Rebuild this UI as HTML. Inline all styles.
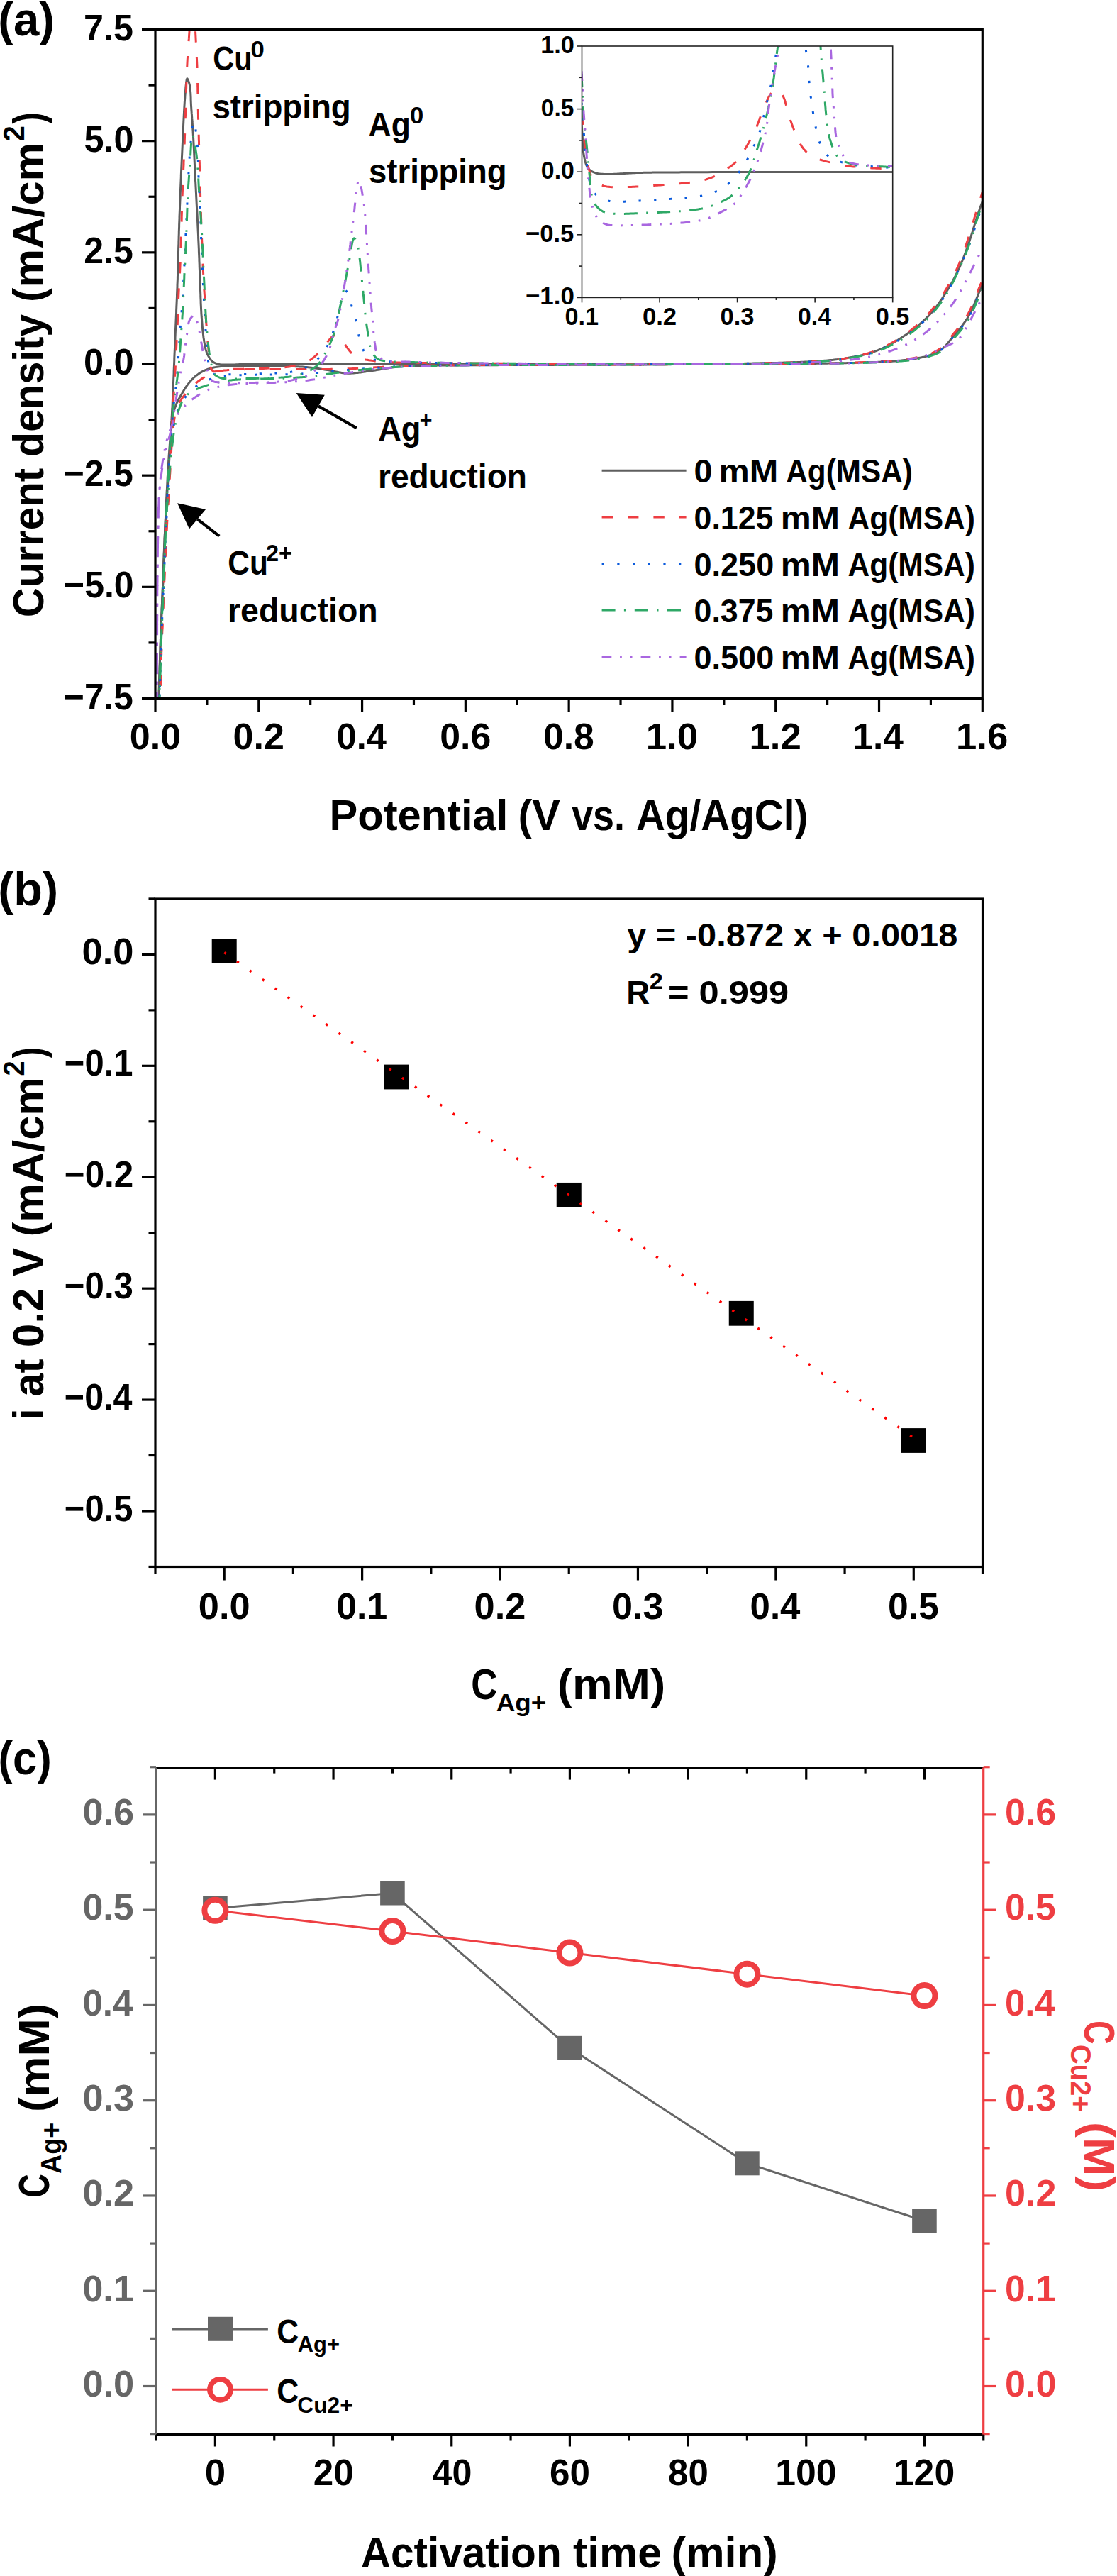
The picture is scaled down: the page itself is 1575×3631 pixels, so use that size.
<!DOCTYPE html><html><head><meta charset="utf-8"><style>html,body{margin:0;padding:0;background:#fff;}svg{display:block;}text{font-family:"Liberation Sans",sans-serif;font-weight:bold;}</style></head><body><svg width="1575" height="3631" viewBox="0 0 1575 3631" font-family="Liberation Sans, sans-serif" font-weight="bold">
<rect width="100%" height="100%" fill="#fff"/>
<defs>
<clipPath id="clipA"><rect x="219.0" y="41.5" width="1166.3" height="943.0"/></clipPath>
<clipPath id="clipI"><rect x="820.5" y="65.0" width="438.20000000000005" height="354.4"/></clipPath>
</defs>
<g clip-path="url(#clipA)" fill="none" stroke-width="3" stroke-linejoin="round">
<path d="M223.4,1003.4 223.4,1000.9 223.5,998.5 223.6,996.0 223.7,993.6 223.7,991.1 223.8,988.7 223.9,986.2 223.9,983.7 224.0,981.3 224.1,978.8 224.2,976.3 224.2,973.8 224.3,971.4 224.4,968.9 224.4,966.4 224.5,964.0 224.6,961.5 224.6,959.0 224.7,956.5 224.8,954.1 224.9,951.6 224.9,949.2 225.0,946.7 225.1,944.2 225.1,941.8 225.2,939.4 225.3,936.9 225.4,934.5 225.4,932.1 225.5,929.6 225.6,927.2 225.7,924.8 225.7,922.4 225.8,920.0 225.9,917.7 226.0,915.3 226.0,912.9 226.1,910.6 226.2,908.2 226.3,905.9 226.4,903.8 226.4,901.7 226.5,899.6 226.6,897.5 226.7,895.4 226.7,893.4 226.8,891.3 226.9,889.2 227.0,887.2 227.1,885.1 227.1,883.1 227.2,881.0 227.3,879.0 227.4,877.0 227.5,875.0 227.6,873.0 227.6,870.9 227.7,868.9 227.8,866.9 227.9,864.9 228.0,862.9 228.1,860.9 228.1,858.9 228.2,856.9 228.3,854.9 228.4,852.9 228.5,850.9 228.6,848.9 228.7,846.9 228.7,844.9 228.8,842.9 228.9,840.9 229.0,838.9 229.1,836.9 229.2,834.9 229.2,832.9 229.3,830.9 229.4,828.9 229.5,826.8 229.6,824.8 229.7,822.8 229.7,820.7 229.8,818.7 229.9,816.7 230.0,814.6 230.1,812.6 230.1,810.5 230.2,808.5 230.3,806.5 230.4,804.4 230.5,802.4 230.5,800.3 230.6,798.3 230.7,796.2 230.8,794.2 230.8,792.1 230.9,790.1 231.0,788.1 231.1,786.0 231.2,784.0 231.2,781.9 231.3,779.9 231.4,777.8 231.5,775.8 231.6,773.8 231.6,771.7 231.7,769.7 231.8,767.6 231.9,765.6 232.0,763.5 232.1,761.5 232.1,759.4 232.2,757.4 232.3,755.4 232.4,753.3 232.5,751.3 232.6,749.2 232.7,747.2 232.8,745.1 232.8,743.1 232.9,741.0 233.0,739.0 233.1,737.0 233.2,734.9 233.3,732.9 233.4,730.8 233.5,728.8 233.6,726.7 233.7,724.7 233.8,722.7 233.9,720.6 234.0,718.6 234.1,716.5 234.2,714.5 234.3,712.4 234.3,710.4 234.4,708.3 234.5,706.3 234.6,704.3 234.7,702.2 234.8,700.2 234.9,698.1 235.0,696.1 235.1,694.0 235.2,692.0 235.4,690.0 235.5,687.9 235.6,685.9 235.7,683.8 235.8,681.8 235.9,679.7 236.0,677.7 236.1,675.7 236.2,673.6 236.3,671.6 236.5,669.5 236.6,667.5 236.7,665.4 236.8,663.4 236.9,661.4 237.1,659.3 237.2,657.3 237.3,655.3 237.4,653.2 237.6,651.2 237.7,649.2 237.9,647.2 238.0,645.1 238.1,643.1 238.3,641.1 238.4,639.1 238.6,637.1 238.7,635.0 238.9,633.0 239.0,631.0 239.2,629.0 239.3,627.0 239.5,625.0 239.6,622.9 239.8,620.9 240.0,618.9 240.1,616.9 240.3,614.9 240.4,612.8 240.6,610.8 240.7,608.8 240.9,606.7 241.0,604.7 241.2,602.7 241.3,600.6 241.4,598.6 241.6,596.5 241.7,594.5 241.9,592.4 242.0,590.3 242.1,588.3 242.3,586.2 242.4,584.1 242.5,582.0 242.6,580.0 242.7,577.7 242.9,575.5 243.0,573.3 243.1,571.1 243.2,568.9 243.3,566.6 243.4,564.4 243.5,562.1 243.6,559.9 243.7,557.6 243.8,555.4 243.9,553.1 244.0,550.9 244.1,548.6 244.2,546.3 244.3,544.0 244.4,541.8 244.5,539.5 244.6,537.2 244.7,534.9 244.8,532.6 244.9,530.4 245.0,528.1 245.1,525.8 245.1,523.5 245.2,521.2 245.3,518.9 245.4,516.7 245.5,514.4 245.6,512.1 245.7,509.8 245.8,507.5 245.8,505.2 245.9,503.0 246.0,500.7 246.1,498.4 246.2,496.2 246.3,493.9 246.4,491.6 246.5,489.4 246.6,487.1 246.7,484.9 246.8,482.6 246.9,480.4 247.0,478.2 247.0,475.9 247.1,473.7 247.2,471.5 247.3,469.2 247.4,467.0 247.5,464.8 247.6,462.5 247.7,460.3 247.8,458.1 247.9,455.9 248.0,453.6 248.1,451.4 248.2,449.2 248.3,446.9 248.4,444.7 248.5,442.5 248.6,440.3 248.6,438.0 248.7,435.8 248.8,433.6 248.9,431.3 249.0,429.1 249.1,426.9 249.2,424.6 249.3,422.4 249.4,420.1 249.5,417.9 249.5,415.6 249.6,413.4 249.7,411.1 249.8,408.9 249.9,406.6 250.0,404.4 250.0,402.1 250.1,399.8 250.2,397.5 250.3,395.2 250.4,392.8 250.4,390.5 250.5,388.2 250.6,385.8 250.7,383.4 250.7,381.1 250.8,378.7 250.9,376.4 251.0,374.0 251.0,371.6 251.1,369.3 251.2,366.9 251.2,364.5 251.3,362.2 251.4,359.8 251.4,357.4 251.5,355.0 251.6,352.7 251.6,350.3 251.7,347.9 251.8,345.5 251.9,343.2 251.9,340.8 252.0,338.4 252.1,336.1 252.1,333.7 252.2,331.3 252.3,329.0 252.3,326.6 252.4,324.3 252.5,321.9 252.6,319.5 252.6,317.2 252.7,314.9 252.8,312.5 252.9,310.2 253.0,307.9 253.0,305.5 253.1,303.3 253.2,301.0 253.3,298.8 253.4,296.5 253.5,294.3 253.5,292.0 253.6,289.8 253.7,287.5 253.8,285.3 253.9,283.0 254.0,280.7 254.1,278.5 254.2,276.2 254.2,274.0 254.3,271.7 254.4,269.5 254.5,267.3 254.6,265.0 254.7,262.8 254.8,260.6 254.9,258.3 255.0,256.1 255.1,253.9 255.2,251.7 255.3,249.4 255.3,247.2 255.4,245.0 255.5,242.8 255.6,240.6 255.7,238.4 255.8,236.3 255.9,234.1 256.0,231.9 256.1,229.7 256.2,227.6 256.3,225.4 256.4,223.3 256.5,221.1 256.6,219.0 256.7,216.9 256.8,214.8 256.9,212.7 257.0,210.5 257.1,208.4 257.2,206.2 257.3,204.1 257.4,201.9 257.5,199.7 257.6,197.6 257.7,195.4 257.8,193.2 257.9,191.0 258.0,188.9 258.1,186.7 258.2,184.6 258.3,182.4 258.4,180.3 258.5,178.2 258.6,176.0 258.7,174.0 258.8,171.9 258.9,169.8 259.0,167.8 259.1,165.8 259.2,163.8 259.3,161.9 259.4,159.9 259.5,158.1 259.6,156.2 259.7,154.4 259.8,152.6 259.9,150.8 260.0,149.1 260.1,147.5 260.2,145.8 260.3,144.2 260.4,142.7 260.6,140.1 260.8,137.6 260.9,135.1 261.1,132.7 261.3,130.4 261.5,128.1 261.7,125.9 261.8,123.9 262.0,122.0 262.2,120.2 262.4,118.5 262.6,117.0 262.7,115.7 263.2,112.3 263.8,110.7 264.2,111.0 264.8,111.9 265.4,113.2 266.0,115.0 266.7,117.1 267.3,119.4 267.8,122.0 268.1,123.6 268.3,125.3 268.5,127.2 268.6,129.2 268.8,131.2 268.9,133.4 269.0,135.6 269.1,137.8 269.1,140.1 269.2,142.4 269.3,144.7 269.4,147.0 269.5,149.3 269.7,151.5 269.8,153.5 269.9,155.5 270.1,157.5 270.2,159.4 270.4,161.4 270.5,163.4 270.7,165.4 270.8,167.4 271.0,169.4 271.1,171.5 271.3,173.6 271.4,175.8 271.6,178.0 271.8,180.2 271.9,182.5 272.1,184.9 272.2,187.4 272.3,189.0 272.4,190.8 272.5,192.6 272.6,194.4 272.7,196.2 272.8,198.1 272.9,200.0 273.0,201.9 273.1,203.9 273.2,205.9 273.3,207.9 273.4,209.9 273.5,212.0 273.6,214.0 273.7,216.1 273.8,218.2 273.9,220.3 274.0,222.5 274.1,224.6 274.2,226.8 274.3,228.9 274.4,231.1 274.5,233.2 274.6,235.4 274.7,237.6 274.8,239.7 274.9,241.9 275.0,244.0 275.1,246.2 275.2,248.3 275.3,250.5 275.4,252.6 275.5,254.7 275.7,256.8 275.8,258.8 275.9,260.9 276.0,262.9 276.1,264.9 276.2,266.9 276.3,268.9 276.4,270.9 276.5,272.9 276.6,274.9 276.7,276.9 276.8,278.9 276.9,280.9 277.0,282.9 277.1,285.0 277.2,287.0 277.3,289.0 277.4,291.0 277.5,293.0 277.6,295.0 277.7,297.0 277.9,299.0 278.0,301.0 278.1,303.0 278.2,305.0 278.3,307.0 278.4,309.0 278.5,311.0 278.6,313.0 278.7,315.1 278.8,317.1 278.9,319.1 279.0,321.1 279.1,323.1 279.2,325.1 279.3,327.1 279.4,329.1 279.5,331.1 279.6,333.1 279.6,335.1 279.7,337.1 279.8,339.2 279.9,341.3 280.0,343.4 280.1,345.5 280.2,347.7 280.3,349.8 280.4,352.0 280.4,354.1 280.5,356.3 280.6,358.4 280.7,360.6 280.8,362.8 280.9,364.9 280.9,367.1 281.0,369.2 281.1,371.4 281.2,373.5 281.2,375.6 281.3,377.8 281.4,379.9 281.5,382.0 281.5,384.0 281.6,386.1 281.7,388.1 281.8,390.1 281.8,392.1 281.9,394.1 282.0,396.0 282.1,397.9 282.1,399.8 282.2,401.6 282.3,403.4 282.3,405.2 282.4,406.9 282.5,408.6 282.6,411.1 282.7,413.4 282.8,415.7 282.8,417.9 282.9,420.1 283.0,422.2 283.1,424.3 283.1,426.3 283.2,428.4 283.3,430.4 283.4,432.3 283.5,434.3 283.6,436.3 283.7,438.3 283.8,440.3 283.9,442.4 284.1,444.5 284.2,446.5 284.4,448.5 284.6,450.6 284.7,452.7 284.9,454.8 285.1,457.0 285.2,459.1 285.4,461.2 285.6,463.3 285.8,465.4 286.0,467.4 286.2,469.4 286.5,471.4 286.7,473.3 286.9,475.2 287.2,477.1 287.5,478.8 287.7,480.5 288.1,482.8 288.5,485.0 288.9,487.1 289.3,489.2 289.7,491.2 290.2,493.1 290.8,494.9 291.4,496.7 292.1,498.4 293.0,500.3 294.0,502.2 295.1,504.1 296.3,505.8 297.5,507.4 298.8,508.8 300.2,510.0 302.0,511.1 303.9,512.0 305.9,512.7 308.0,513.2 310.0,513.6 312.1,514.0 314.2,514.1 316.3,514.1 318.6,514.1 321.1,514.1 322.9,514.1 324.8,514.1 326.7,514.0 328.8,514.0 330.9,513.9 333.1,513.8 335.4,513.7 337.8,513.6 340.3,513.6 342.9,513.5 344.5,513.5 346.0,513.5 347.6,513.4 349.2,513.4 350.8,513.4 352.5,513.4 354.1,513.4 355.8,513.3 357.6,513.3 359.3,513.3 361.2,513.3 363.0,513.3 364.9,513.3 366.8,513.3 368.7,513.3 370.7,513.3 372.8,513.3 374.9,513.3 377.0,513.2 379.2,513.2 381.4,513.2 383.7,513.2 386.0,513.2 388.4,513.2 390.9,513.2 393.4,513.2 395.9,513.2 398.5,513.2 401.2,513.2 405.5,513.2 409.9,513.2 414.5,513.2 419.4,513.1 424.4,513.1 429.6,513.1 434.9,513.1 440.5,513.1 446.1,513.1 451.9,513.1 457.9,513.1 464.0,513.1 470.2,513.1 476.5,513.1 483.0,513.1 489.5,513.1 496.1,513.1 502.8,513.1 509.6,513.1 516.5,513.1 523.4,513.1 530.4,513.1 537.4,513.1 544.4,513.1 551.5,513.1 558.6,513.1 565.8,513.1 572.9,513.1 580.0,513.1 587.2,513.1 594.3,513.1 601.4,513.1 608.4,513.1 615.4,513.1 622.4,513.1 629.3,513.1 636.2,513.1 643.0,513.1 649.7,513.1 656.4,513.1 663.5,513.1 670.6,513.1 677.9,513.1 685.2,513.1 692.6,513.1 700.0,513.1 707.5,513.1 715.0,513.1 722.6,513.1 730.2,513.1 737.9,513.1 745.6,513.1 753.3,513.1 761.0,513.1 768.7,513.1 776.4,513.1 784.1,513.1 791.8,513.1 799.5,513.1 807.2,513.1 814.8,513.1 822.5,513.1 830.0,513.1 837.6,513.1 845.1,513.1 852.5,513.1 859.9,513.1 867.2,513.1 874.5,513.1 881.6,513.1 888.7,513.1 895.7,513.1 902.6,513.0 909.4,513.0 916.1,513.0 922.7,513.0 929.2,513.0 935.6,513.0 941.8,513.0 947.9,513.0 952.2,513.0 956.4,513.0 960.7,513.0 964.8,513.0 969.0,513.0 973.2,513.0 977.3,513.0 981.4,513.0 985.5,512.9 989.5,512.9 993.5,512.9 997.5,512.9 1001.5,512.9 1005.4,512.9 1009.3,512.9 1013.1,512.9 1017.0,512.9 1020.7,512.9 1024.5,512.9 1028.2,512.9 1031.9,512.9 1035.6,512.9 1039.2,512.8 1042.7,512.8 1046.3,512.8 1049.7,512.8 1053.2,512.8 1056.6,512.8 1059.9,512.8 1063.3,512.8 1066.5,512.8 1069.7,512.8 1072.9,512.8 1076.0,512.7 1079.1,512.7 1082.1,512.7 1085.1,512.7 1088.0,512.7 1090.9,512.7 1093.7,512.7 1096.2,512.7 1098.5,512.7 1100.9,512.7 1103.1,512.7 1105.4,512.6 1107.5,512.6 1109.6,512.6 1111.7,512.6 1113.8,512.6 1115.8,512.6 1117.7,512.6 1119.7,512.6 1121.6,512.6 1123.5,512.6 1125.4,512.6 1127.3,512.6 1129.1,512.5 1131.0,512.5 1132.8,512.5 1134.7,512.5 1136.5,512.5 1138.4,512.5 1140.3,512.5 1142.1,512.5 1144.0,512.4 1146.0,512.4 1147.9,512.4 1149.9,512.4 1151.9,512.3 1154.0,512.3 1156.1,512.3 1158.1,512.3 1160.2,512.2 1162.2,512.2 1164.3,512.2 1166.3,512.2 1168.4,512.1 1170.4,512.1 1172.4,512.1 1174.5,512.0 1176.5,512.0 1178.5,512.0 1180.6,511.9 1182.6,511.9 1184.6,511.9 1186.7,511.8 1188.7,511.8 1190.8,511.7 1192.8,511.7 1194.9,511.6 1196.9,511.6 1199.0,511.5 1201.0,511.5 1203.1,511.4 1205.1,511.4 1207.1,511.3 1209.2,511.3 1211.3,511.2 1213.3,511.1 1215.4,511.1 1217.5,511.0 1219.6,511.0 1221.8,510.9 1223.9,510.8 1226.0,510.8 1228.1,510.7 1230.2,510.6 1232.3,510.6 1234.4,510.5 1236.4,510.4 1238.5,510.3 1240.5,510.2 1242.5,510.1 1244.5,510.0 1246.5,509.9 1248.5,509.8 1250.4,509.7 1252.3,509.6 1254.1,509.5 1256.0,509.4 1257.7,509.2 1260.0,509.0 1262.3,508.9 1264.5,508.7 1266.7,508.5 1268.9,508.3 1271.0,508.1 1273.1,507.8 1275.1,507.6 1277.2,507.4 1279.2,507.1 1281.1,506.9 1283.1,506.6 1285.0,506.4 1286.9,506.1 1288.7,505.8 1290.5,505.5 1292.9,505.0 1295.1,504.6 1297.3,504.2 1299.5,503.8 1301.6,503.3 1303.7,502.9 1305.7,502.3 1307.7,501.8 1309.7,501.1 1311.7,500.4 1313.7,499.7 1315.6,498.9 1317.6,498.0 1319.5,497.1 1321.3,496.2 1323.2,495.2 1325.0,494.1 1326.7,492.9 1328.4,491.6 1330.0,490.4 1331.4,489.1 1332.8,487.7 1334.2,486.2 1335.5,484.7 1336.9,483.1 1338.2,481.5 1339.5,479.8 1340.9,478.1 1342.3,476.4 1343.8,474.7 1344.9,473.2 1346.2,471.8 1347.4,470.3 1348.7,468.8 1349.9,467.3 1351.2,465.8 1352.5,464.2 1353.8,462.6 1355.1,461.0 1356.4,459.3 1357.7,457.6 1358.9,455.9 1360.2,454.2 1361.4,452.4 1362.6,450.6 1363.8,448.8 1364.9,447.0 1365.8,445.3 1366.8,443.6 1367.7,441.9 1368.6,440.2 1369.5,438.4 1370.3,436.5 1371.2,434.7 1372.0,432.8 1372.8,430.9 1373.6,429.0 1374.4,427.1 1375.2,425.2 1376.0,423.2 1376.8,421.3 1377.6,419.4 1378.4,417.4 1379.1,415.5 1379.9,413.6 1380.7,411.7 1381.5,409.8 1382.3,408.0 1383.1,406.1 1384.0,404.2 1384.8,402.3 1385.7,400.4 1386.5,398.5 1387.4,396.6 1388.2,394.7 1389.0,392.8 1389.9,390.9 1390.7,389.1 1391.5,387.2 1392.4,385.3 1393.2,383.4 1394.0,381.5 1394.9,379.7 1395.7,377.8 1396.5,375.9 1397.4,374.1 1398.2,372.2 1399.0,370.3 1399.9,368.4" stroke="#5e5e5e"/>
<path d="M1399.9,249.0 1399.1,250.8 1398.4,252.6 1397.6,254.5 1396.8,256.3 1396.1,258.1 1395.3,259.9 1394.5,261.7 1393.7,263.5 1393.0,265.3 1392.2,267.1 1391.4,269.0 1390.7,270.8 1389.9,272.6 1389.1,274.4 1388.4,276.3 1387.6,278.2 1386.9,280.1 1386.1,282.0 1385.4,283.9 1384.6,285.8 1383.9,287.8 1383.1,289.8 1382.5,291.6 1381.8,293.4 1381.2,295.3 1380.5,297.2 1379.9,299.1 1379.2,301.1 1378.6,303.0 1377.9,305.0 1377.3,307.0 1376.7,309.0 1376.0,311.1 1375.4,313.1 1374.7,315.1 1374.1,317.2 1373.5,319.2 1372.8,321.3 1372.2,323.3 1371.6,325.3 1371.0,327.3 1370.3,329.3 1369.7,331.2 1369.1,333.2 1368.5,335.1 1367.9,336.9 1367.3,338.8 1366.7,340.6 1366.1,342.4 1365.5,344.1 1364.9,345.8 1364.1,347.9 1363.4,350.0 1362.7,352.0 1362.0,354.0 1361.3,355.9 1360.6,357.8 1359.9,359.7 1359.2,361.5 1358.5,363.3 1357.8,365.1 1357.1,366.9 1356.4,368.7 1355.7,370.5 1354.9,372.3 1354.1,374.1 1353.3,376.0 1352.5,377.8 1351.6,379.7 1350.8,381.5 1349.9,383.3 1349.0,385.2 1348.1,387.0 1347.2,388.8 1346.3,390.7 1345.3,392.5 1344.4,394.3 1343.4,396.1 1342.4,398.0 1341.4,399.8 1340.4,401.6 1339.3,403.4 1338.3,405.2 1337.2,407.0 1336.1,408.8 1335.0,410.5 1333.9,412.3 1332.8,414.0 1331.7,415.7 1330.6,417.5 1329.4,419.2 1328.3,421.0 1327.1,422.7 1325.9,424.4 1324.8,426.1 1323.5,427.8 1322.3,429.5 1321.1,431.2 1319.8,432.9 1318.5,434.6 1317.2,436.2 1315.8,437.8 1314.5,439.4 1313.1,441.0 1311.7,442.6 1310.3,444.0 1309.0,445.5 1307.6,446.9 1306.2,448.3 1304.8,449.7 1303.3,451.1 1301.9,452.4 1300.4,453.8 1298.9,455.1 1297.4,456.4 1295.9,457.8 1294.3,459.1 1292.7,460.3 1291.2,461.6 1289.6,462.9 1287.9,464.2 1286.3,465.4 1284.7,466.6 1283.0,467.8 1281.3,469.1 1279.6,470.3 1278.0,471.4 1276.3,472.5 1274.7,473.6 1273.0,474.7 1271.3,475.9 1269.5,477.0 1267.8,478.1 1266.0,479.2 1264.2,480.2 1262.4,481.3 1260.6,482.4 1258.8,483.4 1257.0,484.4 1255.2,485.4 1253.3,486.4 1251.5,487.4 1249.6,488.3 1247.7,489.2 1245.9,490.1 1244.0,491.0 1242.2,491.8 1240.3,492.6 1238.4,493.4 1236.6,494.1 1234.7,494.9 1232.7,495.6 1230.8,496.3 1228.8,496.9 1226.8,497.5 1224.9,498.1 1222.9,498.6 1220.9,499.2 1218.9,499.7 1216.9,500.2 1214.9,500.6 1212.9,501.1 1210.9,501.5 1208.9,501.9 1206.9,502.3 1204.9,502.7 1202.9,503.1 1200.9,503.4 1198.9,503.8 1196.9,504.1 1194.9,504.5 1192.9,504.8 1190.8,505.2 1188.8,505.5 1186.8,505.8 1184.8,506.1 1182.8,506.3 1180.8,506.6 1178.8,506.8 1176.7,507.0 1174.7,507.3 1172.7,507.5 1170.7,507.6 1168.7,507.8 1166.7,508.0 1164.6,508.2 1162.6,508.3 1160.5,508.5 1158.4,508.6 1156.3,508.8 1154.2,508.9 1152.0,509.1 1149.9,509.2 1148.0,509.4 1146.1,509.5 1144.3,509.6 1142.5,509.7 1140.6,509.8 1138.8,509.9 1137.0,510.0 1135.1,510.1 1133.3,510.2 1131.4,510.3 1129.6,510.3 1127.7,510.4 1125.8,510.5 1123.9,510.6 1122.0,510.6 1120.0,510.7 1118.0,510.8 1116.0,510.8 1114.0,510.9 1111.9,510.9 1109.8,511.0 1107.6,511.1 1105.4,511.1 1103.2,511.2 1100.9,511.2 1098.6,511.3 1096.2,511.4 1093.7,511.4 1090.9,511.5 1088.0,511.6 1085.1,511.6 1082.0,511.7 1079.0,511.8 1075.8,511.9 1072.7,511.9 1069.4,512.0 1066.1,512.1 1062.8,512.1 1059.4,512.2 1055.9,512.3 1052.5,512.3 1048.9,512.4 1045.4,512.4 1041.7,512.5 1038.1,512.5 1034.4,512.6 1030.7,512.7 1026.9,512.7 1023.2,512.8 1019.4,512.8 1015.5,512.9 1011.7,512.9 1007.8,513.0 1003.9,513.0 999.9,513.1 996.0,513.1 992.0,513.2 988.1,513.2 984.1,513.3 980.1,513.3 976.1,513.3 972.1,513.4 968.0,513.4 964.0,513.5 960.0,513.5 956.0,513.5 952.0,513.6 947.9,513.6 943.0,513.7 937.9,513.7 932.7,513.8 927.4,513.8 922.0,513.8 916.6,513.9 911.1,513.9 905.5,513.9 899.8,514.0 894.1,514.0 888.3,514.0 882.5,514.1 876.6,514.1 870.7,514.1 864.8,514.1 858.9,514.2 853.0,514.2 847.1,514.2 841.1,514.2 835.2,514.3 829.3,514.3 823.4,514.3 817.6,514.3 811.8,514.3 806.0,514.3 800.3,514.4 794.6,514.4 789.0,514.4 783.5,514.4 778.0,514.4 772.7,514.4 767.4,514.4 762.2,514.5 757.1,514.5 752.2,514.5 747.3,514.5 742.6,514.5 738.0,514.5 733.6,514.6 729.3,514.6 726.6,514.6 724.0,514.6 721.4,514.6 718.8,514.6 716.2,514.6 713.7,514.6 711.2,514.6 708.8,514.6 706.3,514.6 703.9,514.6 701.5,514.7 699.2,514.7 696.8,514.7 694.5,514.7 692.2,514.7 690.0,514.7 687.8,514.7 685.5,514.7 683.4,514.7 681.2,514.7 679.0,514.7 676.9,514.7 674.8,514.7 672.7,514.7 670.7,514.7 668.6,514.7 666.6,514.7 664.6,514.7 662.6,514.8 660.6,514.8 658.7,514.8 656.7,514.8 654.8,514.8 652.9,514.8 651.0,514.8 649.1,514.8 647.3,514.8 645.4,514.9 643.6,514.9 641.8,514.9 639.4,514.9 637.0,514.9 634.7,514.9 632.5,515.0 630.3,515.0 628.1,515.0 626.0,515.0 623.9,515.1 621.8,515.1 619.8,515.1 617.7,515.1 615.8,515.1 613.8,515.2 611.8,515.2 609.8,515.2 607.9,515.3 605.9,515.3 604.0,515.4 602.0,515.4 600.0,515.5 598.0,515.5 595.9,515.6 593.8,515.6 591.7,515.7 589.6,515.7 587.5,515.8 585.4,515.8 583.3,515.9 581.3,515.9 579.2,516.0 577.2,516.1 575.1,516.1 573.1,516.2 571.0,516.3 569.0,516.5 567.0,516.6 564.9,516.7 562.9,516.9 560.9,517.1 558.9,517.3 556.9,517.5 554.9,517.8 552.9,518.1 550.9,518.3 548.9,518.6 546.9,519.0 544.9,519.3 542.9,519.6 541.0,520.0 539.0,520.3 537.0,520.6 535.0,521.0 533.1,521.3 531.1,521.6 529.1,521.9 527.1,522.2 525.2,522.4 523.1,522.7 521.0,523.0 518.9,523.3 516.9,523.6 514.8,523.9 512.7,524.3 510.6,524.6 508.5,524.9 506.5,525.1 504.4,525.4 502.3,525.6 500.3,525.8 498.2,526.0 496.2,526.1 494.2,526.2 492.2,526.2 490.2,526.2 488.1,526.1 486.0,525.9 483.9,525.7 481.8,525.4 479.8,525.1 477.7,524.7 475.7,524.3 473.7,523.9 471.6,523.5 469.6,523.1 467.6,522.6 465.6,522.2 463.6,521.8 461.6,521.5 459.5,521.2 457.4,520.9 455.4,520.6 453.3,520.2 451.2,519.9 449.1,519.6 447.1,519.3 445.0,519.0 442.9,518.8 440.8,518.5 438.8,518.2 436.7,518.0 434.6,517.8 432.5,517.6 430.4,517.4 428.4,517.2 426.5,517.1 424.5,517.0 422.6,516.9 420.7,516.8 418.9,516.8 416.9,516.7 415.0,516.6 413.0,516.6 411.0,516.6 408.9,516.5 406.8,516.5 404.5,516.5 402.2,516.4 399.8,516.4 398.2,516.4 396.5,516.3 394.7,516.3 392.9,516.3 391.0,516.3 389.0,516.3 387.0,516.2 384.9,516.2 382.8,516.2 380.7,516.2 378.5,516.2 376.3,516.2 374.0,516.1 371.7,516.1 369.5,516.1 367.2,516.1 364.9,516.1 362.6,516.1 360.3,516.1 358.0,516.1 355.7,516.1 353.5,516.1 351.2,516.1 349.0,516.1 346.9,516.1 344.7,516.1 342.6,516.1 340.6,516.1 338.6,516.2 336.7,516.2 334.8,516.2 333.0,516.2 331.2,516.2 329.6,516.3 328.0,516.3 326.5,516.3 325.1,516.3 322.3,516.4 319.9,516.4 317.6,516.4 315.5,516.4 313.5,516.5 311.5,516.6 309.6,516.7 307.6,516.9 305.6,517.2 303.5,517.6 301.5,518.0 299.4,518.5 297.4,519.0 295.4,519.6 293.4,520.2 291.5,520.9 289.6,521.7 287.7,522.5 285.9,523.4 284.1,524.4 282.3,525.4 280.6,526.5 279.0,527.7 277.3,528.9 275.7,530.2 274.2,531.5 272.6,533.0 271.0,534.5 269.5,536.2 268.1,537.8 266.6,539.6 265.2,541.4 263.9,543.1 262.6,544.9 261.3,546.8 260.1,548.7 258.9,550.7 257.7,552.7 256.6,554.7 255.5,556.5 254.5,558.3 253.6,559.9 252.3,562.1 251.1,564.1 249.9,566.4 249.3,567.9 248.6,569.5 247.9,571.2 247.3,573.0 246.6,574.9 245.9,577.0 245.3,579.1 244.7,581.3 244.1,583.6 243.6,585.9 243.3,587.5 243.1,589.2 242.8,591.0 242.6,592.8 242.3,594.7 242.1,596.6 241.9,598.6 241.8,600.6 241.6,602.7 241.4,604.8 241.3,606.9 241.2,609.1 241.0,611.2 240.9,613.4 240.8,615.5 240.7,617.7 240.5,619.9 240.4,622.0 240.3,624.2 240.2,626.3 240.1,628.4 239.9,630.4 239.8,632.4 239.6,634.5 239.5,636.5 239.3,638.4 239.2,640.4 239.1,642.3 238.9,644.3 238.8,646.2 238.7,648.2 238.6,650.1 238.4,652.0 238.3,654.0 238.2,655.9 238.1,657.9 238.0,659.8 237.8,661.8 237.7,663.8 237.6,665.9 237.5,667.9 237.3,670.0 237.2,672.1 237.1,674.3 236.9,676.5 236.8,678.3 236.7,680.1 236.6,682.0 236.5,683.8 236.3,685.7 236.2,687.6 236.1,689.6 236.0,691.5 235.8,693.4 235.7,695.4 235.6,697.4 235.5,699.4 235.3,701.4 235.2,703.4 235.1,705.4 234.9,707.5 234.8,709.5 234.7,711.6 234.5,713.6 234.4,715.7 234.3,717.8 234.2,719.9 234.0,722.0 233.9,724.1 233.8,726.2 233.7,728.3 233.5,730.4 233.4,732.5 233.3,734.6 233.2,736.7 233.1,738.8 233.0,741.0 232.8,743.1 232.8,745.0 232.7,747.0 232.6,749.0 232.5,750.9 232.4,752.9 232.3,754.9 232.2,756.9 232.1,758.9 232.0,760.9 231.9,762.9 231.9,765.0 231.8,767.0 231.7,769.0 231.6,771.1 231.5,773.1 231.4,775.2 231.4,777.3 231.3,779.3 231.2,781.4 231.1,783.5 231.1,785.5 231.0,787.6 230.9,789.7 230.8,791.7 230.7,793.8 230.7,795.9 230.6,798.0 230.5,800.1 230.4,802.1 230.4,804.2 230.3,806.3 230.2,808.4 230.1,810.4 230.0,812.5 230.0,814.6 229.9,816.6 229.8,818.7 229.7,820.7 229.7,822.8 229.6,824.8 229.5,826.8 229.4,828.9 229.3,830.9 229.2,832.9 229.2,834.9 229.1,836.9 229.0,838.9 228.9,840.9 228.8,842.9 228.7,844.9 228.7,846.9 228.6,848.9 228.5,850.9 228.4,852.9 228.3,854.9 228.2,856.9 228.1,858.9 228.1,860.9 228.0,862.9 227.9,864.9 227.8,866.9 227.7,868.9 227.6,870.9 227.6,873.0 227.5,875.0 227.4,877.0 227.3,879.0 227.2,881.0 227.1,883.1 227.1,885.1 227.0,887.2 226.9,889.2 226.8,891.3 226.7,893.4 226.7,895.4 226.6,897.5 226.5,899.6 226.4,901.7 226.4,903.8 226.3,905.9 226.2,908.2 226.1,910.6 226.0,912.9 226.0,915.3 225.9,917.7 225.8,920.0 225.7,922.4 225.7,924.8 225.6,927.2 225.5,929.6 225.4,932.1 225.4,934.5 225.3,936.9 225.2,939.4 225.1,941.8 225.1,944.2 225.0,946.7 224.9,949.2 224.9,951.6 224.8,954.1 224.7,956.5 224.6,959.0 224.6,961.5 224.5,964.0 224.4,966.4 224.4,968.9 224.3,971.4 224.2,973.8 224.2,976.3 224.1,978.8 224.0,981.3 223.9,983.7 223.9,986.2 223.8,988.7 223.7,991.1 223.7,993.6 223.6,996.0 223.5,998.5 223.4,1000.9 223.4,1003.4" stroke="#5e5e5e"/>
<path d="M225.2,1003.4 225.3,1000.9 225.3,998.5 225.4,996.0 225.5,993.6 225.6,991.1 225.6,988.7 225.7,986.2 225.8,983.7 225.8,981.3 225.9,978.8 226.0,976.3 226.0,973.8 226.1,971.4 226.2,968.9 226.3,966.4 226.3,964.0 226.4,961.5 226.5,959.0 226.5,956.5 226.6,954.1 226.7,951.6 226.8,949.2 226.8,946.7 226.9,944.2 227.0,941.8 227.0,939.4 227.1,936.9 227.2,934.5 227.3,932.1 227.3,929.6 227.4,927.2 227.5,924.8 227.6,922.4 227.6,920.0 227.7,917.7 227.8,915.3 227.9,912.9 227.9,910.6 228.0,908.2 228.1,905.9 228.2,903.8 228.3,901.7 228.3,899.6 228.4,897.5 228.5,895.4 228.6,893.4 228.7,891.3 228.7,889.2 228.8,887.2 228.9,885.1 229.0,883.1 229.1,881.0 229.1,879.0 229.2,877.0 229.3,875.0 229.4,873.0 229.5,870.9 229.5,868.9 229.6,866.9 229.7,864.9 229.8,862.9 229.9,860.9 230.0,858.9 230.1,856.9 230.1,854.9 230.2,852.9 230.3,850.9 230.4,848.9 230.5,846.9 230.6,844.9 230.6,842.9 230.7,840.9 230.8,838.9 230.9,836.9 231.0,834.9 231.1,832.9 231.1,830.9 231.2,828.9 231.3,826.8 231.4,824.8 231.5,822.8 231.6,820.7 231.6,818.7 231.7,816.7 231.8,814.6 231.9,812.6 232.0,810.5 232.0,808.5 232.1,806.5 232.2,804.4 232.3,802.4 232.4,800.3 232.4,798.3 232.5,796.2 232.6,794.2 232.7,792.1 232.7,790.1 232.8,788.1 232.9,786.0 233.0,784.0 233.1,781.9 233.1,779.9 233.2,777.8 233.3,775.8 233.4,773.8 233.5,771.7 233.6,769.7 233.6,767.6 233.7,765.6 233.8,763.5 233.9,761.5 234.0,759.4 234.1,757.4 234.1,755.4 234.2,753.3 234.3,751.3 234.4,749.2 234.5,747.2 234.6,745.1 234.7,743.1 234.8,741.0 234.9,739.0 234.9,736.9 235.0,734.9 235.1,732.8 235.2,730.8 235.3,728.7 235.4,726.7 235.5,724.6 235.6,722.5 235.7,720.5 235.8,718.4 235.9,716.4 236.0,714.3 236.1,712.2 236.2,710.2 236.3,708.1 236.4,706.1 236.5,704.0 236.6,701.9 236.7,699.9 236.8,697.8 236.9,695.8 237.0,693.7 237.1,691.7 237.2,689.6 237.3,687.6 237.4,685.5 237.5,683.5 237.6,681.5 237.7,679.4 237.8,677.4 237.9,675.4 238.0,673.4 238.1,671.4 238.3,669.3 238.4,667.3 238.5,665.3 238.6,663.4 238.7,661.4 238.8,659.3 238.9,657.2 239.0,655.1 239.1,653.1 239.3,651.0 239.4,648.9 239.5,646.8 239.6,644.8 239.7,642.7 239.9,640.7 240.0,638.6 240.1,636.6 240.2,634.5 240.4,632.5 240.5,630.4 240.6,628.4 240.7,626.4 240.8,624.3 241.0,622.3 241.1,620.3 241.2,618.3 241.3,616.2 241.5,614.2 241.6,612.2 241.7,610.2 241.8,608.2 242.0,606.2 242.1,604.2 242.2,602.2 242.3,600.3 242.5,598.3 242.6,596.3 242.7,594.3 242.8,592.4 242.9,590.4 243.1,588.4 243.2,586.3 243.3,584.2 243.4,582.0 243.6,579.9 243.7,577.8 243.8,575.6 244.0,573.4 244.1,571.3 244.2,569.1 244.4,567.0 244.5,564.9 244.6,562.7 244.8,560.6 244.9,558.5 245.0,556.3 245.2,554.2 245.3,552.2 245.4,550.1 245.6,548.0 245.7,546.0 245.8,543.9 245.9,541.9 246.0,539.9 246.2,538.0 246.3,536.0 246.4,534.1 246.5,532.2 246.6,530.4 246.7,528.5 246.8,526.7 246.9,524.9 247.0,522.6 247.2,520.3 247.3,518.0 247.4,515.8 247.5,513.7 247.6,511.6 247.7,509.5 247.8,507.4 247.9,505.4 248.0,503.4 248.1,501.4 248.2,499.4 248.3,497.4 248.4,495.3 248.5,493.3 248.6,491.2 248.7,489.1 248.8,487.1 248.9,485.0 249.0,483.0 249.1,480.9 249.2,478.9 249.3,476.8 249.4,474.7 249.5,472.7 249.6,470.6 249.7,468.5 249.8,466.5 249.9,464.4 250.0,462.3 250.1,460.3 250.2,458.2 250.3,456.1 250.4,454.1 250.5,452.0 250.6,450.0 250.7,447.9 250.7,445.8 250.8,443.8 250.9,441.7 251.0,439.6 251.0,437.6 251.1,435.5 251.2,433.4 251.2,431.4 251.3,429.3 251.4,427.2 251.5,425.2 251.5,423.1 251.6,421.1 251.7,419.0 251.8,417.0 251.9,414.9 252.0,412.8 252.1,410.8 252.2,408.8 252.3,406.9 252.4,404.9 252.5,403.0 252.6,401.1 252.8,399.2 252.9,397.2 253.0,395.2 253.1,393.2 253.2,391.0 253.4,388.9 253.5,386.6 253.6,384.2 253.7,381.7 253.8,379.1 253.9,377.1 254.0,374.9 254.1,372.7 254.2,370.5 254.3,368.1 254.4,365.7 254.5,363.2 254.5,360.7 254.6,358.1 254.7,355.4 254.8,352.7 254.9,350.0 255.0,347.2 255.1,344.3 255.2,341.5 255.3,338.6 255.3,335.7 255.4,332.7 255.5,329.7 255.6,326.8 255.7,323.8 255.8,320.8 255.9,317.8 256.0,314.8 256.1,311.8 256.2,308.8 256.2,305.8 256.3,302.8 256.4,299.9 256.5,296.9 256.6,294.0 256.7,291.2 256.8,288.3 256.9,285.5 257.0,282.8 257.1,280.0 257.1,277.4 257.2,274.8 257.3,272.2 257.4,269.7 257.5,267.5 257.6,265.3 257.7,263.1 257.7,260.9 257.8,258.7 257.9,256.6 258.0,254.5 258.1,252.4 258.2,250.3 258.3,248.2 258.3,246.1 258.4,244.1 258.5,242.0 258.6,240.0 258.7,238.0 258.8,235.9 258.9,233.9 259.0,231.9 259.0,229.9 259.1,228.0 259.2,226.0 259.3,224.0 259.4,222.0 259.5,220.0 259.5,218.1 259.6,216.1 259.7,214.1 259.8,212.1 259.9,210.2 259.9,208.2 260.0,206.2 260.1,204.2 260.2,202.2 260.3,200.2 260.3,198.2 260.4,196.2 260.5,194.1 260.5,192.0 260.6,189.9 260.7,187.9 260.8,185.7 260.8,183.6 260.9,181.5 261.0,179.4 261.0,177.3 261.1,175.1 261.1,173.0 261.2,170.9 261.3,168.7 261.3,166.6 261.4,164.5 261.5,162.4 261.5,160.3 261.6,158.1 261.6,156.1 261.7,154.0 261.8,151.9 261.8,149.9 261.9,147.8 261.9,145.8 262.0,143.8 262.1,141.8 262.1,139.8 262.2,137.9 262.2,136.0 262.3,134.1 262.4,132.3 262.4,130.4 262.5,128.6 262.5,126.8 262.6,125.1 262.7,122.8 262.7,120.6 262.8,118.4 262.9,116.3 263.0,114.2 263.0,112.2 263.1,110.2 263.2,108.2 263.2,106.3 263.3,104.4 263.4,102.5 263.5,100.5 263.6,98.6 263.6,96.7 263.7,94.8 263.8,92.8 263.9,90.8 264.0,88.8 264.1,86.8 264.2,84.8 264.3,82.8 264.5,80.9 264.6,78.9 264.7,76.9 264.8,75.0 265.0,73.0 265.1,71.1 265.2,69.1 265.4,67.1 265.5,65.1 265.7,63.1 265.8,61.1 266.0,59.0 266.1,57.0 266.3,54.9 266.4,52.8 266.6,50.6 266.7,48.4 266.9,46.2 267.0,44.0 267.2,42.1 267.3,40.1 267.4,37.9 267.6,35.6 267.7,33.2 267.9,30.7 268.0,28.2 268.2,25.6 268.3,22.9 268.5,20.2 268.6,17.5 268.8,14.8 268.9,12.0 269.1,9.3 269.3,6.6 269.4,4.0 269.6,1.4 269.7,-1.1 269.9,-3.5 270.1,-5.8 270.2,-8.0 270.4,-10.1 270.5,-12.1 270.7,-13.9 270.8,-15.5 271.0,-17.0 271.1,-18.3 271.3,-19.4 271.4,-20.2 271.6,-20.8 271.7,-21.2 271.8,-21.4 272.0,-21.2 272.1,-20.9 272.2,-20.4 272.3,-19.6 272.5,-18.6 272.6,-17.5 272.7,-16.2 272.8,-14.7 273.0,-13.1 273.1,-11.3 273.2,-9.4 273.3,-7.4 273.4,-5.3 273.5,-3.1 273.7,-0.7 273.8,1.7 273.9,4.1 274.0,6.7 274.1,9.3 274.2,11.9 274.3,14.5 274.4,17.2 274.6,19.9 274.7,22.6 274.8,25.3 274.9,27.9 275.0,30.5 275.1,33.1 275.2,35.6 275.3,38.1 275.4,40.5 275.5,42.8 275.6,45.0 275.7,47.1 275.8,49.1 275.9,50.9 276.0,53.2 276.1,55.4 276.2,57.6 276.3,59.7 276.4,61.8 276.5,63.9 276.6,65.9 276.7,67.9 276.8,69.9 277.0,71.9 277.1,73.9 277.1,75.8 277.2,77.8 277.3,79.8 277.4,81.8 277.5,83.8 277.6,85.8 277.7,87.9 277.8,90.0 277.9,92.1 278.0,94.2 278.0,96.5 278.1,98.7 278.2,100.5 278.2,102.4 278.3,104.3 278.3,106.2 278.4,108.1 278.5,110.0 278.5,112.0 278.5,113.9 278.6,115.9 278.6,117.9 278.7,119.9 278.7,121.9 278.8,123.9 278.8,126.0 278.8,128.0 278.9,130.1 278.9,132.1 278.9,134.2 279.0,136.3 279.0,138.4 279.1,140.5 279.1,142.6 279.1,144.6 279.2,146.7 279.2,148.8 279.2,150.9 279.3,153.0 279.3,155.1 279.4,157.2 279.4,159.3 279.5,161.4 279.5,163.5 279.5,165.6 279.6,167.7 279.6,169.7 279.7,171.7 279.7,173.7 279.8,175.7 279.9,177.7 279.9,179.7 280.0,181.7 280.0,183.7 280.1,185.7 280.1,187.7 280.2,189.8 280.2,191.8 280.3,193.8 280.3,195.8 280.4,197.9 280.5,199.9 280.5,201.9 280.6,203.9 280.6,206.0 280.7,208.0 280.8,210.0 280.8,212.1 280.9,214.1 280.9,216.1 281.0,218.2 281.1,220.2 281.1,222.2 281.2,224.3 281.2,226.3 281.3,228.3 281.4,230.4 281.4,232.4 281.5,234.4 281.5,236.4 281.6,238.4 281.7,240.4 281.7,242.4 281.8,244.4 281.8,246.4 281.9,248.5 282.0,250.6 282.0,252.6 282.1,254.7 282.1,256.7 282.2,258.8 282.2,260.8 282.3,262.9 282.4,264.9 282.4,267.0 282.5,269.0 282.5,271.1 282.6,273.1 282.6,275.2 282.7,277.2 282.8,279.2 282.8,281.3 282.9,283.3 282.9,285.4 283.0,287.4 283.1,289.4 283.1,291.5 283.2,293.5 283.2,295.5 283.3,297.6 283.4,299.6 283.4,301.6 283.5,303.7 283.5,305.7 283.6,307.8 283.7,309.8 283.7,311.8 283.8,313.9 283.9,315.9 283.9,318.0 284.0,320.0 284.1,322.1 284.2,324.1 284.2,326.2 284.3,328.3 284.4,330.5 284.5,332.6 284.5,334.7 284.6,336.9 284.7,339.1 284.8,341.2 284.9,343.4 285.0,345.6 285.0,347.8 285.1,349.9 285.2,352.1 285.3,354.3 285.4,356.4 285.5,358.6 285.5,360.7 285.6,362.8 285.7,364.9 285.8,367.0 285.9,369.1 286.0,371.2 286.1,373.2 286.1,375.2 286.2,377.2 286.3,379.1 286.4,381.1 286.5,383.0 286.6,384.8 286.7,386.6 286.8,388.4 286.8,390.2 286.9,391.9 287.0,393.6 287.1,396.0 287.3,398.3 287.4,400.6 287.5,402.8 287.7,404.9 287.8,407.0 287.9,409.0 288.1,411.0 288.2,412.9 288.3,414.9 288.5,416.8 288.6,418.8 288.7,420.7 288.9,422.7 289.0,424.8 289.1,426.9 289.3,428.9 289.4,431.0 289.5,433.1 289.6,435.2 289.7,437.3 289.9,439.5 290.0,441.6 290.1,443.7 290.2,445.8 290.3,447.9 290.5,450.1 290.6,452.2 290.7,454.3 290.9,456.4 291.0,458.5 291.2,460.6 291.3,462.7 291.5,464.8 291.6,466.9 291.8,469.0 292.0,471.1 292.2,473.2 292.3,475.3 292.5,477.4 292.7,479.5 292.9,481.6 293.1,483.7 293.3,485.8 293.5,487.8 293.7,489.8 293.9,491.7 294.1,493.6 294.3,495.5 294.4,497.3 294.7,499.6 294.8,502.0 295.0,504.3 295.2,506.6 295.3,508.9 295.5,511.0 295.8,513.0 296.1,514.9 296.5,516.5 297.0,518.0 298.2,520.5 299.6,522.5 301.4,523.7 303.3,523.8 305.4,523.2 307.8,522.4 310.1,521.8 312.0,521.5 313.8,521.3 315.7,521.0 317.9,520.8 320.3,520.7 321.8,520.6 323.4,520.5 325.2,520.4 327.0,520.4 329.0,520.3 331.0,520.3 333.1,520.3 335.3,520.2 337.5,520.2 339.7,520.2 342.0,520.2 344.2,520.1 346.4,520.1 348.6,520.1 350.8,520.1 352.8,520.0 354.8,520.0 356.8,519.9 359.0,519.8 361.2,519.8 363.4,519.7 365.6,519.6 367.7,519.5 369.8,519.5 371.9,519.4 374.0,519.3 376.0,519.2 378.0,519.1 380.0,519.0 381.9,518.9 383.7,518.8 386.1,518.7 388.4,518.6 390.7,518.5 392.9,518.4 395.0,518.2 397.1,518.1 399.2,517.9 401.2,517.7 403.6,517.5 405.8,517.2 408.0,516.9 410.2,516.5 412.3,516.1 414.4,515.7 416.6,515.1 418.8,514.5 421.0,513.8 423.1,513.1 425.3,512.3 427.5,511.6 429.6,510.9 431.8,510.2 434.0,509.3 436.2,508.1 437.7,507.2 439.2,506.1 440.8,504.9 442.4,503.7 444.0,502.3 445.6,500.9 447.2,499.5 448.8,498.1 450.2,496.6 451.7,495.2 453.0,493.8 454.5,492.1 455.9,490.4 457.2,488.6 458.5,486.8 459.7,485.0 460.9,483.3 462.0,481.8 463.2,480.3 464.9,478.3 466.5,476.4 468.1,474.8 469.8,473.6 472.3,472.3 474.9,471.9 476.9,472.5 478.9,473.7 480.7,475.3 482.0,477.0 483.1,479.2 484.2,481.5 485.4,483.7 486.6,485.6 487.7,487.4 489.0,489.3 490.3,491.2 491.6,492.9 493.1,494.8 494.6,496.6 496.2,498.3 497.9,500.0 499.6,501.4 501.4,502.5 503.1,503.4 505.0,504.2 507.0,504.9 509.1,505.6 511.1,506.1 513.2,506.6 515.4,507.0 517.8,507.3 520.1,507.7 522.4,508.0 524.6,508.3 526.6,508.5 528.9,508.9 531.0,509.1 533.0,509.4 535.1,509.6 537.5,509.8 539.4,509.9 541.3,510.1 543.4,510.2 545.5,510.3 547.7,510.5 550.0,510.6 552.3,510.7 554.6,510.8 556.9,510.9 559.1,511.0 561.2,511.1 563.2,511.1 565.1,511.2 566.8,511.2 568.6,511.2 570.3,511.3 572.1,511.3 574.0,511.3 576.0,511.3 578.2,511.4 580.7,511.4 583.5,511.4 585.6,511.5 587.8,511.5 590.2,511.5 592.7,511.5 595.4,511.6 598.1,511.6 601.0,511.6 604.0,511.6 607.1,511.7 610.2,511.7 613.5,511.7 616.9,511.7 620.3,511.8 623.9,511.8 627.5,511.8 631.2,511.8 634.9,511.9 638.7,511.9 642.6,511.9 646.5,511.9 650.5,512.0 654.5,512.0 658.6,512.0 662.7,512.0 666.8,512.0 671.0,512.1 675.1,512.1 679.3,512.1 683.5,512.1 687.7,512.2 692.0,512.2 696.2,512.2 700.4,512.2 704.6,512.3 708.7,512.3 712.9,512.3 717.0,512.3 721.2,512.3 725.2,512.4 729.3,512.4 734.2,512.4 739.2,512.4 744.4,512.4 749.5,512.5 754.8,512.5 760.1,512.5 765.5,512.5 770.9,512.6 776.3,512.6 781.9,512.6 787.4,512.6 793.0,512.6 798.6,512.7 804.3,512.7 810.0,512.7 815.7,512.7 821.4,512.7 827.1,512.8 832.9,512.8 838.6,512.8 844.3,512.8 850.1,512.8 855.8,512.8 861.5,512.9 867.2,512.9 872.9,512.9 878.6,512.9 884.2,512.9 889.8,512.9 895.3,512.9 900.9,512.9 906.3,513.0 911.7,513.0 917.1,513.0 922.4,513.0 927.7,513.0 932.8,513.0 937.9,513.0 943.0,513.0 947.9,513.0 952.0,513.0 956.0,513.0 960.0,513.0 964.0,513.0 968.0,513.0 972.0,513.0 976.0,513.0 980.0,513.0 984.0,513.0 988.0,513.0 992.0,513.0 995.9,513.0 999.8,513.0 1003.8,513.0 1007.7,513.0 1011.5,513.0 1015.4,512.9 1019.2,512.9 1023.0,512.9 1026.8,512.9 1030.5,512.9 1034.2,512.9 1037.9,512.9 1041.6,512.9 1045.2,512.9 1048.7,512.9 1052.3,512.8 1055.7,512.8 1059.2,512.8 1062.6,512.8 1065.9,512.8 1069.2,512.8 1072.5,512.8 1075.7,512.8 1078.8,512.8 1081.9,512.7 1085.0,512.7 1088.0,512.7 1090.9,512.7 1093.7,512.7 1096.2,512.7 1098.5,512.7 1100.9,512.7 1103.1,512.6 1105.4,512.6 1107.6,512.6 1109.7,512.6 1111.8,512.6 1113.9,512.6 1115.9,512.6 1117.9,512.6 1119.9,512.6 1121.9,512.5 1123.8,512.5 1125.7,512.5 1127.6,512.5 1129.5,512.5 1131.4,512.5 1133.2,512.5 1135.1,512.4 1137.0,512.4 1138.8,512.4 1140.7,512.4 1142.5,512.4 1144.4,512.3 1146.3,512.3 1148.2,512.3 1150.1,512.3 1152.0,512.2 1154.1,512.2 1156.2,512.2 1158.3,512.2 1160.4,512.1 1162.4,512.1 1164.5,512.1 1166.5,512.0 1168.6,512.0 1170.6,511.9 1172.6,511.9 1174.6,511.9 1176.6,511.8 1178.7,511.8 1180.7,511.7 1182.7,511.7 1184.7,511.6 1186.7,511.6 1188.7,511.5 1190.8,511.5 1192.8,511.4 1194.8,511.4 1196.9,511.3 1198.9,511.2 1201.0,511.2 1203.1,511.1 1205.1,511.0 1207.1,511.0 1209.1,510.9 1211.2,510.8 1213.3,510.8 1215.4,510.7 1217.5,510.6 1219.6,510.6 1221.7,510.5 1223.8,510.4 1225.9,510.4 1228.0,510.3 1230.1,510.2 1232.2,510.1 1234.3,510.0 1236.4,509.9 1238.4,509.8 1240.5,509.8 1242.5,509.6 1244.5,509.5 1246.5,509.4 1248.4,509.3 1250.4,509.2 1252.3,509.0 1254.1,508.9 1256.0,508.8 1257.7,508.6 1260.0,508.4 1262.3,508.2 1264.5,507.9 1266.7,507.7 1268.8,507.5 1271.0,507.2 1273.0,507.0 1275.1,506.7 1277.1,506.4 1279.1,506.1 1281.1,505.8 1283.0,505.5 1284.9,505.2 1286.8,504.9 1288.7,504.6 1290.5,504.2 1292.7,503.8 1294.9,503.3 1297.0,502.9 1299.0,502.5 1301.0,502.0 1303.0,501.6 1305.0,501.0 1306.9,500.5 1308.8,499.9 1310.6,499.2 1312.4,498.5 1314.4,497.7 1316.3,496.8 1318.1,495.9 1319.9,495.0 1321.7,493.9 1323.4,492.8 1325.1,491.7 1326.8,490.4 1328.4,489.1 1329.9,487.8 1331.4,486.4 1332.8,485.0 1334.1,483.5 1335.5,481.9 1336.8,480.3 1338.2,478.6 1339.5,476.9 1340.9,475.1 1342.3,473.3 1343.8,471.5 1344.9,470.0 1346.2,468.5 1347.4,467.0 1348.7,465.4 1349.9,463.8 1351.2,462.2 1352.5,460.6 1353.8,458.9 1355.1,457.2 1356.4,455.5 1357.7,453.7 1359.0,451.9 1360.2,450.1 1361.4,448.3 1362.6,446.4 1363.8,444.5 1364.9,442.6 1365.8,440.9 1366.7,439.2 1367.6,437.5 1368.4,435.7 1369.3,433.9 1370.1,432.1 1370.9,430.3 1371.7,428.4 1372.5,426.5 1373.3,424.6 1374.0,422.7 1374.8,420.7 1375.6,418.8 1376.3,416.9 1377.1,414.9 1377.8,413.0 1378.5,411.1 1379.3,409.1 1380.0,407.2 1380.8,405.4 1381.6,403.5 1382.3,401.7 1383.1,399.8 1384.0,397.9 1384.8,396.0 1385.6,394.0 1386.5,392.1 1387.3,390.2 1388.2,388.3 1389.0,386.5 1389.8,384.6 1390.7,382.7 1391.5,380.8 1392.4,379.0 1393.2,377.1 1394.0,375.2 1394.9,373.4 1395.7,371.5 1396.5,369.6 1397.4,367.8 1398.2,365.9 1399.0,364.0 1399.9,362.1" stroke="#EE3E42" stroke-dasharray="15.4 21"/>
<path d="M1399.9,230.1 1399.2,232.0 1398.5,233.9 1397.9,235.7 1397.2,237.6 1396.5,239.4 1395.8,241.3 1395.2,243.1 1394.5,245.0 1393.8,246.8 1393.2,248.7 1392.5,250.5 1391.8,252.4 1391.1,254.2 1390.5,256.1 1389.8,258.0 1389.1,259.8 1388.4,261.7 1387.8,263.6 1387.1,265.5 1386.4,267.4 1385.8,269.4 1385.1,271.3 1384.4,273.3 1383.8,275.3 1383.1,277.2 1382.5,279.1 1381.9,280.9 1381.3,282.8 1380.7,284.7 1380.1,286.6 1379.5,288.6 1378.9,290.6 1378.3,292.5 1377.7,294.5 1377.1,296.5 1376.5,298.6 1375.9,300.6 1375.3,302.6 1374.7,304.6 1374.1,306.7 1373.5,308.7 1372.9,310.7 1372.3,312.7 1371.7,314.7 1371.2,316.7 1370.6,318.7 1370.0,320.6 1369.4,322.6 1368.8,324.5 1368.3,326.3 1367.7,328.2 1367.1,330.0 1366.6,331.8 1366.0,333.6 1365.4,335.3 1364.9,337.0 1364.2,339.1 1363.5,341.2 1362.8,343.3 1362.1,345.3 1361.5,347.3 1360.8,349.3 1360.2,351.2 1359.5,353.1 1358.9,354.9 1358.2,356.8 1357.6,358.6 1356.9,360.5 1356.2,362.3 1355.5,364.1 1354.8,366.0 1354.1,367.8 1353.3,369.7 1352.5,371.6 1351.7,373.4 1350.9,375.2 1350.1,377.1 1349.2,378.9 1348.4,380.8 1347.5,382.6 1346.6,384.4 1345.7,386.3 1344.8,388.1 1343.9,389.9 1343.0,391.8 1342.0,393.6 1341.1,395.4 1340.1,397.2 1339.1,399.0 1338.1,400.8 1337.1,402.6 1336.1,404.4 1335.0,406.1 1334.0,407.8 1332.9,409.6 1331.9,411.3 1330.8,413.0 1329.7,414.7 1328.6,416.4 1327.5,418.1 1326.4,419.8 1325.3,421.5 1324.2,423.2 1323.0,424.9 1321.8,426.6 1320.6,428.2 1319.4,429.9 1318.2,431.5 1316.9,433.1 1315.6,434.7 1314.3,436.3 1313.0,437.9 1311.7,439.4 1310.3,441.0 1309.0,442.5 1307.6,444.0 1306.2,445.5 1304.8,447.0 1303.3,448.4 1301.9,449.9 1300.4,451.4 1298.9,452.8 1297.4,454.2 1295.9,455.6 1294.3,457.0 1292.8,458.4 1291.2,459.8 1289.6,461.2 1288.0,462.5 1286.3,463.8 1284.7,465.1 1283.0,466.4 1281.3,467.7 1279.6,469.0 1278.0,470.2 1276.3,471.3 1274.7,472.5 1273.0,473.6 1271.3,474.8 1269.6,475.9 1267.8,477.1 1266.0,478.2 1264.3,479.3 1262.5,480.4 1260.7,481.5 1258.8,482.5 1257.0,483.6 1255.2,484.6 1253.3,485.6 1251.5,486.6 1249.6,487.5 1247.8,488.5 1245.9,489.4 1244.0,490.3 1242.2,491.1 1240.3,491.9 1238.5,492.7 1236.6,493.5 1234.7,494.3 1232.7,495.0 1230.8,495.7 1228.8,496.4 1226.8,497.0 1224.9,497.6 1222.9,498.2 1220.9,498.8 1218.9,499.3 1216.9,499.8 1214.9,500.3 1212.9,500.8 1210.9,501.3 1208.9,501.7 1206.9,502.1 1204.9,502.6 1202.9,503.0 1200.9,503.3 1198.9,503.7 1196.9,504.1 1194.9,504.5 1192.9,504.8 1190.8,505.2 1188.8,505.5 1186.8,505.8 1184.8,506.1 1182.8,506.4 1180.8,506.6 1178.8,506.9 1176.8,507.1 1174.7,507.3 1172.7,507.5 1170.7,507.7 1168.7,507.8 1166.7,508.0 1164.6,508.2 1162.6,508.3 1160.5,508.5 1158.4,508.6 1156.3,508.8 1154.2,508.9 1152.0,509.1 1149.9,509.2 1148.0,509.4 1146.1,509.5 1144.3,509.6 1142.5,509.7 1140.6,509.8 1138.8,509.9 1137.0,510.0 1135.1,510.1 1133.3,510.2 1131.4,510.3 1129.6,510.3 1127.7,510.4 1125.8,510.5 1123.9,510.6 1122.0,510.6 1120.0,510.7 1118.0,510.8 1116.0,510.8 1114.0,510.9 1111.9,510.9 1109.8,511.0 1107.6,511.1 1105.4,511.1 1103.2,511.2 1100.9,511.2 1098.6,511.3 1096.2,511.4 1093.7,511.4 1090.9,511.5 1088.0,511.6 1085.1,511.7 1082.0,511.7 1079.0,511.8 1075.8,511.9 1072.7,511.9 1069.4,512.0 1066.1,512.1 1062.8,512.1 1059.4,512.2 1055.9,512.3 1052.5,512.3 1048.9,512.4 1045.4,512.4 1041.7,512.5 1038.1,512.6 1034.4,512.6 1030.7,512.7 1026.9,512.7 1023.2,512.8 1019.4,512.8 1015.5,512.9 1011.7,512.9 1007.8,513.0 1003.9,513.0 999.9,513.1 996.0,513.1 992.0,513.2 988.1,513.2 984.1,513.3 980.1,513.3 976.1,513.4 972.1,513.4 968.0,513.4 964.0,513.5 960.0,513.5 956.0,513.6 952.0,513.6 947.9,513.6 943.0,513.7 937.9,513.7 932.8,513.7 927.5,513.8 922.2,513.8 916.8,513.8 911.4,513.9 905.8,513.9 900.2,513.9 894.6,513.9 888.9,514.0 883.2,514.0 877.5,514.0 871.7,514.0 865.9,514.0 860.0,514.0 854.2,514.0 848.4,514.0 842.5,514.1 836.7,514.1 830.8,514.1 825.0,514.1 819.2,514.1 813.4,514.1 807.7,514.1 802.0,514.1 796.3,514.1 790.7,514.1 785.2,514.1 779.7,514.1 774.3,514.1 768.9,514.1 763.6,514.2 758.4,514.2 753.3,514.2 748.3,514.2 743.4,514.2 738.5,514.2 733.8,514.2 729.3,514.3 726.1,514.3 722.9,514.3 719.8,514.3 716.6,514.3 713.6,514.3 710.5,514.3 707.5,514.3 704.4,514.4 701.5,514.4 698.5,514.4 695.5,514.4 692.6,514.4 689.7,514.4 686.9,514.4 684.0,514.4 681.2,514.4 678.4,514.4 675.6,514.5 672.8,514.5 670.1,514.5 667.4,514.5 664.7,514.5 662.0,514.5 659.4,514.5 656.8,514.6 654.2,514.6 651.6,514.6 649.0,514.6 646.5,514.6 644.0,514.6 641.5,514.7 639.0,514.7 636.5,514.7 634.1,514.7 631.7,514.7 629.3,514.8 626.9,514.8 624.6,514.8 622.2,514.9 619.9,514.9 617.6,514.9 615.3,514.9 613.1,515.0 610.8,515.0 608.6,515.0 606.4,515.1 604.3,515.1 602.1,515.1 600.0,515.2 597.9,515.2 595.9,515.3 593.8,515.3 591.8,515.3 589.8,515.4 587.8,515.4 585.8,515.5 583.8,515.5 581.9,515.5 580.0,515.6 578.1,515.6 576.2,515.7 574.3,515.7 572.5,515.8 570.6,515.8 568.8,515.9 567.0,516.0 565.2,516.0 563.4,516.1 561.6,516.1 559.4,516.2 557.2,516.3 555.0,516.4 552.9,516.5 550.9,516.6 548.8,516.7 546.8,516.8 544.8,516.9 542.8,517.0 540.9,517.1 538.9,517.3 537.0,517.4 535.0,517.5 533.1,517.6 531.1,517.7 529.2,517.8 527.2,517.9 525.2,518.0 523.1,518.1 521.1,518.2 519.2,518.4 517.2,518.5 515.2,518.6 513.2,518.7 511.3,518.8 509.3,518.9 507.3,519.0 505.3,519.2 503.3,519.3 501.3,519.4 499.3,519.5 497.2,519.6 495.1,519.7 493.0,519.8 490.9,519.8 488.7,519.9 486.8,520.0 484.9,520.0 483.0,520.1 481.1,520.1 479.2,520.2 477.3,520.2 475.3,520.2 473.3,520.3 471.3,520.3 469.4,520.3 467.3,520.3 465.3,520.4 463.3,520.4 461.2,520.4 459.2,520.4 457.1,520.4 455.0,520.4 452.9,520.5 450.7,520.5 448.6,520.5 446.5,520.5 444.3,520.5 442.1,520.5 439.9,520.5 437.7,520.5 435.8,520.6 433.9,520.6 432.0,520.6 430.0,520.6 428.0,520.6 426.0,520.6 423.9,520.6 421.9,520.6 419.8,520.6 417.7,520.6 415.6,520.6 413.4,520.6 411.3,520.6 409.1,520.6 407.0,520.5 404.8,520.5 402.6,520.5 400.5,520.5 398.3,520.5 396.2,520.5 394.0,520.5 391.9,520.5 389.8,520.5 387.7,520.5 385.6,520.5 383.6,520.5 381.6,520.5 379.6,520.5 377.6,520.5 375.6,520.5 373.7,520.5 371.9,520.5 370.0,520.5 368.2,520.5 366.5,520.5 364.8,520.5 362.4,520.6 360.1,520.6 357.9,520.6 355.7,520.6 353.5,520.6 351.4,520.6 349.3,520.6 347.2,520.6 345.2,520.6 343.2,520.7 341.3,520.7 339.3,520.7 337.4,520.8 335.6,520.8 333.7,520.9 331.9,521.0 330.1,521.1 328.3,521.2 326.1,521.3 324.0,521.5 321.8,521.6 319.8,521.8 317.7,521.9 315.8,522.1 313.8,522.4 311.9,522.6 310.1,522.9 308.3,523.3 306.5,523.7 304.2,524.3 302.1,524.9 300.0,525.6 298.0,526.4 296.0,527.3 294.0,528.2 291.9,529.3 290.2,530.3 288.5,531.3 286.8,532.4 285.1,533.5 283.3,534.7 281.6,535.9 279.8,537.2 278.1,538.6 276.3,540.1 274.6,541.6 272.9,543.2 271.6,544.5 270.2,545.9 268.7,547.4 267.3,548.9 265.8,550.5 264.3,552.1 262.9,553.7 261.4,555.4 260.0,557.2 258.6,558.9 257.3,560.7 256.0,562.5 254.8,564.3 253.6,566.1 252.6,567.9 251.6,569.7 250.7,571.5 249.9,573.3 249.2,575.1 248.6,577.0 248.0,578.8 247.5,580.7 247.1,582.5 246.8,584.4 246.4,586.3 246.2,588.2 245.9,590.2 245.6,592.3 245.4,594.4 245.1,596.5 244.8,598.7 244.5,601.0 244.3,602.7 244.1,604.4 243.9,606.1 243.7,607.9 243.5,609.7 243.3,611.5 243.1,613.4 243.0,615.3 242.8,617.2 242.7,619.2 242.5,621.2 242.4,623.2 242.2,625.2 242.1,627.2 242.0,629.3 241.9,631.3 241.7,633.4 241.6,635.5 241.5,637.6 241.4,639.8 241.3,641.9 241.2,644.0 241.0,646.2 240.9,648.4 240.8,650.5 240.7,652.7 240.5,654.9 240.4,657.0 240.3,659.2 240.1,661.4 240.0,663.3 239.9,665.2 239.8,667.1 239.6,669.0 239.5,671.0 239.4,673.0 239.3,674.9 239.2,676.9 239.0,678.9 238.9,680.9 238.8,682.9 238.7,685.0 238.5,687.0 238.4,689.1 238.3,691.1 238.2,693.2 238.1,695.2 237.9,697.3 237.8,699.4 237.7,701.5 237.6,703.5 237.5,705.6 237.3,707.7 237.2,709.8 237.1,711.9 237.0,714.0 236.9,716.1 236.8,718.2 236.6,720.3 236.5,722.4 236.4,724.5 236.3,726.5 236.2,728.6 236.1,730.7 236.0,732.8 235.8,734.9 235.7,736.9 235.6,739.0 235.5,741.0 235.4,743.1 235.3,745.1 235.2,747.2 235.1,749.2 235.0,751.3 234.9,753.3 234.8,755.4 234.6,757.4 234.5,759.4 234.4,761.5 234.3,763.5 234.2,765.6 234.1,767.6 234.0,769.7 233.9,771.7 233.8,773.8 233.7,775.8 233.6,777.8 233.5,779.9 233.4,781.9 233.3,784.0 233.2,786.0 233.1,788.1 233.0,790.1 232.9,792.1 232.8,794.2 232.7,796.2 232.6,798.3 232.5,800.3 232.4,802.4 232.3,804.4 232.2,806.5 232.1,808.5 232.0,810.5 231.9,812.6 231.9,814.6 231.8,816.7 231.7,818.7 231.6,820.7 231.5,822.8 231.4,824.8 231.3,826.8 231.2,828.9 231.1,830.9 231.0,832.9 230.9,834.9 230.9,836.9 230.8,838.9 230.7,840.9 230.6,842.9 230.5,844.9 230.4,846.9 230.3,848.9 230.3,850.9 230.2,852.9 230.1,854.9 230.0,856.9 229.9,858.9 229.8,860.9 229.8,862.9 229.7,864.9 229.6,866.9 229.5,868.9 229.4,870.9 229.3,873.0 229.3,875.0 229.2,877.0 229.1,879.0 229.0,881.0 229.0,883.1 228.9,885.1 228.8,887.2 228.7,889.2 228.6,891.3 228.6,893.4 228.5,895.4 228.4,897.5 228.3,899.6 228.3,901.7 228.2,903.8 228.1,905.9 228.0,908.2 227.9,910.6 227.9,912.9 227.8,915.3 227.7,917.7 227.6,920.0 227.6,922.4 227.5,924.8 227.4,927.2 227.3,929.6 227.3,932.1 227.2,934.5 227.1,936.9 227.0,939.4 227.0,941.8 226.9,944.2 226.8,946.7 226.8,949.2 226.7,951.6 226.6,954.1 226.5,956.5 226.5,959.0 226.4,961.5 226.3,964.0 226.3,966.4 226.2,968.9 226.1,971.4 226.0,973.8 226.0,976.3 225.9,978.8 225.8,981.3 225.8,983.7 225.7,986.2 225.6,988.7 225.6,991.1 225.5,993.6 225.4,996.0 225.3,998.5 225.3,1000.9 225.2,1003.4" stroke="#EE3E42" stroke-dasharray="15.4 21"/>
<path d="M224.5,1003.4 224.5,1000.9 224.6,998.5 224.7,996.0 224.8,993.6 224.8,991.1 224.9,988.7 225.0,986.2 225.0,983.7 225.1,981.3 225.2,978.8 225.2,976.3 225.3,973.8 225.4,971.4 225.5,968.9 225.5,966.4 225.6,964.0 225.7,961.5 225.7,959.0 225.8,956.5 225.9,954.1 226.0,951.6 226.0,949.2 226.1,946.7 226.2,944.2 226.2,941.8 226.3,939.4 226.4,936.9 226.5,934.5 226.5,932.1 226.6,929.6 226.7,927.2 226.8,924.8 226.8,922.4 226.9,920.0 227.0,917.7 227.1,915.3 227.1,912.9 227.2,910.6 227.3,908.2 227.4,905.9 227.5,903.8 227.5,901.7 227.6,899.6 227.7,897.5 227.8,895.4 227.8,893.4 227.9,891.3 228.0,889.2 228.1,887.2 228.2,885.1 228.2,883.1 228.3,881.0 228.4,879.0 228.5,877.0 228.6,875.0 228.7,873.0 228.7,870.9 228.8,868.9 228.9,866.9 229.0,864.9 229.1,862.9 229.2,860.9 229.2,858.9 229.3,856.9 229.4,854.9 229.5,852.9 229.6,850.9 229.7,848.9 229.7,846.9 229.8,844.9 229.9,842.9 230.0,840.9 230.1,838.9 230.2,836.9 230.2,834.9 230.3,832.9 230.4,830.9 230.5,828.9 230.6,826.8 230.7,824.8 230.7,822.8 230.8,820.7 230.9,818.7 231.0,816.7 231.1,814.6 231.1,812.6 231.2,810.5 231.3,808.5 231.4,806.5 231.5,804.4 231.5,802.4 231.6,800.3 231.7,798.3 231.8,796.2 231.9,794.2 231.9,792.1 232.0,790.1 232.1,788.1 232.2,786.0 232.3,784.0 232.3,781.9 232.4,779.9 232.5,777.8 232.6,775.8 232.7,773.8 232.7,771.7 232.8,769.7 232.9,767.6 233.0,765.6 233.1,763.5 233.2,761.5 233.2,759.4 233.3,757.4 233.4,755.4 233.5,753.3 233.6,751.3 233.7,749.2 233.8,747.2 233.9,745.1 233.9,743.1 234.0,741.0 234.1,739.0 234.2,737.0 234.3,734.9 234.4,732.9 234.5,730.8 234.6,728.8 234.7,726.7 234.8,724.7 234.8,722.6 234.9,720.6 235.0,718.5 235.1,716.5 235.2,714.4 235.3,712.4 235.4,710.3 235.5,708.3 235.6,706.2 235.7,704.2 235.8,702.1 235.9,700.1 236.0,698.1 236.1,696.0 236.2,694.0 236.3,691.9 236.4,689.9 236.5,687.8 236.6,685.8 236.7,683.7 236.8,681.7 236.9,679.7 237.0,677.6 237.1,675.6 237.2,673.6 237.4,671.5 237.5,669.5 237.6,667.5 237.7,665.4 237.8,663.4 238.0,661.4 238.1,659.3 238.2,657.2 238.3,655.2 238.5,653.1 238.6,651.0 238.7,648.9 238.9,646.8 239.0,644.7 239.1,642.6 239.3,640.5 239.4,638.4 239.6,636.2 239.7,634.1 239.9,632.0 240.0,629.9 240.1,627.8 240.3,625.7 240.4,623.6 240.6,621.5 240.7,619.4 240.9,617.3 241.0,615.2 241.2,613.2 241.4,611.1 241.5,609.1 241.7,607.0 241.8,605.0 242.0,603.0 242.1,601.0 242.3,599.0 242.5,597.1 242.6,595.1 242.8,593.2 243.0,591.3 243.1,589.4 243.3,587.6 243.5,585.8 243.6,583.9 243.8,582.2 244.0,579.9 244.2,577.7 244.5,575.5 244.7,573.3 244.9,571.1 245.2,568.9 245.4,566.8 245.7,564.6 245.9,562.5 246.2,560.4 246.4,558.4 246.7,556.3 246.9,554.3 247.2,552.3 247.4,550.4 247.7,548.5 247.9,546.6 248.1,544.7 248.3,542.9 248.5,541.1 248.7,539.4 248.9,537.7 249.1,536.0 249.3,534.4 249.5,531.9 249.7,529.6 249.9,527.4 250.0,525.2 250.2,523.2 250.3,521.2 250.4,519.2 250.6,517.2 250.7,515.1 250.9,513.0 251.0,511.0 251.1,509.0 251.3,507.0 251.4,505.0 251.6,503.0 251.7,501.0 251.9,499.0 252.0,497.0 252.1,495.0 252.3,493.0 252.4,491.0 252.5,488.8 252.6,486.7 252.8,484.6 252.9,482.4 253.0,480.3 253.1,478.2 253.2,476.0 253.3,473.9 253.5,471.8 253.6,469.6 253.8,467.6 253.9,465.7 254.1,463.7 254.3,461.7 254.4,459.7 254.6,457.8 254.8,455.8 254.9,453.8 255.1,451.7 255.3,449.7 255.4,447.6 255.6,445.6 255.8,443.6 255.9,441.6 256.1,439.6 256.2,437.5 256.4,435.5 256.5,433.4 256.7,431.3 256.8,429.1 257.0,426.8 257.1,424.4 257.3,421.8 257.4,420.2 257.5,418.4 257.6,416.6 257.7,414.8 257.8,412.9 257.9,411.0 258.0,409.0 258.1,407.0 258.3,405.0 258.4,402.9 258.5,400.8 258.6,398.7 258.7,396.5 258.8,394.4 259.0,392.2 259.1,390.0 259.2,387.8 259.3,385.6 259.4,383.4 259.5,381.2 259.6,379.0 259.8,376.8 259.9,374.7 260.0,372.5 260.1,370.3 260.2,368.2 260.3,366.1 260.4,364.0 260.5,362.0 260.6,360.0 260.7,358.0 260.8,355.9 260.9,353.9 261.0,351.9 261.1,349.9 261.2,347.8 261.3,345.8 261.4,343.8 261.5,341.8 261.6,339.7 261.7,337.7 261.7,335.7 261.8,333.7 261.9,331.6 262.0,329.6 262.1,327.6 262.2,325.6 262.3,323.6 262.4,321.5 262.5,319.5 262.6,317.5 262.6,315.5 262.7,313.5 262.8,311.5 262.9,309.5 263.0,307.5 263.1,305.5 263.2,303.5 263.3,301.4 263.4,299.4 263.5,297.3 263.6,295.2 263.6,293.2 263.7,291.1 263.8,289.0 263.9,287.0 264.0,284.9 264.1,282.9 264.2,280.8 264.3,278.8 264.3,276.7 264.4,274.7 264.5,272.6 264.6,270.6 264.7,268.6 264.8,266.6 264.9,264.6 265.0,262.6 265.1,260.6 265.2,258.6 265.3,256.7 265.4,254.7 265.5,252.8 265.6,250.8 265.7,248.7 265.8,246.6 265.9,244.5 266.0,242.4 266.2,240.3 266.3,238.2 266.4,236.1 266.5,234.1 266.6,232.0 266.7,229.9 266.9,227.9 267.0,225.9 267.1,223.9 267.2,221.9 267.4,219.9 267.5,217.9 267.7,215.9 267.8,213.9 268.0,212.0 268.1,210.0 268.3,208.1 268.5,206.2 268.7,203.9 268.9,201.4 269.2,198.8 269.4,196.1 269.7,193.4 269.9,190.6 270.2,187.9 270.4,185.3 270.7,182.7 271.0,180.3 271.3,178.1 271.5,176.1 271.8,174.4 272.1,173.0 272.4,171.9 272.7,171.2 273.0,171.0 273.4,171.3 273.8,172.3 274.2,173.8 274.7,175.7 275.1,178.0 275.6,180.5 276.0,183.1 276.4,185.8 276.8,188.4 277.1,190.8 277.4,193.0 277.6,195.0 277.8,196.9 278.0,198.8 278.1,200.7 278.3,202.6 278.4,204.5 278.5,206.5 278.6,208.5 278.6,210.6 278.7,212.7 278.8,215.0 278.9,216.7 279.0,218.5 279.1,220.4 279.2,222.3 279.2,224.2 279.3,226.2 279.4,228.2 279.4,230.2 279.5,232.3 279.5,234.4 279.6,236.5 279.7,238.6 279.7,240.8 279.8,242.9 279.9,245.1 279.9,247.2 280.0,249.4 280.1,251.5 280.1,253.6 280.2,255.7 280.3,257.8 280.4,259.8 280.5,261.8 280.6,263.8 280.7,265.8 280.8,267.8 280.9,269.9 281.0,271.9 281.1,273.9 281.2,276.0 281.3,278.0 281.4,280.0 281.5,282.1 281.6,284.1 281.7,286.1 281.8,288.2 281.9,290.2 282.0,292.3 282.1,294.3 282.2,296.3 282.3,298.3 282.4,300.4 282.5,302.4 282.6,304.4 282.7,306.4 282.7,308.4 282.8,310.4 282.9,312.3 282.9,314.3 283.0,316.3 283.1,318.2 283.1,320.2 283.2,322.2 283.3,324.2 283.3,326.1 283.4,328.1 283.4,330.1 283.5,332.1 283.6,334.1 283.6,336.1 283.7,338.1 283.8,340.2 283.9,342.2 283.9,344.3 284.0,346.4 284.1,348.4 284.2,350.3 284.3,352.3 284.3,354.4 284.4,356.4 284.5,358.4 284.6,360.5 284.7,362.5 284.8,364.6 284.9,366.7 285.0,368.7 285.1,370.8 285.2,372.9 285.3,375.0 285.4,377.1 285.5,379.2 285.5,381.3 285.6,383.3 285.7,385.4 285.8,387.5 285.9,389.6 286.0,391.7 286.1,393.7 286.2,395.8 286.3,397.8 286.4,399.8 286.5,401.9 286.6,403.9 286.7,406.0 286.8,408.1 286.9,410.1 287.0,412.2 287.1,414.2 287.2,416.3 287.3,418.4 287.4,420.4 287.5,422.5 287.6,424.5 287.7,426.6 287.8,428.6 287.9,430.6 288.0,432.6 288.1,434.6 288.2,436.6 288.3,438.6 288.4,440.6 288.5,442.5 288.6,444.4 288.7,446.4 288.9,448.3 289.0,450.1 289.1,452.4 289.3,454.6 289.4,456.8 289.6,459.0 289.7,461.2 289.9,463.3 290.0,465.5 290.2,467.6 290.4,469.7 290.5,471.8 290.7,473.8 290.9,475.9 291.0,477.9 291.2,479.9 291.4,481.9 291.5,483.9 291.7,485.9 291.9,487.9 292.1,490.0 292.2,492.2 292.4,494.5 292.5,496.7 292.7,498.9 292.8,501.1 293.0,503.2 293.2,505.3 293.4,507.4 293.6,509.3 293.8,511.2 294.1,513.0 294.4,514.6 294.8,516.1 295.5,518.5 296.3,520.7 297.2,522.6 298.2,524.2 299.2,525.6 300.8,527.0 302.8,527.8 304.3,528.1 306.0,528.2 307.9,528.2 310.0,528.2 312.3,528.1 314.7,527.9 317.1,527.8 319.6,527.8 321.3,527.8 323.2,527.7 325.1,527.7 327.1,527.7 329.1,527.7 331.2,527.6 333.4,527.6 335.6,527.6 337.8,527.5 340.0,527.5 342.2,527.4 344.5,527.4 346.7,527.4 348.9,527.3 351.1,527.3 353.2,527.2 355.3,527.1 357.4,527.1 359.4,527.0 361.5,527.0 363.7,526.9 365.8,526.8 367.9,526.8 370.0,526.7 372.2,526.6 374.2,526.5 376.3,526.5 378.4,526.4 380.4,526.3 382.3,526.2 384.2,526.1 386.1,526.1 387.9,526.0 389.6,525.9 392.0,525.8 394.4,525.7 396.6,525.6 398.8,525.4 400.9,525.3 402.9,525.1 405.0,524.9 407.1,524.7 409.3,524.4 411.6,524.0 413.8,523.7 416.0,523.2 418.2,522.8 420.3,522.2 422.4,521.6 424.6,520.9 426.7,520.1 428.8,519.2 430.8,518.2 432.8,517.2 434.8,516.1 436.7,515.0 438.6,513.7 440.5,512.3 442.3,511.0 444.0,509.5 445.7,508.1 447.5,506.5 449.1,504.8 450.7,503.2 452.2,501.4 453.7,499.7 455.2,497.9 456.6,496.1 457.9,494.2 459.2,492.3 460.3,490.4 461.3,488.2 462.2,486.0 463.0,483.8 463.9,481.6 464.8,479.7 465.7,477.9 466.6,476.0 467.5,474.2 468.3,472.3 469.1,470.0 469.8,467.7 470.5,465.4 471.2,463.1 471.9,460.9 472.6,458.8 473.4,456.5 474.1,453.9 474.5,452.3 474.9,450.6 475.4,448.8 475.8,446.8 476.2,444.8 476.7,442.7 477.1,440.5 477.6,438.4 478.1,436.2 478.5,434.1 479.0,432.0 479.5,430.0 480.0,428.1 480.5,425.9 481.0,423.5 481.5,420.9 482.1,418.4 482.6,416.0 483.2,413.7 483.8,411.8 484.4,410.2 485.1,409.1 485.8,408.6 487.2,409.1 488.7,410.8 490.2,413.1 491.6,415.6 492.3,417.1 492.9,418.8 493.5,420.7 494.1,422.8 494.6,424.9 495.1,427.1 495.5,429.4 496.0,431.6 496.5,433.7 497.0,435.7 497.5,437.6 498.1,439.7 498.8,441.9 499.4,443.9 500.1,445.9 500.7,447.8 501.3,449.7 501.8,451.5 502.6,454.0 503.3,456.3 503.9,458.6 504.4,460.9 504.7,463.3 504.9,465.6 505.2,467.9 505.5,470.3 505.9,472.6 506.5,474.9 507.0,477.2 507.7,479.5 508.3,481.8 509.0,484.1 509.8,486.4 510.6,488.7 511.4,491.1 512.3,493.4 513.4,495.7 514.7,497.8 515.9,499.5 517.3,501.0 518.9,502.4 520.6,503.7 522.5,504.9 524.3,505.7 526.1,506.3 528.1,506.9 530.3,507.3 532.5,507.7 534.8,508.1 537.2,508.4 539.7,508.8 541.4,509.0 543.1,509.2 544.9,509.4 546.6,509.5 548.4,509.7 550.3,509.8 552.2,509.9 554.1,510.0 556.1,510.1 558.2,510.2 560.2,510.2 562.4,510.3 564.5,510.4 566.8,510.4 569.1,510.5 571.4,510.6 573.8,510.7 575.5,510.7 577.1,510.8 578.8,510.8 580.4,510.9 582.1,510.9 583.8,511.0 585.5,511.0 587.2,511.1 589.0,511.1 590.8,511.2 592.6,511.2 594.4,511.2 596.2,511.3 598.1,511.3 599.9,511.4 601.8,511.4 603.8,511.4 605.7,511.5 607.7,511.5 609.7,511.5 611.7,511.6 613.8,511.6 615.9,511.6 618.0,511.6 620.1,511.7 622.3,511.7 624.5,511.7 626.8,511.7 629.0,511.8 631.3,511.8 633.7,511.8 636.1,511.8 638.5,511.9 640.9,511.9 643.4,511.9 645.9,512.0 648.5,512.0 651.1,512.0 653.7,512.0 656.4,512.1 661.6,512.1 667.0,512.2 672.8,512.2 678.8,512.2 685.0,512.3 691.4,512.3 698.0,512.4 704.9,512.4 711.9,512.4 719.1,512.5 726.4,512.5 733.9,512.5 741.5,512.6 749.2,512.6 757.1,512.6 765.0,512.7 773.0,512.7 781.0,512.7 789.1,512.7 797.3,512.8 805.4,512.8 813.6,512.8 821.8,512.8 830.0,512.8 838.1,512.9 846.2,512.9 854.2,512.9 862.2,512.9 870.1,512.9 877.9,512.9 885.6,512.9 893.2,512.9 900.6,513.0 907.9,513.0 915.1,513.0 922.0,513.0 928.8,513.0 935.4,513.0 941.8,513.0 947.9,513.0 952.2,513.0 956.4,513.0 960.6,513.0 964.8,513.0 969.0,513.0 973.1,513.0 977.3,513.0 981.3,513.0 985.4,513.0 989.4,513.0 993.4,513.0 997.4,513.0 1001.4,513.0 1005.3,513.0 1009.2,513.0 1013.0,513.0 1016.8,513.0 1020.6,513.0 1024.3,513.0 1028.1,512.9 1031.7,512.9 1035.4,512.9 1039.0,512.9 1042.5,512.9 1046.1,512.9 1049.5,512.9 1053.0,512.9 1056.4,512.9 1059.7,512.9 1063.1,512.9 1066.3,512.8 1069.6,512.8 1072.8,512.8 1075.9,512.8 1079.0,512.8 1082.0,512.8 1085.0,512.8 1088.0,512.8 1090.9,512.8 1093.7,512.7 1096.2,512.7 1098.5,512.7 1100.9,512.7 1103.1,512.7 1105.4,512.7 1107.6,512.7 1109.7,512.7 1111.8,512.7 1113.9,512.7 1115.9,512.7 1117.9,512.6 1119.9,512.6 1121.9,512.6 1123.8,512.6 1125.7,512.6 1127.6,512.6 1129.5,512.6 1131.4,512.6 1133.2,512.6 1135.1,512.5 1137.0,512.5 1138.8,512.5 1140.7,512.5 1142.5,512.5 1144.4,512.5 1146.3,512.4 1148.2,512.4 1150.1,512.4 1152.0,512.4 1154.1,512.3 1156.2,512.3 1158.3,512.3 1160.4,512.3 1162.4,512.2 1164.5,512.2 1166.5,512.2 1168.6,512.2 1170.6,512.1 1172.6,512.1 1174.6,512.1 1176.6,512.0 1178.7,512.0 1180.7,512.0 1182.7,511.9 1184.7,511.9 1186.7,511.8 1188.7,511.8 1190.8,511.7 1192.8,511.7 1194.8,511.7 1196.9,511.6 1198.9,511.5 1201.0,511.5 1203.1,511.4 1205.1,511.4 1207.1,511.3 1209.1,511.3 1211.2,511.2 1213.3,511.1 1215.4,511.1 1217.5,511.0 1219.6,511.0 1221.7,510.9 1223.8,510.8 1225.9,510.8 1228.0,510.7 1230.1,510.6 1232.2,510.6 1234.3,510.5 1236.4,510.4 1238.4,510.3 1240.5,510.2 1242.5,510.1 1244.5,510.0 1246.5,509.9 1248.4,509.8 1250.4,509.7 1252.3,509.6 1254.1,509.5 1256.0,509.4 1257.7,509.2 1260.0,509.0 1262.3,508.9 1264.5,508.7 1266.7,508.5 1268.8,508.3 1271.0,508.1 1273.0,507.8 1275.1,507.6 1277.1,507.4 1279.1,507.1 1281.1,506.9 1283.0,506.6 1284.9,506.3 1286.8,506.1 1288.7,505.8 1290.5,505.5 1292.7,505.1 1294.9,504.7 1297.0,504.3 1299.0,503.9 1301.0,503.5 1303.0,503.1 1305.0,502.6 1306.9,502.2 1308.7,501.6 1310.6,501.1 1312.4,500.4 1314.6,499.6 1316.7,498.8 1318.8,497.9 1320.8,497.0 1322.7,495.9 1324.7,494.8 1326.6,493.6 1328.4,492.3 1329.9,491.0 1331.4,489.7 1332.8,488.3 1334.1,486.9 1335.5,485.3 1336.8,483.7 1338.2,482.1 1339.5,480.4 1340.9,478.7 1342.3,477.0 1343.8,475.3 1345.0,473.8 1346.3,472.3 1347.6,470.8 1349.0,469.3 1350.3,467.8 1351.7,466.2 1353.1,464.6 1354.4,463.0 1355.8,461.3 1357.2,459.6 1358.5,457.9 1359.9,456.2 1361.2,454.4 1362.5,452.6 1363.7,450.8 1364.9,448.9 1365.9,447.2 1366.9,445.5 1367.8,443.7 1368.7,441.9 1369.7,440.1 1370.6,438.2 1371.4,436.3 1372.3,434.4 1373.1,432.5 1374.0,430.5 1374.8,428.6 1375.7,426.6 1376.5,424.6 1377.3,422.6 1378.1,420.7 1378.9,418.7 1379.8,416.8 1380.6,414.9 1381.4,413.0 1382.3,411.1 1383.1,409.3 1384.0,407.4 1384.9,405.5 1385.8,403.7 1386.7,401.8 1387.5,400.0 1388.4,398.2 1389.3,396.3 1390.2,394.5 1391.1,392.7 1392.0,390.9 1392.8,389.1 1393.7,387.3 1394.6,385.5 1395.5,383.7 1396.4,381.9 1397.2,380.1 1398.1,378.3 1399.0,376.5 1399.9,374.7" stroke="#0A5ADC" stroke-dasharray="3.2 18.5"/>
<path d="M1399.9,261.5 1399.0,263.3 1398.1,265.1 1397.2,266.9 1396.3,268.7 1395.4,270.4 1394.5,272.2 1393.6,273.9 1392.7,275.7 1391.8,277.4 1391.0,279.2 1390.1,280.9 1389.2,282.7 1388.3,284.6 1387.4,286.4 1386.5,288.3 1385.7,290.2 1384.8,292.1 1384.0,294.1 1383.1,296.1 1382.4,297.8 1381.8,299.5 1381.1,301.3 1380.5,303.1 1379.8,304.9 1379.2,306.7 1378.6,308.5 1378.0,310.4 1377.4,312.2 1376.8,314.1 1376.2,316.0 1375.6,318.0 1375.0,319.9 1374.4,321.9 1373.8,323.8 1373.2,325.8 1372.5,327.7 1371.9,329.7 1371.3,331.7 1370.6,333.7 1370.0,335.7 1369.3,337.7 1368.6,339.7 1367.9,341.6 1367.2,343.6 1366.4,345.6 1365.7,347.6 1364.9,349.5 1364.2,351.4 1363.4,353.2 1362.6,355.0 1361.8,356.9 1361.1,358.8 1360.2,360.7 1359.4,362.7 1358.6,364.6 1357.7,366.5 1356.9,368.5 1356.0,370.5 1355.1,372.4 1354.3,374.4 1353.4,376.4 1352.5,378.3 1351.6,380.3 1350.7,382.2 1349.8,384.2 1348.8,386.1 1347.9,388.0 1347.0,390.0 1346.1,391.8 1345.1,393.7 1344.2,395.6 1343.3,397.4 1342.3,399.2 1341.4,401.0 1340.5,402.7 1339.6,404.4 1338.6,406.1 1337.7,407.7 1336.8,409.3 1335.9,410.9 1335.0,412.4 1333.8,414.4 1332.6,416.3 1331.4,418.2 1330.3,420.0 1329.1,421.8 1327.9,423.5 1326.8,425.2 1325.6,426.8 1324.4,428.5 1323.3,430.1 1322.1,431.6 1320.8,433.2 1319.6,434.7 1318.4,436.3 1317.1,437.8 1315.8,439.3 1314.4,440.8 1313.1,442.3 1311.7,443.8 1310.3,445.3 1309.0,446.7 1307.6,448.1 1306.2,449.5 1304.8,450.9 1303.3,452.3 1301.9,453.7 1300.4,455.0 1298.9,456.4 1297.4,457.7 1295.9,459.0 1294.3,460.3 1292.7,461.6 1291.2,462.9 1289.6,464.2 1287.9,465.4 1286.3,466.7 1284.7,467.9 1283.0,469.1 1281.3,470.3 1279.6,471.5 1278.0,472.6 1276.3,473.7 1274.7,474.8 1273.0,475.9 1271.3,477.0 1269.5,478.1 1267.8,479.2 1266.0,480.2 1264.2,481.3 1262.4,482.3 1260.6,483.3 1258.8,484.3 1257.0,485.3 1255.2,486.3 1253.3,487.2 1251.5,488.2 1249.6,489.1 1247.7,490.0 1245.9,490.8 1244.0,491.7 1242.2,492.5 1240.3,493.3 1238.4,494.0 1236.6,494.8 1234.7,495.5 1232.7,496.2 1230.8,496.9 1228.8,497.5 1226.8,498.1 1224.8,498.7 1222.9,499.2 1220.9,499.8 1218.9,500.3 1216.9,500.8 1214.9,501.2 1212.9,501.7 1210.9,502.1 1208.9,502.5 1206.9,502.9 1204.9,503.3 1202.9,503.7 1200.9,504.1 1198.9,504.4 1196.9,504.8 1194.9,505.1 1192.9,505.5 1190.9,505.8 1188.9,506.1 1187.0,506.4 1185.1,506.6 1183.3,506.9 1181.5,507.1 1179.7,507.3 1177.9,507.5 1176.1,507.7 1174.3,507.9 1172.4,508.1 1170.5,508.2 1168.6,508.4 1166.6,508.5 1164.5,508.7 1162.3,508.8 1160.0,508.9 1157.7,509.1 1155.2,509.2 1152.6,509.4 1149.9,509.5 1146.6,509.7 1143.2,509.9 1139.6,510.1 1135.9,510.2 1132.0,510.4 1128.0,510.5 1123.9,510.7 1119.6,510.8 1115.2,511.0 1110.7,511.1 1106.1,511.2 1101.4,511.3 1096.6,511.5 1091.7,511.6 1086.7,511.7 1081.6,511.8 1076.4,511.9 1071.2,512.0 1065.9,512.1 1060.5,512.2 1055.1,512.3 1049.6,512.4 1044.1,512.4 1038.5,512.5 1032.9,512.6 1027.3,512.7 1021.6,512.8 1015.9,512.8 1010.2,512.9 1004.5,513.0 998.8,513.0 993.1,513.1 987.4,513.2 981.7,513.2 976.0,513.3 970.3,513.4 964.7,513.4 959.0,513.5 953.5,513.6 947.9,513.6 941.2,513.7 934.3,513.8 927.3,513.8 920.1,513.9 912.7,513.9 905.2,514.0 897.6,514.0 889.9,514.1 882.1,514.1 874.2,514.1 866.3,514.2 858.3,514.2 850.2,514.2 842.1,514.2 834.0,514.2 825.8,514.3 817.7,514.3 809.5,514.3 801.4,514.3 793.3,514.3 785.3,514.3 777.3,514.3 769.4,514.3 761.6,514.3 753.8,514.3 746.2,514.3 738.6,514.3 731.2,514.3 724.0,514.3 716.8,514.3 709.9,514.4 703.1,514.4 696.5,514.4 690.1,514.4 683.9,514.4 677.9,514.4 672.1,514.5 666.6,514.5 661.4,514.5 656.4,514.6 653.7,514.6 651.1,514.6 648.5,514.6 646.0,514.7 643.5,514.7 641.1,514.7 638.7,514.7 636.4,514.7 634.1,514.7 631.9,514.8 629.7,514.8 627.5,514.8 625.4,514.8 623.3,514.8 621.3,514.8 619.3,514.9 617.3,514.9 615.3,514.9 613.4,514.9 611.5,514.9 609.6,515.0 607.8,515.0 605.9,515.0 604.1,515.0 602.3,515.1 600.5,515.1 598.8,515.1 597.1,515.2 595.3,515.2 593.6,515.2 591.9,515.3 590.2,515.3 588.5,515.4 586.8,515.4 585.1,515.5 583.5,515.5 581.1,515.6 578.9,515.7 576.7,515.8 574.5,515.9 572.4,515.9 570.4,516.0 568.4,516.1 566.4,516.2 564.5,516.4 562.5,516.5 560.6,516.6 558.7,516.7 556.8,516.8 554.9,516.9 553.0,517.0 551.0,517.2 549.0,517.3 547.0,517.4 545.0,517.5 543.0,517.6 540.9,517.8 538.9,517.9 536.9,518.0 534.9,518.2 532.8,518.3 530.8,518.4 528.8,518.6 526.8,518.7 524.7,518.9 522.7,519.0 520.7,519.2 518.7,519.3 516.6,519.5 514.6,519.6 512.6,519.8 510.6,519.9 508.5,520.1 506.5,520.2 504.5,520.4 502.5,520.6 500.4,520.7 498.4,520.9 496.4,521.1 494.4,521.3 492.4,521.4 490.3,521.6 488.3,521.8 486.3,522.0 484.3,522.2 482.2,522.3 480.2,522.5 478.2,522.7 476.2,522.9 474.1,523.1 472.1,523.2 470.1,523.4 468.1,523.6 466.0,523.8 464.0,524.0 462.0,524.2 460.0,524.4 457.9,524.5 455.9,524.7 453.9,524.9 451.9,525.1 449.8,525.3 447.8,525.4 445.8,525.6 443.8,525.8 441.7,525.9 439.7,526.1 437.7,526.2 435.7,526.3 433.6,526.5 431.6,526.6 429.6,526.7 427.6,526.8 425.5,526.9 423.5,527.0 421.5,527.1 419.5,527.2 417.4,527.2 415.4,527.3 413.4,527.4 411.4,527.5 409.3,527.5 407.3,527.6 405.3,527.7 403.3,527.7 401.2,527.8 399.2,527.8 397.2,527.9 395.2,527.9 393.1,527.9 391.1,527.9 389.1,527.9 387.1,527.9 385.0,527.9 383.0,528.0 381.0,528.0 379.0,528.0 376.9,528.0 374.9,528.0 372.9,528.0 370.9,528.0 368.8,528.0 366.8,528.0 364.8,528.1 362.7,528.1 360.7,528.2 358.6,528.2 356.5,528.3 354.4,528.3 352.3,528.4 350.2,528.4 348.1,528.5 346.0,528.5 343.9,528.6 341.8,528.7 339.8,528.7 337.8,528.8 335.8,528.9 333.9,529.0 332.0,529.1 330.1,529.2 328.3,529.3 326.1,529.5 324.0,529.7 321.9,529.8 319.9,530.0 317.9,530.2 315.9,530.4 314.0,530.6 312.1,530.9 310.2,531.2 308.3,531.5 306.5,531.9 304.4,532.3 302.3,532.8 300.3,533.3 298.3,533.9 296.3,534.5 294.4,535.1 292.4,535.8 290.5,536.6 288.5,537.5 286.7,538.4 284.8,539.4 282.9,540.5 281.1,541.6 279.2,542.8 277.4,544.0 275.7,545.3 273.9,546.6 272.2,548.0 270.6,549.5 269.1,550.9 267.7,552.3 266.3,553.8 264.9,555.4 263.5,557.0 262.2,558.6 260.9,560.3 259.7,562.0 258.5,563.7 257.4,565.4 256.3,567.1 255.2,569.0 254.1,570.9 253.1,572.8 252.1,574.8 251.3,576.8 250.4,578.8 249.6,580.9 248.9,583.0 248.2,585.3 247.6,587.1 247.1,588.9 246.7,590.8 246.3,592.6 245.9,594.6 245.5,596.5 245.2,598.5 244.9,600.6 244.6,602.6 244.3,604.7 244.0,606.9 243.7,609.1 243.4,611.3 243.1,613.6 242.8,615.3 242.6,617.1 242.4,618.9 242.1,620.7 241.9,622.5 241.7,624.3 241.5,626.2 241.3,628.1 241.1,630.0 240.9,631.9 240.7,633.9 240.5,635.9 240.3,637.9 240.1,639.9 239.9,642.0 239.7,644.0 239.5,646.1 239.4,648.2 239.2,650.4 239.0,652.5 238.8,654.7 238.7,656.9 238.5,659.1 238.3,661.4 238.2,663.1 238.1,665.0 237.9,666.8 237.8,668.7 237.7,670.5 237.6,672.4 237.5,674.4 237.4,676.3 237.2,678.3 237.1,680.3 237.0,682.3 236.9,684.3 236.8,686.3 236.7,688.3 236.6,690.4 236.5,692.5 236.4,694.6 236.3,696.7 236.2,698.8 236.1,700.9 236.0,703.0 235.9,705.1 235.9,707.2 235.8,709.3 235.7,711.5 235.6,713.6 235.5,715.7 235.4,717.9 235.3,720.0 235.2,722.1 235.1,724.3 235.0,726.4 235.0,728.5 234.9,730.6 234.8,732.7 234.7,734.8 234.6,736.9 234.5,739.0 234.4,741.0 234.3,743.1 234.2,745.1 234.1,747.2 234.0,749.2 233.9,751.3 233.8,753.3 233.7,755.4 233.6,757.4 233.5,759.4 233.5,761.5 233.4,763.5 233.3,765.6 233.2,767.6 233.1,769.7 233.0,771.7 232.9,773.8 232.8,775.8 232.7,777.8 232.6,779.9 232.5,781.9 232.4,784.0 232.3,786.0 232.3,788.1 232.2,790.1 232.1,792.1 232.0,794.2 231.9,796.2 231.8,798.3 231.7,800.3 231.6,802.4 231.5,804.4 231.5,806.5 231.4,808.5 231.3,810.5 231.2,812.6 231.1,814.6 231.0,816.7 230.9,818.7 230.8,820.7 230.7,822.8 230.7,824.8 230.6,826.8 230.5,828.9 230.4,830.9 230.3,832.9 230.2,834.9 230.1,836.9 230.1,838.9 230.0,840.9 229.9,842.9 229.8,844.9 229.7,846.9 229.6,848.9 229.5,850.9 229.5,852.9 229.4,854.9 229.3,856.9 229.2,858.9 229.1,860.9 229.0,862.9 229.0,864.9 228.9,866.9 228.8,868.9 228.7,870.9 228.6,873.0 228.6,875.0 228.5,877.0 228.4,879.0 228.3,881.0 228.2,883.1 228.2,885.1 228.1,887.2 228.0,889.2 227.9,891.3 227.8,893.4 227.8,895.4 227.7,897.5 227.6,899.6 227.5,901.7 227.5,903.8 227.4,905.9 227.3,908.2 227.2,910.6 227.1,912.9 227.1,915.3 227.0,917.7 226.9,920.0 226.8,922.4 226.8,924.8 226.7,927.2 226.6,929.6 226.5,932.1 226.5,934.5 226.4,936.9 226.3,939.4 226.2,941.8 226.2,944.2 226.1,946.7 226.0,949.2 226.0,951.6 225.9,954.1 225.8,956.5 225.7,959.0 225.7,961.5 225.6,964.0 225.5,966.4 225.5,968.9 225.4,971.4 225.3,973.8 225.2,976.3 225.2,978.8 225.1,981.3 225.0,983.7 225.0,986.2 224.9,988.7 224.8,991.1 224.8,993.6 224.7,996.0 224.6,998.5 224.5,1000.9 224.5,1003.4" stroke="#0A5ADC" stroke-dasharray="3.2 18.5"/>
<path d="M224.1,1003.4 224.2,1000.9 224.2,998.5 224.3,996.0 224.4,993.6 224.5,991.1 224.5,988.7 224.6,986.2 224.7,983.7 224.7,981.3 224.8,978.8 224.9,976.3 225.0,973.8 225.0,971.4 225.1,968.9 225.2,966.4 225.2,964.0 225.3,961.5 225.4,959.0 225.4,956.5 225.5,954.1 225.6,951.6 225.7,949.2 225.7,946.7 225.8,944.2 225.9,941.8 225.9,939.4 226.0,936.9 226.1,934.5 226.2,932.1 226.2,929.6 226.3,927.2 226.4,924.8 226.5,922.4 226.5,920.0 226.6,917.7 226.7,915.3 226.8,912.9 226.9,910.6 226.9,908.2 227.0,905.9 227.1,903.8 227.2,901.7 227.2,899.6 227.3,897.5 227.4,895.4 227.5,893.4 227.6,891.3 227.6,889.2 227.7,887.2 227.8,885.1 227.9,883.1 228.0,881.0 228.0,879.0 228.1,877.0 228.2,875.0 228.3,873.0 228.4,870.9 228.5,868.9 228.5,866.9 228.6,864.9 228.7,862.9 228.8,860.9 228.9,858.9 229.0,856.9 229.0,854.9 229.1,852.9 229.2,850.9 229.3,848.9 229.4,846.9 229.5,844.9 229.5,842.9 229.6,840.9 229.7,838.9 229.8,836.9 229.9,834.9 230.0,832.9 230.1,830.9 230.1,828.9 230.2,826.8 230.3,824.8 230.4,822.8 230.5,820.7 230.5,818.7 230.6,816.7 230.7,814.6 230.8,812.6 230.9,810.5 230.9,808.5 231.0,806.5 231.1,804.4 231.2,802.4 231.3,800.3 231.3,798.3 231.4,796.2 231.5,794.2 231.6,792.1 231.7,790.1 231.7,788.1 231.8,786.0 231.9,784.0 232.0,781.9 232.1,779.9 232.1,777.8 232.2,775.8 232.3,773.8 232.4,771.7 232.5,769.7 232.5,767.6 232.6,765.6 232.7,763.5 232.8,761.5 232.9,759.4 233.0,757.4 233.0,755.4 233.1,753.3 233.2,751.3 233.3,749.2 233.4,747.2 233.5,745.1 233.6,743.1 233.7,741.0 233.8,739.0 233.9,737.0 233.9,734.9 234.0,732.9 234.1,730.8 234.2,728.8 234.3,726.7 234.4,724.7 234.5,722.6 234.6,720.6 234.7,718.5 234.7,716.5 234.8,714.4 234.9,712.4 235.0,710.3 235.1,708.3 235.2,706.2 235.3,704.2 235.4,702.1 235.5,700.1 235.6,698.0 235.7,696.0 235.8,694.0 235.9,691.9 236.0,689.9 236.1,687.8 236.2,685.8 236.3,683.7 236.4,681.7 236.5,679.7 236.6,677.6 236.7,675.6 236.9,673.6 237.0,671.5 237.1,669.5 237.2,667.5 237.3,665.4 237.5,663.4 237.6,661.4 237.7,659.3 237.9,657.3 238.0,655.2 238.1,653.2 238.3,651.1 238.4,649.0 238.5,647.0 238.7,644.9 238.8,642.8 239.0,640.8 239.1,638.7 239.2,636.7 239.4,634.6 239.5,632.5 239.7,630.5 239.8,628.4 240.0,626.4 240.1,624.3 240.3,622.2 240.5,620.2 240.6,618.1 240.8,616.1 240.9,614.1 241.1,612.0 241.3,610.0 241.4,608.0 241.6,605.9 241.8,603.9 241.9,601.9 242.1,599.9 242.3,597.9 242.5,595.9 242.7,593.9 242.8,591.9 243.0,590.0 243.2,588.0 243.4,586.0 243.6,584.1 243.8,582.2 244.0,580.1 244.2,578.0 244.4,575.9 244.7,573.8 244.9,571.7 245.2,569.6 245.4,567.5 245.7,565.5 245.9,563.4 246.2,561.3 246.5,559.3 246.7,557.2 247.0,555.2 247.3,553.1 247.5,551.1 247.8,549.1 248.1,547.0 248.3,545.0 248.6,543.0 248.9,541.0 249.1,539.0 249.4,537.1 249.7,535.1 249.9,533.2 250.2,531.2 250.4,529.3 250.6,527.4 250.9,525.5 251.1,523.6 251.3,521.7 251.5,519.8 251.7,518.0 251.9,516.1 252.1,514.0 252.3,511.8 252.5,509.6 252.7,507.5 252.9,505.4 253.0,503.3 253.2,501.3 253.4,499.2 253.5,497.2 253.7,495.1 253.8,493.1 254.0,491.1 254.1,489.1 254.2,487.1 254.4,485.2 254.5,483.2 254.6,481.2 254.8,479.3 254.9,477.3 255.0,475.4 255.2,473.5 255.3,471.5 255.4,469.6 255.6,467.5 255.7,465.4 255.9,463.4 256.0,461.3 256.2,459.3 256.3,457.2 256.5,455.2 256.6,453.2 256.7,451.2 256.9,449.2 257.0,447.2 257.1,445.2 257.3,443.2 257.4,441.3 257.5,439.3 257.7,437.3 257.8,435.3 257.9,433.3 258.0,431.3 258.1,429.2 258.2,427.1 258.3,425.1 258.4,423.0 258.5,421.0 258.6,419.0 258.7,417.0 258.8,414.9 258.9,412.9 258.9,410.9 259.0,408.8 259.1,406.7 259.2,404.6 259.3,402.5 259.4,400.3 259.5,398.1 259.6,395.9 259.7,393.6 259.8,391.7 259.8,389.9 259.9,388.0 260.0,386.1 260.1,384.2 260.2,382.3 260.3,380.3 260.4,378.4 260.5,376.4 260.6,374.3 260.7,372.3 260.9,370.3 261.0,368.2 261.1,366.2 261.2,364.1 261.3,362.0 261.4,359.9 261.5,357.9 261.6,355.8 261.7,353.7 261.8,351.6 261.9,349.5 262.0,347.4 262.1,345.3 262.2,343.3 262.3,341.2 262.4,339.2 262.5,337.1 262.6,335.1 262.7,333.1 262.8,331.0 262.8,328.9 262.9,326.9 263.0,324.8 263.1,322.7 263.1,320.7 263.2,318.6 263.3,316.5 263.3,314.4 263.4,312.3 263.5,310.2 263.5,308.2 263.6,306.1 263.7,304.0 263.7,301.9 263.8,299.9 263.9,297.8 263.9,295.8 264.0,293.7 264.1,291.7 264.2,289.7 264.2,287.7 264.3,285.7 264.4,283.7 264.5,281.8 264.6,279.8 264.7,277.9 264.8,276.0 264.9,273.8 265.0,271.7 265.1,269.6 265.3,267.5 265.4,265.4 265.5,263.3 265.6,261.3 265.8,259.2 265.9,257.2 266.1,255.2 266.2,253.2 266.3,251.2 266.5,249.2 266.6,247.2 266.8,245.2 266.9,243.2 267.1,241.3 267.2,239.3 267.4,237.3 267.5,235.3 267.7,233.3 267.8,231.4 268.0,229.1 268.2,226.8 268.3,224.3 268.5,221.6 268.6,218.9 268.8,216.2 268.9,213.4 269.1,210.7 269.2,208.0 269.4,205.4 269.6,202.8 269.8,200.5 269.9,198.2 270.1,196.2 270.3,194.4 270.5,192.9 270.8,191.6 271.0,190.7 271.2,190.1 271.5,189.9 271.8,190.1 272.2,190.8 272.5,192.0 272.9,193.5 273.4,195.3 273.8,197.4 274.2,199.8 274.7,202.4 275.1,205.0 275.5,207.8 275.9,210.6 276.3,213.4 276.7,216.2 277.1,218.8 277.4,221.3 277.6,223.1 277.8,224.9 278.0,226.7 278.2,228.6 278.4,230.6 278.5,232.5 278.7,234.5 278.8,236.6 279.0,238.6 279.1,240.7 279.2,242.8 279.3,244.9 279.5,247.0 279.6,249.1 279.7,251.2 279.8,253.4 279.9,255.5 280.0,257.6 280.1,259.7 280.2,261.9 280.3,263.9 280.4,266.0 280.6,268.1 280.7,270.1 280.8,272.1 280.9,274.1 281.0,276.0 281.2,278.1 281.3,280.1 281.5,282.2 281.6,284.2 281.7,286.2 281.9,288.2 282.0,290.1 282.2,292.1 282.3,294.0 282.4,296.0 282.6,297.9 282.7,299.8 282.8,301.8 283.0,303.7 283.1,305.7 283.2,307.7 283.4,309.7 283.5,311.7 283.6,313.7 283.8,315.8 283.9,317.9 284.0,320.0 284.1,321.9 284.2,323.9 284.4,325.8 284.5,327.8 284.6,329.9 284.7,331.9 284.8,334.0 284.9,336.1 285.0,338.2 285.1,340.4 285.2,342.5 285.3,344.6 285.5,346.8 285.6,348.9 285.7,351.1 285.8,353.2 285.9,355.4 286.0,357.5 286.1,359.6 286.2,361.7 286.3,363.7 286.4,365.8 286.5,367.8 286.6,369.8 286.7,371.7 286.7,373.6 286.8,375.5 286.9,377.3 287.0,379.1 287.1,381.5 287.2,383.7 287.3,386.0 287.4,388.1 287.5,390.2 287.6,392.3 287.7,394.3 287.8,396.3 287.9,398.3 288.0,400.3 288.1,402.3 288.2,404.4 288.3,406.5 288.4,408.6 288.5,410.8 288.6,413.0 288.7,415.0 288.8,416.9 288.9,418.9 289.0,420.9 289.1,422.9 289.2,424.9 289.3,427.0 289.4,429.1 289.5,431.2 289.5,433.3 289.6,435.4 289.8,437.5 289.9,439.7 290.0,441.8 290.1,443.9 290.2,446.1 290.3,448.2 290.5,450.3 290.6,452.5 290.7,454.6 290.9,456.7 291.1,458.8 291.2,460.8 291.4,462.9 291.6,465.0 291.8,467.1 292.0,469.3 292.2,471.5 292.4,473.7 292.6,475.9 292.8,478.1 293.1,480.4 293.3,482.6 293.5,484.7 293.8,486.9 294.0,489.1 294.3,491.2 294.5,493.2 294.8,495.2 295.0,497.2 295.3,499.1 295.6,500.9 295.8,502.6 296.1,504.3 296.4,505.9 296.6,507.3 297.1,509.8 297.7,512.1 298.2,514.3 298.7,516.2 299.3,518.0 299.8,519.8 300.3,521.4 301.0,523.9 301.7,526.1 302.8,528.0 304.3,529.3 306.1,530.5 308.1,531.5 310.1,532.4 312.2,533.0 314.4,533.4 316.8,533.6 319.6,533.8 321.0,533.9 322.6,534.0 324.3,534.0 326.2,534.0 328.1,534.0 330.0,534.0 332.1,534.0 334.2,534.0 336.4,533.9 338.6,533.9 340.8,533.8 343.0,533.8 345.2,533.7 347.5,533.6 349.6,533.6 351.8,533.5 353.9,533.5 355.9,533.5 358.0,533.4 360.1,533.4 362.3,533.3 364.5,533.3 366.6,533.2 368.8,533.2 371.0,533.1 373.2,533.1 375.4,533.0 377.5,532.9 379.6,532.9 381.7,532.8 383.7,532.7 385.6,532.6 387.5,532.5 389.3,532.5 391.0,532.4 393.6,532.2 396.0,532.1 398.3,531.9 400.4,531.8 402.6,531.6 404.6,531.4 406.6,531.2 408.5,530.9 410.9,530.5 413.1,530.1 415.2,529.7 417.3,529.2 419.5,528.7 421.7,528.2 423.9,527.7 426.1,527.1 428.3,526.5 430.4,525.8 432.3,524.9 434.2,524.0 436.0,523.0 437.8,521.9 439.6,520.7 441.4,519.6 443.2,518.3 445.0,517.1 446.7,515.6 448.3,514.0 449.5,512.6 450.7,511.0 451.9,509.3 453.0,507.5 454.0,505.6 455.1,503.8 456.1,502.1 457.0,500.6 458.3,498.4 459.4,496.5 460.5,494.4 461.7,492.1 462.5,490.6 463.3,488.9 464.1,487.1 465.0,485.2 465.9,483.3 466.7,481.3 467.6,479.4 468.3,477.4 469.1,475.5 469.8,473.6 470.4,471.5 471.0,469.5 471.6,467.6 472.1,465.6 472.5,463.6 473.0,461.5 473.6,459.2 474.1,456.7 474.5,455.1 474.9,453.4 475.3,451.6 475.7,449.8 476.2,447.9 476.6,445.9 477.0,443.9 477.5,441.9 477.9,439.8 478.4,437.7 478.8,435.6 479.3,433.4 479.7,431.2 480.2,429.1 480.7,426.9 481.1,424.7 481.6,422.5 482.0,420.4 482.4,418.3 482.9,416.2 483.3,414.2 483.7,412.2 484.1,410.2 484.5,408.1 484.9,406.1 485.3,404.0 485.7,402.0 486.1,399.9 486.5,397.8 486.9,395.8 487.3,393.7 487.7,391.6 488.1,389.6 488.5,387.5 488.9,385.5 489.3,383.4 489.7,381.4 490.1,379.4 490.4,377.4 490.8,375.4 491.2,373.5 491.6,371.6 492.0,369.4 492.5,367.0 492.9,364.6 493.3,362.0 493.7,359.4 494.1,356.8 494.5,354.2 494.9,351.6 495.3,349.1 495.8,346.7 496.2,344.5 496.6,342.5 497.0,340.6 497.5,339.0 497.9,337.7 498.3,336.7 498.8,336.0 499.3,335.7 500.6,336.5 502.0,338.8 503.1,341.4 503.7,343.0 504.2,344.8 504.6,346.7 505.0,348.7 505.3,351.0 505.7,353.3 506.1,355.8 506.3,357.4 506.5,359.1 506.8,360.9 507.0,362.8 507.2,364.7 507.4,366.7 507.7,368.7 507.9,370.8 508.1,372.9 508.3,375.1 508.5,377.3 508.8,379.5 509.0,381.7 509.2,383.9 509.4,386.2 509.6,388.4 509.8,390.5 510.1,392.7 510.3,394.8 510.5,396.8 510.7,398.9 510.9,401.0 511.1,403.1 511.4,405.3 511.6,407.5 511.8,409.6 512.0,411.8 512.2,414.0 512.5,416.2 512.7,418.4 512.9,420.5 513.1,422.6 513.3,424.7 513.5,426.7 513.7,428.7 513.9,430.6 514.1,432.5 514.3,434.3 514.4,435.9 514.6,437.6 514.8,440.0 515.0,442.3 515.2,444.4 515.4,446.5 515.6,448.4 515.8,450.3 516.0,452.3 516.3,454.2 516.6,456.3 516.9,458.3 517.2,460.3 517.5,462.3 517.9,464.3 518.2,466.4 518.6,468.6 518.9,470.6 519.2,472.8 519.5,475.0 519.9,477.3 520.2,479.6 520.6,481.8 520.9,484.0 521.3,486.0 521.7,487.9 522.4,490.5 523.0,492.8 523.8,495.0 524.9,497.2 526.1,499.1 527.5,501.1 529.1,503.0 530.9,504.6 532.8,506.0 534.6,506.9 536.6,507.6 538.6,508.1 540.8,508.5 543.2,508.8 545.6,509.1 547.4,509.3 549.2,509.5 551.0,509.7 552.9,509.8 554.8,509.9 556.9,509.9 559.0,510.0 561.3,510.0 563.6,510.1 566.2,510.2 568.9,510.2 570.4,510.3 571.9,510.3 573.5,510.4 575.1,510.4 576.8,510.5 578.5,510.5 580.2,510.6 582.0,510.6 583.8,510.6 585.6,510.7 587.5,510.7 589.4,510.8 591.4,510.8 593.3,510.9 595.4,510.9 597.4,510.9 599.5,511.0 601.6,511.0 603.8,511.0 605.9,511.1 608.2,511.1 610.4,511.2 612.7,511.2 615.0,511.2 617.4,511.3 619.7,511.3 622.2,511.3 624.6,511.4 627.1,511.4 629.6,511.4 632.1,511.5 634.7,511.5 637.3,511.5 639.9,511.6 642.6,511.6 645.3,511.6 648.0,511.7 650.8,511.7 653.6,511.7 656.4,511.7 661.7,511.8 667.2,511.9 673.0,511.9 679.1,512.0 685.3,512.0 691.8,512.1 698.5,512.1 705.4,512.1 712.4,512.2 719.6,512.2 727.0,512.3 734.5,512.3 742.1,512.4 749.8,512.4 757.6,512.4 765.5,512.5 773.5,512.5 781.5,512.5 789.6,512.6 797.8,512.6 805.9,512.6 814.0,512.7 822.2,512.7 830.3,512.7 838.4,512.7 846.5,512.8 854.5,512.8 862.5,512.8 870.3,512.8 878.1,512.9 885.8,512.9 893.3,512.9 900.7,512.9 908.0,512.9 915.1,512.9 922.1,513.0 928.8,513.0 935.4,513.0 941.8,513.0 947.9,513.0 952.2,513.0 956.4,513.0 960.6,513.0 964.8,513.0 969.0,513.0 973.1,513.0 977.3,513.0 981.3,513.0 985.4,513.0 989.4,513.0 993.4,513.0 997.4,513.0 1001.4,513.0 1005.3,513.0 1009.2,513.0 1013.0,513.0 1016.8,513.0 1020.6,513.0 1024.3,513.0 1028.1,513.0 1031.7,513.0 1035.4,513.0 1039.0,513.0 1042.5,513.0 1046.1,512.9 1049.5,512.9 1053.0,512.9 1056.4,512.9 1059.7,512.9 1063.1,512.9 1066.3,512.9 1069.6,512.9 1072.8,512.9 1075.9,512.9 1079.0,512.9 1082.0,512.8 1085.0,512.8 1088.0,512.8 1090.9,512.8 1093.7,512.8 1096.2,512.8 1098.5,512.8 1100.9,512.8 1103.1,512.8 1105.4,512.8 1107.6,512.8 1109.7,512.8 1111.8,512.7 1113.9,512.7 1115.9,512.7 1117.9,512.7 1119.9,512.7 1121.9,512.7 1123.8,512.7 1125.7,512.7 1127.6,512.7 1129.5,512.7 1131.4,512.7 1133.2,512.6 1135.1,512.6 1137.0,512.6 1138.8,512.6 1140.7,512.6 1142.5,512.6 1144.4,512.6 1146.3,512.6 1148.2,512.5 1150.1,512.5 1152.0,512.5 1154.1,512.5 1156.2,512.5 1158.3,512.4 1160.4,512.4 1162.4,512.4 1164.5,512.4 1166.5,512.3 1168.6,512.3 1170.6,512.3 1172.6,512.3 1174.6,512.3 1176.6,512.2 1178.7,512.2 1180.7,512.2 1182.7,512.1 1184.7,512.1 1186.7,512.1 1188.7,512.0 1190.8,512.0 1192.8,512.0 1194.8,511.9 1196.9,511.9 1198.9,511.8 1201.0,511.8 1203.1,511.7 1205.1,511.7 1207.1,511.6 1209.1,511.6 1211.2,511.5 1213.3,511.5 1215.4,511.4 1217.5,511.4 1219.6,511.3 1221.7,511.3 1223.8,511.2 1225.9,511.2 1228.0,511.1 1230.1,511.1 1232.2,511.0 1234.3,510.9 1236.4,510.9 1238.4,510.8 1240.5,510.7 1242.5,510.6 1244.5,510.5 1246.5,510.5 1248.4,510.4 1250.4,510.3 1252.3,510.2 1254.1,510.1 1255.9,510.0 1257.7,509.9 1260.0,509.7 1262.3,509.6 1264.5,509.4 1266.7,509.2 1268.8,509.1 1271.0,508.9 1273.0,508.8 1275.1,508.6 1277.1,508.4 1279.1,508.2 1281.1,508.0 1283.0,507.8 1284.9,507.5 1286.8,507.3 1288.7,507.0 1290.5,506.7 1292.7,506.4 1294.9,506.0 1297.0,505.6 1299.0,505.2 1301.0,504.8 1303.0,504.3 1305.0,503.9 1306.9,503.4 1308.7,502.9 1310.6,502.3 1312.4,501.7 1314.6,500.9 1316.7,500.1 1318.7,499.3 1320.8,498.5 1322.7,497.6 1324.7,496.5 1326.6,495.4 1328.4,494.1 1330.1,492.9 1331.7,491.6 1333.2,490.2 1334.7,488.7 1336.2,487.1 1337.7,485.5 1339.1,483.8 1340.6,482.0 1342.2,480.2 1343.8,478.4 1344.9,477.1 1346.2,475.7 1347.4,474.2 1348.7,472.8 1349.9,471.3 1351.2,469.8 1352.5,468.2 1353.8,466.7 1355.1,465.1 1356.4,463.5 1357.7,461.8 1358.9,460.1 1360.2,458.4 1361.4,456.7 1362.6,455.0 1363.8,453.2 1364.9,451.4 1365.9,449.7 1366.8,448.0 1367.8,446.3 1368.7,444.5 1369.6,442.6 1370.5,440.8 1371.4,438.9 1372.2,437.0 1373.1,435.1 1373.9,433.2 1374.8,431.2 1375.6,429.3 1376.4,427.3 1377.2,425.4 1378.1,423.5 1378.9,421.6 1379.7,419.7 1380.5,417.8 1381.4,416.0 1382.2,414.2 1383.1,412.4 1384.1,410.5 1385.1,408.5 1386.1,406.6 1387.0,404.8 1388.0,402.9 1389.0,401.0 1390.0,399.2 1391.0,397.4 1392.0,395.5 1393.0,393.7 1394.0,391.9 1394.9,390.1 1395.9,388.3 1396.9,386.5 1397.9,384.7 1398.9,382.8 1399.9,381.0" stroke="#2EA866" stroke-dasharray="19 12.3 2.4 12.5"/>
<path d="M1399.9,255.2 1399.0,257.1 1398.2,259.0 1397.4,260.8 1396.5,262.7 1395.7,264.5 1394.8,266.3 1394.0,268.1 1393.1,269.9 1392.3,271.7 1391.4,273.6 1390.6,275.4 1389.7,277.3 1388.9,279.1 1388.0,281.0 1387.2,282.9 1386.4,284.9 1385.6,286.8 1384.7,288.8 1383.9,290.9 1383.1,293.0 1382.5,294.7 1381.8,296.5 1381.2,298.3 1380.6,300.1 1380.0,302.0 1379.4,303.8 1378.8,305.7 1378.2,307.6 1377.6,309.5 1377.0,311.5 1376.4,313.4 1375.9,315.4 1375.3,317.4 1374.7,319.4 1374.1,321.4 1373.5,323.4 1373.0,325.4 1372.4,327.4 1371.7,329.4 1371.1,331.4 1370.5,333.4 1369.9,335.5 1369.2,337.5 1368.5,339.5 1367.8,341.5 1367.1,343.5 1366.4,345.6 1365.7,347.6 1364.9,349.5 1364.2,351.4 1363.4,353.2 1362.7,355.0 1362.0,356.9 1361.2,358.8 1360.4,360.7 1359.6,362.6 1358.8,364.5 1358.0,366.5 1357.2,368.4 1356.3,370.4 1355.5,372.3 1354.6,374.3 1353.8,376.2 1352.9,378.2 1352.0,380.1 1351.1,382.1 1350.3,384.0 1349.4,385.9 1348.5,387.8 1347.6,389.7 1346.7,391.6 1345.8,393.4 1344.9,395.3 1344.0,397.1 1343.1,398.9 1342.2,400.7 1341.3,402.4 1340.4,404.1 1339.5,405.8 1338.6,407.5 1337.7,409.1 1336.8,410.6 1335.9,412.2 1335.0,413.7 1333.8,415.7 1332.6,417.6 1331.4,419.5 1330.3,421.3 1329.1,423.1 1328.0,424.8 1326.8,426.5 1325.6,428.1 1324.5,429.8 1323.3,431.3 1322.1,432.9 1320.9,434.5 1319.6,436.0 1318.4,437.5 1317.1,439.0 1315.8,440.6 1314.4,442.1 1313.1,443.6 1311.7,445.1 1310.3,446.5 1309.0,448.0 1307.6,449.4 1306.2,450.8 1304.8,452.2 1303.3,453.6 1301.9,454.9 1300.4,456.3 1298.9,457.6 1297.4,459.0 1295.9,460.3 1294.3,461.6 1292.7,462.9 1291.2,464.2 1289.6,465.5 1288.0,466.7 1286.3,468.0 1284.7,469.2 1283.0,470.4 1281.3,471.6 1279.6,472.8 1278.0,473.9 1276.3,474.9 1274.7,476.0 1273.0,477.1 1271.3,478.2 1269.5,479.2 1267.8,480.3 1266.0,481.3 1264.2,482.3 1262.4,483.3 1260.6,484.3 1258.8,485.3 1257.0,486.3 1255.2,487.2 1253.3,488.1 1251.5,489.0 1249.6,489.9 1247.7,490.8 1245.9,491.6 1244.0,492.4 1242.2,493.2 1240.3,494.0 1238.4,494.7 1236.6,495.4 1234.7,496.1 1232.7,496.8 1230.8,497.4 1228.8,498.0 1226.8,498.6 1224.8,499.1 1222.9,499.6 1220.9,500.1 1218.9,500.6 1216.9,501.1 1214.9,501.5 1212.9,501.9 1210.9,502.3 1208.9,502.7 1206.9,503.1 1204.9,503.4 1202.9,503.8 1200.8,504.1 1198.8,504.5 1196.8,504.8 1194.9,505.1 1192.9,505.5 1190.8,505.8 1188.9,506.1 1187.0,506.4 1185.1,506.7 1183.3,506.9 1181.5,507.2 1179.7,507.4 1177.9,507.6 1176.1,507.8 1174.3,508.0 1172.4,508.2 1170.5,508.4 1168.6,508.5 1166.6,508.7 1164.5,508.9 1162.3,509.0 1160.0,509.2 1157.7,509.4 1155.2,509.5 1152.6,509.7 1149.9,509.9 1146.6,510.0 1143.2,510.2 1139.6,510.4 1135.9,510.6 1132.0,510.7 1128.0,510.9 1123.9,511.0 1119.6,511.2 1115.2,511.3 1110.7,511.4 1106.1,511.5 1101.4,511.6 1096.6,511.8 1091.7,511.9 1086.7,512.0 1081.6,512.0 1076.4,512.1 1071.2,512.2 1065.9,512.3 1060.5,512.4 1055.1,512.5 1049.6,512.5 1044.1,512.6 1038.5,512.7 1032.9,512.7 1027.3,512.8 1021.6,512.9 1015.9,512.9 1010.2,513.0 1004.5,513.0 998.8,513.1 993.1,513.2 987.4,513.2 981.7,513.3 976.0,513.3 970.3,513.4 964.7,513.4 959.0,513.5 953.5,513.6 947.9,513.6 941.2,513.7 934.3,513.8 927.3,513.8 920.1,513.9 912.7,513.9 905.2,514.0 897.6,514.0 889.9,514.1 882.1,514.1 874.2,514.2 866.3,514.2 858.3,514.2 850.2,514.2 842.1,514.3 834.0,514.3 825.8,514.3 817.7,514.3 809.5,514.3 801.4,514.4 793.3,514.4 785.3,514.4 777.3,514.4 769.4,514.4 761.6,514.4 753.8,514.4 746.2,514.5 738.6,514.5 731.2,514.5 724.0,514.5 716.8,514.5 709.9,514.6 703.1,514.6 696.5,514.6 690.1,514.6 683.9,514.7 677.9,514.7 672.1,514.7 666.6,514.8 661.4,514.8 656.4,514.9 653.7,514.9 651.1,514.9 648.5,515.0 646.0,515.0 643.5,515.0 641.1,515.1 638.7,515.1 636.4,515.1 634.1,515.1 631.9,515.2 629.7,515.2 627.5,515.2 625.4,515.2 623.3,515.3 621.3,515.3 619.3,515.3 617.3,515.4 615.3,515.4 613.4,515.4 611.5,515.4 609.6,515.5 607.8,515.5 605.9,515.6 604.1,515.6 602.3,515.6 600.5,515.7 598.8,515.7 597.1,515.7 595.3,515.8 593.6,515.8 591.9,515.9 590.2,515.9 588.5,516.0 586.8,516.0 585.1,516.1 583.5,516.1 581.1,516.2 578.9,516.3 576.7,516.4 574.5,516.5 572.4,516.6 570.4,516.7 568.4,516.8 566.4,516.9 564.5,517.0 562.5,517.1 560.6,517.2 558.7,517.3 556.8,517.4 554.9,517.5 552.9,517.6 551.0,517.8 549.0,517.9 547.0,518.0 545.0,518.2 543.0,518.3 540.9,518.5 538.9,518.6 536.9,518.8 534.9,518.9 532.8,519.1 530.8,519.3 528.8,519.4 526.8,519.6 524.7,519.8 522.7,520.0 520.7,520.2 518.7,520.4 516.6,520.6 514.6,520.8 512.6,521.0 510.6,521.2 508.5,521.4 506.5,521.6 504.5,521.8 502.5,522.1 500.4,522.3 498.4,522.5 496.4,522.8 494.4,523.0 492.3,523.3 490.3,523.5 488.3,523.8 486.3,524.0 484.2,524.3 482.2,524.5 480.2,524.8 478.2,525.1 476.2,525.3 474.1,525.6 472.1,525.8 470.1,526.1 468.1,526.4 466.0,526.7 464.0,527.0 462.0,527.3 460.0,527.6 457.9,527.9 455.9,528.2 453.9,528.5 451.9,528.8 449.8,529.1 447.8,529.4 445.8,529.6 443.8,529.9 441.7,530.2 439.7,530.4 437.7,530.6 435.7,530.8 433.6,531.0 431.6,531.2 429.6,531.4 427.6,531.5 425.5,531.7 423.5,531.8 421.5,532.0 419.5,532.1 417.4,532.2 415.4,532.4 413.4,532.5 411.4,532.6 409.3,532.7 407.3,532.8 405.3,532.9 403.3,533.0 401.2,533.1 399.2,533.2 397.2,533.3 395.2,533.4 393.1,533.4 391.1,533.5 389.1,533.5 387.1,533.6 385.0,533.6 383.0,533.6 381.0,533.7 379.0,533.7 376.9,533.8 374.9,533.8 372.9,533.8 370.9,533.9 368.8,533.9 366.8,534.0 364.8,534.1 362.7,534.1 360.7,534.2 358.6,534.2 356.5,534.3 354.4,534.3 352.3,534.4 350.2,534.5 348.1,534.5 346.0,534.6 343.9,534.6 341.8,534.7 339.8,534.8 337.8,534.9 335.8,535.0 333.9,535.2 332.0,535.3 330.1,535.5 328.3,535.6 326.1,535.9 324.0,536.1 322.0,536.4 320.0,536.7 318.1,537.0 316.2,537.4 314.3,537.7 312.4,538.1 310.5,538.5 308.5,538.9 306.5,539.4 304.6,539.9 302.6,540.3 300.6,540.8 298.6,541.3 296.6,541.8 294.6,542.3 292.6,542.9 290.6,543.5 288.6,544.1 286.6,544.8 284.7,545.5 282.8,546.2 281.0,546.9 279.1,547.8 277.1,548.7 275.1,549.7 273.2,550.6 271.2,551.6 269.4,552.7 267.6,553.8 265.9,555.0 264.2,556.2 262.7,557.5 261.4,558.9 260.1,560.4 258.9,562.1 257.9,563.8 256.9,565.5 256.1,567.4 255.3,569.3 254.5,571.2 253.8,573.2 253.1,575.1 252.4,577.1 251.8,579.0 251.2,580.8 250.6,582.7 250.1,584.7 249.6,586.6 249.2,588.6 248.7,590.6 248.3,592.6 247.9,594.7 247.5,596.8 247.1,598.9 246.7,601.0 246.3,603.0 246.0,604.9 245.7,606.9 245.4,608.9 245.0,611.0 244.7,613.0 244.5,615.1 244.2,617.2 243.9,619.3 243.6,621.4 243.4,623.6 243.1,625.7 242.8,628.0 242.6,630.2 242.3,632.4 242.1,634.3 241.9,636.1 241.7,638.0 241.5,639.9 241.3,641.8 241.1,643.7 240.9,645.6 240.8,647.5 240.6,649.5 240.4,651.4 240.2,653.4 240.0,655.4 239.9,657.4 239.7,659.5 239.5,661.5 239.3,663.6 239.2,665.7 239.0,667.8 238.8,669.9 238.7,672.1 238.5,674.3 238.3,676.5 238.2,678.3 238.0,680.1 237.9,682.0 237.7,683.8 237.6,685.7 237.5,687.6 237.3,689.6 237.2,691.5 237.0,693.4 236.9,695.4 236.8,697.4 236.6,699.4 236.5,701.4 236.3,703.4 236.2,705.4 236.1,707.5 235.9,709.5 235.8,711.6 235.7,713.6 235.5,715.7 235.4,717.8 235.3,719.9 235.2,722.0 235.0,724.1 234.9,726.2 234.8,728.3 234.6,730.4 234.5,732.5 234.4,734.6 234.3,736.7 234.2,738.8 234.1,741.0 233.9,743.1 233.8,745.0 233.7,747.0 233.6,749.0 233.5,750.9 233.5,752.9 233.4,754.9 233.3,756.9 233.2,758.9 233.1,760.9 233.0,762.9 232.9,765.0 232.8,767.0 232.8,769.0 232.7,771.1 232.6,773.1 232.5,775.2 232.4,777.3 232.4,779.3 232.3,781.4 232.2,783.5 232.1,785.5 232.0,787.6 232.0,789.7 231.9,791.7 231.8,793.8 231.7,795.9 231.7,798.0 231.6,800.1 231.5,802.1 231.4,804.2 231.4,806.3 231.3,808.4 231.2,810.4 231.1,812.5 231.1,814.6 231.0,816.6 230.9,818.7 230.8,820.7 230.7,822.8 230.7,824.8 230.6,826.8 230.5,828.9 230.4,830.9 230.3,832.9 230.2,834.9 230.2,836.9 230.1,838.9 230.0,840.9 229.9,842.9 229.8,844.9 229.7,846.9 229.7,848.9 229.6,850.9 229.5,852.9 229.4,854.9 229.3,856.9 229.2,858.9 229.2,860.9 229.1,862.9 229.0,864.9 228.9,866.9 228.8,868.9 228.7,870.9 228.7,873.0 228.6,875.0 228.5,877.0 228.4,879.0 228.3,881.0 228.2,883.1 228.2,885.1 228.1,887.2 228.0,889.2 227.9,891.3 227.8,893.4 227.8,895.4 227.7,897.5 227.6,899.6 227.5,901.7 227.5,903.8 227.4,905.9 227.3,908.2 227.2,910.6 227.1,912.9 227.1,915.3 227.0,917.7 226.9,920.0 226.8,922.4 226.8,924.8 226.7,927.2 226.6,929.6 226.5,932.1 226.5,934.5 226.4,936.9 226.3,939.4 226.2,941.8 226.2,944.2 226.1,946.7 226.0,949.2 226.0,951.6 225.9,954.1 225.8,956.5 225.7,959.0 225.7,961.5 225.6,964.0 225.5,966.4 225.5,968.9 225.4,971.4 225.3,973.8 225.2,976.3 225.2,978.8 225.1,981.3 225.0,983.7 225.0,986.2 224.9,988.7 224.8,991.1 224.8,993.6 224.7,996.0 224.6,998.5 224.5,1000.9 224.5,1003.4" stroke="#2EA866" stroke-dasharray="19 12.3 2.4 12.5"/>
<path d="M221.2,1003.4 221.2,1000.9 221.2,998.5 221.2,996.0 221.2,993.6 221.2,991.1 221.2,988.7 221.3,986.2 221.3,983.7 221.3,981.3 221.3,978.8 221.3,976.3 221.3,973.8 221.3,971.4 221.3,968.9 221.3,966.4 221.3,964.0 221.3,961.5 221.3,959.0 221.4,956.5 221.4,954.1 221.4,951.6 221.4,949.2 221.4,946.7 221.4,944.3 221.4,941.8 221.4,939.4 221.4,936.9 221.4,934.5 221.4,932.1 221.5,929.6 221.5,927.2 221.5,924.8 221.5,922.4 221.5,920.0 221.5,917.7 221.5,915.3 221.5,912.9 221.5,910.6 221.5,908.2 221.6,905.9 221.6,903.8 221.6,901.7 221.6,899.6 221.6,897.5 221.6,895.4 221.6,893.4 221.6,891.3 221.6,889.2 221.6,887.2 221.6,885.1 221.6,883.1 221.6,881.1 221.6,879.0 221.6,877.0 221.7,875.0 221.7,873.0 221.7,870.9 221.7,868.9 221.7,866.9 221.7,864.9 221.7,862.9 221.7,860.9 221.7,858.9 221.7,856.9 221.7,854.9 221.7,852.9 221.7,850.9 221.8,848.9 221.8,846.9 221.8,844.9 221.8,842.9 221.8,840.9 221.8,838.9 221.8,836.9 221.8,834.9 221.8,832.9 221.9,830.9 221.9,828.9 221.9,826.8 221.9,824.8 221.9,822.8 222.0,820.7 222.0,818.6 222.0,816.6 222.0,814.5 222.0,812.4 222.0,810.3 222.1,808.2 222.1,806.0 222.1,803.9 222.1,801.8 222.2,799.7 222.2,797.5 222.2,795.4 222.2,793.3 222.2,791.2 222.3,789.0 222.3,786.9 222.3,784.8 222.3,782.7 222.4,780.6 222.4,778.5 222.4,776.4 222.4,774.3 222.5,772.2 222.5,770.2 222.5,768.1 222.6,766.1 222.6,764.1 222.6,762.1 222.7,760.1 222.7,758.1 222.7,756.2 222.8,754.2 222.8,752.3 222.8,750.4 222.9,748.6 222.9,746.7 223.0,744.9 223.0,743.1 223.1,740.8 223.1,738.6 223.1,736.4 223.2,734.2 223.2,732.1 223.2,730.0 223.3,728.0 223.3,725.9 223.3,723.9 223.4,721.9 223.4,719.9 223.5,718.0 223.5,716.0 223.6,714.0 223.6,712.1 223.7,710.1 223.8,708.2 223.9,706.2 224.0,704.2 224.1,702.2 224.2,700.2 224.4,698.2 224.5,696.1 224.7,694.1 224.9,692.0 225.1,690.0 225.3,688.0 225.5,685.9 225.7,683.8 225.9,681.7 226.2,679.5 226.4,677.4 226.7,675.3 227.0,673.1 227.2,671.0 227.5,668.8 227.8,666.7 228.1,664.5 228.4,662.4 228.7,660.3 229.1,658.2 229.4,656.1 229.7,654.0 230.1,652.0 230.4,650.0 230.7,648.0 231.1,646.1 231.4,644.2 231.8,642.3 232.1,640.5 232.5,638.7 233.0,636.5 233.4,634.4 234.0,632.3 234.5,630.4 235.0,628.4 235.6,626.5 236.1,624.6 236.7,622.8 237.2,620.9 237.8,619.1 238.3,617.2 238.9,615.3 239.4,613.4 239.9,611.4 240.4,609.4 240.9,607.3 241.3,605.5 241.6,603.6 242.0,601.7 242.4,599.7 242.7,597.8 243.1,595.8 243.4,593.8 243.7,591.7 244.1,589.7 244.4,587.7 244.7,585.6 245.0,583.5 245.3,581.5 245.7,579.4 246.0,577.3 246.3,575.3 246.6,573.2 246.9,571.2 247.2,569.2 247.5,567.2 247.8,565.2 248.2,563.3 248.5,561.2 248.8,559.1 249.2,557.0 249.5,554.8 249.9,552.7 250.2,550.5 250.5,548.4 250.9,546.3 251.2,544.2 251.5,542.1 251.9,540.0 252.2,538.0 252.5,536.0 252.8,534.0 253.2,532.1 253.5,530.2 253.8,528.4 254.2,526.7 254.5,524.9 255.0,522.7 255.4,520.6 255.9,518.5 256.4,516.5 256.9,514.6 257.4,512.7 257.9,510.9 258.3,509.1 258.7,507.3 259.0,505.5 259.4,503.3 259.7,501.2 259.9,499.2 260.1,497.2 260.3,495.2 260.6,493.2 260.8,491.0 261.1,489.0 261.4,486.9 261.6,484.7 261.9,482.6 262.2,480.4 262.5,478.1 262.8,475.9 263.1,473.7 263.5,471.5 263.8,469.4 264.1,467.2 264.4,464.9 264.7,462.6 265.0,460.3 265.3,458.1 265.7,456.0 266.2,454.1 266.8,452.3 267.5,450.8 269.0,448.4 270.8,446.3 272.6,444.8 274.2,444.5 275.0,445.0 275.8,446.2 276.5,447.9 277.2,449.9 277.8,452.3 278.4,454.8 279.0,457.4 279.5,460.0 280.0,462.4 280.5,464.6 281.0,466.8 281.5,469.0 281.9,471.2 282.3,473.4 282.7,475.6 283.0,477.8 283.4,479.9 283.7,482.0 284.1,484.1 284.5,486.3 284.9,488.5 285.2,490.6 285.6,492.7 285.9,494.8 286.3,496.9 286.8,499.2 287.2,501.2 287.6,503.2 288.0,505.3 288.5,507.4 288.9,509.6 289.5,511.7 290.0,513.8 290.6,515.9 291.2,518.0 291.9,520.0 292.5,522.1 293.2,524.3 294.0,526.5 294.7,528.7 295.5,530.8 296.4,532.7 297.3,534.4 298.3,535.8 299.3,536.9 301.1,537.9 303.0,538.4 305.0,538.6 307.2,538.8 309.0,539.0 310.9,539.2 312.8,539.4 314.9,539.5 317.1,539.6 319.6,539.7 321.2,539.8 322.9,539.8 324.7,539.8 326.6,539.8 328.6,539.8 330.7,539.8 332.9,539.8 335.1,539.8 337.3,539.8 339.6,539.7 341.8,539.7 344.1,539.7 346.3,539.6 348.5,539.6 350.7,539.5 352.8,539.5 354.8,539.4 356.8,539.4 359.0,539.4 361.2,539.3 363.3,539.3 365.5,539.2 367.5,539.2 369.6,539.1 371.7,539.1 373.7,539.0 375.7,538.9 377.7,538.9 379.7,538.8 381.7,538.7 383.7,538.6 385.9,538.5 388.2,538.4 390.4,538.2 392.6,538.1 394.7,538.0 396.9,537.8 399.0,537.7 401.1,537.5 403.2,537.3 405.1,537.0 407.1,536.8 409.4,536.4 411.7,535.9 413.9,535.4 416.1,534.9 418.2,534.3 420.3,533.7 422.4,533.1 424.7,532.5 427.0,531.8 429.3,531.1 431.5,530.4 433.6,529.6 435.5,528.7 437.5,527.5 439.3,526.2 441.0,524.8 442.8,523.3 444.4,521.9 446.1,520.4 447.7,518.9 449.3,517.3 450.8,515.7 452.1,514.1 453.4,512.6 454.6,510.9 455.8,509.2 457.0,507.3 458.0,505.6 459.0,503.8 460.1,501.9 461.1,499.9 462.1,497.9 463.1,495.9 463.9,494.0 464.7,492.1 465.4,489.8 465.9,487.5 466.3,485.3 466.8,483.0 467.3,480.6 467.9,478.7 468.4,476.7 469.0,474.7 469.6,472.6 470.3,470.5 470.9,468.4 471.5,466.4 472.1,464.5 472.7,462.7 473.5,460.2 474.3,458.1 475.1,455.9 476.0,453.3 476.4,451.7 476.8,450.1 477.2,448.4 477.6,446.6 478.0,444.7 478.4,442.8 478.9,440.8 479.3,438.7 479.7,436.6 480.1,434.4 480.5,432.1 481.0,429.8 481.4,427.5 481.7,425.8 482.0,424.1 482.4,422.3 482.7,420.5 483.0,418.7 483.3,416.8 483.7,414.8 484.0,412.8 484.3,410.8 484.7,408.8 485.0,406.8 485.3,404.7 485.7,402.6 486.0,400.5 486.3,398.3 486.7,396.2 487.0,394.0 487.3,391.9 487.7,389.7 488.0,387.6 488.3,385.4 488.6,383.3 488.9,381.2 489.3,379.1 489.6,377.0 489.9,374.9 490.2,372.8 490.5,370.8 490.7,368.8 491.0,366.7 491.3,364.7 491.6,362.7 491.8,360.7 492.1,358.7 492.3,356.6 492.6,354.6 492.9,352.6 493.1,350.5 493.4,348.5 493.6,346.5 493.9,344.4 494.1,342.4 494.3,340.3 494.6,338.3 494.8,336.2 495.1,334.2 495.3,332.1 495.6,330.1 495.9,328.0 496.1,326.0 496.4,323.9 496.6,321.8 496.9,319.8 497.2,317.7 497.5,315.6 497.7,313.6 498.0,311.4 498.2,309.2 498.5,306.9 498.8,304.5 499.0,302.0 499.3,299.4 499.6,296.8 499.9,294.2 500.1,291.6 500.4,288.9 500.7,286.3 501.0,283.7 501.2,281.1 501.5,278.5 501.8,276.0 502.1,273.6 502.4,271.3 502.6,269.0 502.9,266.9 503.2,264.9 503.5,263.0 503.8,261.2 504.1,259.7 504.3,258.2 504.6,257.0 504.9,256.0 505.2,255.1 505.5,254.5 505.8,254.1 506.1,254.0 506.5,254.3 507.0,255.2 507.5,256.7 508.1,258.5 508.6,260.7 509.1,263.2 509.6,265.8 510.1,268.6 510.6,271.3 511.0,273.9 511.4,276.3 511.8,278.5 512.2,280.6 512.5,282.5 512.8,284.5 513.0,286.4 513.3,288.3 513.5,290.2 513.7,292.2 513.9,294.3 514.1,296.4 514.4,298.7 514.6,301.1 514.7,302.8 514.9,304.4 515.0,306.2 515.2,308.0 515.3,309.8 515.4,311.7 515.6,313.6 515.7,315.6 515.8,317.6 516.0,319.7 516.1,321.8 516.2,323.9 516.4,326.0 516.5,328.1 516.6,330.3 516.7,332.4 516.9,334.6 517.0,336.8 517.1,339.0 517.2,341.1 517.4,343.3 517.5,345.4 517.6,347.6 517.8,349.7 517.9,351.8 518.0,353.8 518.2,355.8 518.3,357.9 518.4,360.0 518.6,362.1 518.7,364.2 518.9,366.3 519.0,368.4 519.1,370.5 519.3,372.7 519.4,374.8 519.6,376.9 519.7,379.1 519.9,381.2 520.0,383.3 520.2,385.4 520.3,387.5 520.4,389.5 520.6,391.6 520.7,393.6 520.9,395.6 521.0,397.6 521.1,399.5 521.3,401.4 521.4,403.3 521.5,405.1 521.7,406.9 521.8,408.6 522.0,411.0 522.1,413.3 522.3,415.5 522.5,417.7 522.6,419.8 522.8,421.9 522.9,423.9 523.1,425.9 523.3,427.9 523.4,429.9 523.6,431.8 523.7,433.7 523.9,435.6 524.1,437.6 524.3,439.8 524.5,442.1 524.7,444.3 524.9,446.5 525.1,448.6 525.3,450.7 525.5,452.8 525.7,454.9 525.9,456.9 526.1,458.9 526.3,461.1 526.4,463.2 526.5,465.4 526.7,467.4 526.8,469.5 526.9,471.5 527.1,473.4 527.3,475.3 527.6,477.7 527.9,480.0 528.2,482.3 528.6,484.5 528.9,486.6 529.3,489.0 529.5,491.3 529.9,493.5 530.4,495.5 531.7,498.2 533.2,500.4 534.5,502.2 535.9,503.9 537.5,505.3 539.3,506.8 541.9,508.0 543.1,508.3 544.5,508.6 546.0,508.9 547.7,509.1 549.5,509.3 551.4,509.5 553.4,509.6 555.5,509.7 557.7,509.8 559.9,509.8 562.2,509.9 564.6,509.9 567.0,509.9 569.4,510.0 571.9,510.0 574.4,510.0 576.8,510.1 579.3,510.2 581.7,510.2 583.4,510.3 585.1,510.4 586.8,510.4 588.5,510.5 590.2,510.5 592.0,510.6 593.7,510.6 595.4,510.7 597.2,510.7 598.9,510.8 600.7,510.8 602.5,510.9 604.3,510.9 606.1,511.0 607.9,511.0 609.8,511.0 611.7,511.1 613.6,511.1 615.5,511.2 617.4,511.2 619.4,511.2 621.5,511.3 623.5,511.3 625.6,511.3 627.7,511.4 629.9,511.4 632.0,511.4 634.3,511.5 636.5,511.5 638.9,511.5 641.2,511.6 643.6,511.6 646.1,511.6 648.6,511.6 651.1,511.7 653.7,511.7 656.4,511.7 661.4,511.8 666.7,511.9 672.4,511.9 678.2,512.0 684.3,512.0 690.7,512.1 697.3,512.1 704.0,512.2 711.0,512.2 718.1,512.3 725.5,512.3 732.9,512.3 740.5,512.4 748.3,512.4 756.1,512.5 764.0,512.5 772.0,512.5 780.1,512.6 788.3,512.6 796.4,512.6 804.7,512.7 812.9,512.7 821.1,512.7 829.3,512.7 837.5,512.8 845.7,512.8 853.8,512.8 861.8,512.8 869.7,512.8 877.6,512.9 885.3,512.9 893.0,512.9 900.5,512.9 907.8,512.9 915.0,512.9 922.0,513.0 928.8,513.0 935.4,513.0 941.8,513.0 947.9,513.0 952.2,513.0 956.4,513.0 960.6,513.0 964.8,513.0 968.9,513.0 973.0,513.0 977.1,513.0 981.1,513.0 985.1,513.0 989.1,513.0 993.0,513.0 996.9,513.0 1000.8,513.0 1004.7,513.0 1008.5,513.0 1012.3,513.0 1016.0,513.0 1019.7,513.0 1023.4,513.0 1027.1,513.0 1030.7,513.0 1034.3,513.0 1037.9,513.0 1041.4,513.0 1044.9,513.0 1048.4,513.0 1051.8,512.9 1055.2,512.9 1058.6,512.9 1062.0,512.9 1065.3,512.9 1068.6,512.9 1071.8,512.9 1075.0,512.9 1078.2,512.9 1081.4,512.9 1084.5,512.8 1087.6,512.8 1090.7,512.8 1093.7,512.8 1096.1,512.8 1098.4,512.8 1100.7,512.8 1103.0,512.8 1105.2,512.8 1107.4,512.8 1109.6,512.8 1111.8,512.8 1113.9,512.7 1116.0,512.7 1118.1,512.7 1120.2,512.7 1122.2,512.7 1124.3,512.7 1126.3,512.7 1128.3,512.7 1130.3,512.7 1132.2,512.7 1134.2,512.7 1136.2,512.7 1138.1,512.6 1140.0,512.6 1141.9,512.6 1143.8,512.6 1145.8,512.6 1147.7,512.6 1149.6,512.6 1151.4,512.5 1153.3,512.5 1155.2,512.5 1157.1,512.5 1159.0,512.5 1160.9,512.4 1162.8,512.4 1164.7,512.4 1166.6,512.4 1168.7,512.3 1170.9,512.3 1173.0,512.3 1175.1,512.3 1177.2,512.2 1179.3,512.2 1181.3,512.2 1183.4,512.2 1185.5,512.1 1187.5,512.1 1189.6,512.1 1191.6,512.0 1193.7,512.0 1195.7,512.0 1197.7,511.9 1199.7,511.9 1201.7,511.9 1203.7,511.8 1205.7,511.8 1207.7,511.7 1209.6,511.7 1211.6,511.6 1213.5,511.6 1215.5,511.5 1217.4,511.4 1219.3,511.4 1221.2,511.3 1223.1,511.2 1224.9,511.1 1227.2,511.0 1229.4,510.9 1231.6,510.8 1233.7,510.7 1235.9,510.6 1238.0,510.5 1240.1,510.4 1242.3,510.3 1244.3,510.1 1246.4,510.0 1248.5,509.9 1250.6,509.7 1252.6,509.6 1254.6,509.4 1256.7,509.3 1258.7,509.1 1260.7,508.9 1262.7,508.7 1264.7,508.5 1266.7,508.2 1268.7,508.0 1270.8,507.7 1272.9,507.4 1275.1,507.1 1277.2,506.8 1279.3,506.5 1281.5,506.2 1283.6,505.8 1285.7,505.5 1287.8,505.1 1289.8,504.8 1291.9,504.4 1293.9,504.0 1295.8,503.5 1297.8,503.1 1299.7,502.6 1301.5,502.1 1303.4,501.6 1305.1,501.1 1307.2,500.4 1309.1,499.6 1311.0,498.9 1312.9,498.1 1314.7,497.2 1316.4,496.4 1318.2,495.5 1319.9,494.6 1321.6,493.7 1323.4,492.8 1325.2,491.9 1327.0,491.0 1328.8,490.1 1330.7,489.3 1332.7,488.5 1334.6,487.6 1336.6,486.8 1338.5,486.0 1340.5,485.1 1342.4,484.2 1344.2,483.2 1346.1,482.1 1347.8,481.0 1349.5,479.8 1351.0,478.4 1352.5,477.0 1353.8,475.5 1355.1,473.9 1356.3,472.2 1357.5,470.5 1358.6,468.7 1359.7,466.8 1360.8,464.9 1361.8,463.0 1362.8,461.0 1363.9,459.1 1364.9,457.1 1366.0,455.2 1367.1,453.3 1368.0,451.6 1369.0,449.9 1370.0,448.1 1370.9,446.4 1371.9,444.6 1372.8,442.9 1373.7,441.1 1374.7,439.3 1375.6,437.5 1376.5,435.7 1377.4,433.8 1378.4,432.0 1379.3,430.2 1380.3,428.4 1381.2,426.6 1382.2,424.9 1383.1,423.1 1384.1,421.2 1385.2,419.4 1386.2,417.5 1387.3,415.7 1388.3,413.8 1389.3,412.0 1390.4,410.1 1391.4,408.3 1392.5,406.5 1393.6,404.6 1394.6,402.8 1395.7,400.9 1396.7,399.1 1397.8,397.2 1398.8,395.4 1399.9,393.6" stroke="#A967E0" stroke-dasharray="13.7 11.8 2.7 12 2.7 12.1"/>
<path d="M1399.9,324.4 1398.9,326.2 1397.9,327.9 1396.9,329.7 1395.9,331.4 1395.0,333.2 1394.0,334.9 1393.0,336.7 1392.0,338.4 1391.0,340.2 1390.0,341.9 1389.0,343.7 1388.1,345.5 1387.1,347.3 1386.1,349.1 1385.1,350.9 1384.1,352.7 1383.1,354.6 1382.2,356.3 1381.3,358.0 1380.4,359.8 1379.5,361.5 1378.6,363.3 1377.7,365.1 1376.8,366.9 1375.9,368.7 1375.0,370.5 1374.2,372.3 1373.3,374.1 1372.3,375.9 1371.4,377.7 1370.5,379.5 1369.6,381.4 1368.7,383.2 1367.7,385.0 1366.8,386.8 1365.9,388.6 1364.9,390.4 1363.9,392.2 1363.0,394.0 1362.1,395.7 1361.1,397.5 1360.2,399.3 1359.3,401.1 1358.3,402.9 1357.4,404.7 1356.4,406.5 1355.5,408.3 1354.5,410.1 1353.5,411.8 1352.5,413.6 1351.5,415.4 1350.5,417.2 1349.4,418.9 1348.3,420.7 1347.2,422.4 1346.1,424.1 1344.9,425.8 1343.8,427.5 1342.6,429.1 1341.4,430.7 1340.2,432.4 1338.9,434.0 1337.6,435.6 1336.4,437.3 1335.1,438.9 1333.7,440.5 1332.4,442.1 1331.0,443.7 1329.6,445.3 1328.3,446.9 1326.9,448.4 1325.4,450.0 1324.0,451.5 1322.6,453.0 1321.2,454.5 1319.7,455.9 1318.3,457.3 1316.8,458.7 1315.3,460.1 1313.9,461.4 1312.4,462.7 1310.8,464.1 1309.2,465.5 1307.5,466.8 1305.9,468.1 1304.2,469.4 1302.6,470.6 1300.9,471.8 1299.2,473.0 1297.5,474.2 1295.8,475.3 1294.1,476.5 1292.4,477.5 1290.6,478.6 1288.8,479.7 1287.0,480.7 1285.2,481.7 1283.4,482.7 1281.5,483.7 1279.6,484.7 1277.8,485.6 1276.0,486.5 1274.2,487.3 1272.3,488.2 1270.4,489.0 1268.5,489.8 1266.6,490.6 1264.6,491.4 1262.7,492.1 1260.7,492.9 1258.7,493.6 1256.7,494.3 1254.7,495.0 1252.7,495.7 1250.7,496.3 1248.6,496.9 1246.6,497.6 1244.6,498.2 1242.6,498.8 1240.6,499.3 1238.6,499.9 1236.6,500.4 1234.6,500.9 1232.7,501.4 1230.7,501.9 1228.7,502.3 1226.7,502.8 1224.8,503.2 1222.8,503.6 1220.8,504.0 1218.8,504.3 1216.8,504.7 1214.8,505.0 1212.8,505.3 1210.8,505.6 1208.8,505.9 1206.8,506.2 1204.8,506.5 1202.8,506.8 1200.8,507.0 1198.8,507.3 1196.8,507.5 1194.8,507.7 1192.9,508.0 1190.8,508.2 1188.9,508.4 1187.0,508.6 1185.1,508.8 1183.3,508.9 1181.5,509.1 1179.7,509.2 1177.9,509.3 1176.1,509.4 1174.3,509.5 1172.4,509.6 1170.5,509.7 1168.6,509.8 1166.5,509.9 1164.5,510.0 1162.3,510.0 1160.0,510.1 1157.7,510.2 1155.2,510.3 1152.6,510.4 1149.9,510.5 1146.6,510.6 1143.2,510.7 1139.6,510.8 1135.9,510.9 1132.0,511.0 1128.0,511.1 1123.9,511.2 1119.6,511.3 1115.2,511.4 1110.7,511.5 1106.1,511.6 1101.4,511.7 1096.6,511.8 1091.7,511.9 1086.7,512.0 1081.6,512.1 1076.4,512.1 1071.2,512.2 1065.9,512.3 1060.5,512.4 1055.1,512.4 1049.6,512.5 1044.1,512.6 1038.5,512.7 1032.9,512.7 1027.3,512.8 1021.6,512.9 1015.9,512.9 1010.2,513.0 1004.5,513.1 998.8,513.1 993.1,513.2 987.4,513.2 981.7,513.3 976.0,513.3 970.3,513.4 964.7,513.5 959.0,513.5 953.5,513.6 947.9,513.6 941.2,513.7 934.3,513.8 927.3,513.8 920.1,513.9 912.7,513.9 905.2,514.0 897.6,514.0 889.9,514.0 882.1,514.1 874.2,514.1 866.3,514.1 858.3,514.2 850.2,514.2 842.1,514.2 834.0,514.2 825.8,514.2 817.7,514.3 809.5,514.3 801.4,514.3 793.3,514.3 785.3,514.3 777.3,514.4 769.4,514.4 761.6,514.4 753.8,514.4 746.2,514.4 738.6,514.5 731.2,514.5 724.0,514.5 716.8,514.5 709.9,514.5 703.1,514.6 696.5,514.6 690.1,514.6 683.9,514.7 677.9,514.7 672.1,514.7 666.6,514.8 661.4,514.8 656.4,514.9 653.7,514.9 651.1,514.9 648.5,515.0 646.0,515.0 643.5,515.0 641.1,515.0 638.7,515.1 636.4,515.1 634.1,515.1 631.9,515.1 629.7,515.2 627.5,515.2 625.4,515.2 623.3,515.2 621.3,515.2 619.3,515.3 617.3,515.3 615.3,515.3 613.4,515.3 611.5,515.4 609.6,515.4 607.7,515.4 605.9,515.5 604.1,515.5 602.3,515.5 600.5,515.6 598.8,515.6 597.0,515.7 595.3,515.7 593.6,515.8 591.9,515.8 590.2,515.9 588.5,515.9 586.8,516.0 585.1,516.1 583.5,516.1 581.1,516.2 578.9,516.4 576.7,516.5 574.5,516.6 572.4,516.7 570.4,516.8 568.4,517.0 566.4,517.1 564.5,517.2 562.5,517.4 560.6,517.5 558.7,517.7 556.8,517.8 554.9,518.0 552.9,518.2 551.0,518.3 549.0,518.5 547.0,518.7 545.0,518.8 543.0,519.0 540.9,519.2 538.9,519.4 536.9,519.5 534.9,519.7 532.8,519.9 530.8,520.1 528.8,520.3 526.8,520.5 524.7,520.7 522.7,520.9 520.7,521.2 518.7,521.4 516.6,521.6 514.6,521.9 512.6,522.2 510.6,522.4 508.5,522.7 506.5,523.0 504.5,523.3 502.5,523.6 500.4,524.0 498.4,524.3 496.4,524.7 494.4,525.0 492.3,525.4 490.3,525.7 488.3,526.1 486.3,526.5 484.2,526.9 482.2,527.2 480.2,527.6 478.2,528.0 476.2,528.3 474.1,528.7 472.1,529.1 470.1,529.5 468.1,529.9 466.0,530.3 464.0,530.7 462.0,531.1 460.0,531.5 457.9,532.0 455.9,532.4 453.9,532.8 451.9,533.2 449.8,533.6 447.8,534.0 445.8,534.3 443.8,534.7 441.7,535.0 439.7,535.3 437.7,535.6 435.7,535.9 433.6,536.2 431.6,536.4 429.6,536.6 427.6,536.8 425.6,537.0 423.5,537.2 421.5,537.4 419.5,537.6 417.5,537.7 415.4,537.9 413.4,538.0 411.4,538.1 409.3,538.3 407.3,538.4 405.3,538.5 403.3,538.7 401.2,538.8 399.2,538.9 397.2,539.0 395.2,539.1 393.1,539.2 391.1,539.2 389.1,539.3 387.1,539.4 385.0,539.4 383.0,539.5 381.0,539.5 379.0,539.6 376.9,539.6 374.9,539.7 372.9,539.7 370.9,539.8 368.8,539.9 366.8,539.9 364.8,540.0 362.7,540.1 360.7,540.2 358.6,540.3 356.5,540.3 354.4,540.4 352.3,540.5 350.2,540.6 348.1,540.6 346.0,540.7 343.9,540.8 341.8,540.9 339.8,541.0 337.8,541.1 335.8,541.3 333.9,541.4 332.0,541.6 330.1,541.7 328.3,541.9 326.1,542.2 324.0,542.5 321.8,542.8 319.8,543.1 317.7,543.4 315.8,543.7 313.8,544.1 311.9,544.5 310.1,544.9 308.3,545.3 306.5,545.7 304.2,546.2 302.1,546.7 300.0,547.3 298.0,547.8 296.0,548.5 294.0,549.2 291.9,550.1 290.1,550.9 288.3,551.8 286.4,552.9 284.6,553.9 282.7,555.1 280.8,556.2 279.0,557.4 277.3,558.5 275.6,559.7 274.0,560.8 272.1,562.2 270.2,563.6 268.5,564.9 266.8,566.4 265.1,567.9 263.3,569.6 261.9,570.9 260.5,572.4 259.0,573.8 257.5,575.4 256.0,577.0 254.5,578.6 253.1,580.4 251.7,582.1 250.3,584.0 249.0,585.9 248.1,587.5 247.2,589.1 246.3,590.8 245.4,592.5 244.5,594.3 243.7,596.1 242.9,597.9 242.1,599.8 241.4,601.7 240.6,603.6 239.9,605.6 239.2,607.6 238.5,609.6 237.9,611.6 237.2,613.6 236.7,615.4 236.1,617.3 235.6,619.1 235.1,621.0 234.6,623.0 234.1,624.9 233.7,626.9 233.3,628.9 232.8,630.8 232.4,632.9 232.0,634.9 231.6,636.9 231.3,639.0 230.9,641.0 230.6,643.1 230.2,645.1 229.9,647.2 229.5,649.2 229.2,651.3 228.9,653.3 228.6,655.2 228.3,657.2 228.0,659.2 227.8,661.2 227.5,663.2 227.3,665.2 227.1,667.2 226.8,669.3 226.6,671.3 226.4,673.3 226.2,675.4 226.0,677.4 225.8,679.5 225.7,681.5 225.5,683.6 225.3,685.7 225.1,687.8 225.0,689.9 224.8,692.0 224.7,694.1 224.6,696.0 224.4,698.0 224.3,699.9 224.2,701.9 224.1,703.8 224.0,705.8 223.9,707.7 223.9,709.7 223.8,711.6 223.7,713.6 223.7,715.6 223.6,717.6 223.5,719.6 223.5,721.6 223.4,723.6 223.4,725.7 223.3,727.8 223.3,729.9 223.3,732.0 223.2,734.2 223.2,736.3 223.1,738.6 223.1,740.8 223.0,743.1 223.0,744.9 222.9,746.7 222.9,748.6 222.8,750.4 222.8,752.3 222.8,754.2 222.7,756.2 222.7,758.1 222.7,760.1 222.6,762.1 222.6,764.1 222.6,766.1 222.5,768.1 222.5,770.2 222.5,772.2 222.4,774.3 222.4,776.4 222.4,778.5 222.4,780.6 222.3,782.7 222.3,784.8 222.3,786.9 222.3,789.0 222.2,791.2 222.2,793.3 222.2,795.4 222.2,797.5 222.2,799.7 222.1,801.8 222.1,803.9 222.1,806.0 222.1,808.2 222.0,810.3 222.0,812.4 222.0,814.5 222.0,816.6 222.0,818.6 222.0,820.7 221.9,822.8 221.9,824.8 221.9,826.8 221.9,828.9 221.9,830.9 221.8,832.9 221.8,834.9 221.8,836.9 221.8,838.9 221.8,840.9 221.8,842.9 221.8,844.9 221.8,846.9 221.8,848.9 221.7,850.9 221.7,852.9 221.7,854.9 221.7,856.9 221.7,858.9 221.7,860.9 221.7,862.9 221.7,864.9 221.7,866.9 221.7,868.9 221.7,870.9 221.7,873.0 221.7,875.0 221.6,877.0 221.6,879.0 221.6,881.1 221.6,883.1 221.6,885.1 221.6,887.2 221.6,889.2 221.6,891.3 221.6,893.4 221.6,895.4 221.6,897.5 221.6,899.6 221.6,901.7 221.6,903.8 221.6,905.9 221.5,908.2 221.5,910.6 221.5,912.9 221.5,915.3 221.5,917.7 221.5,920.0 221.5,922.4 221.5,924.8 221.5,927.2 221.5,929.6 221.4,932.1 221.4,934.5 221.4,936.9 221.4,939.4 221.4,941.8 221.4,944.3 221.4,946.7 221.4,949.2 221.4,951.6 221.4,954.1 221.4,956.5 221.3,959.0 221.3,961.5 221.3,964.0 221.3,966.4 221.3,968.9 221.3,971.4 221.3,973.8 221.3,976.3 221.3,978.8 221.3,981.3 221.3,983.7 221.3,986.2 221.2,988.7 221.2,991.1 221.2,993.6 221.2,996.0 221.2,998.5 221.2,1000.9 221.2,1003.4" stroke="#A967E0" stroke-dasharray="13.7 11.8 2.7 12 2.7 12.1"/>
</g>
<rect x="219.0" y="41.5" width="1166.3" height="943.0" fill="none" stroke="#000" stroke-width="3.2"/>
<line x1="200.00" y1="41.50" x2="219.00" y2="41.50" stroke="#000" stroke-width="3.2" />
<line x1="209.50" y1="120.08" x2="219.00" y2="120.08" stroke="#000" stroke-width="3.2" />
<line x1="200.00" y1="198.67" x2="219.00" y2="198.67" stroke="#000" stroke-width="3.2" />
<line x1="209.50" y1="277.25" x2="219.00" y2="277.25" stroke="#000" stroke-width="3.2" />
<line x1="200.00" y1="355.83" x2="219.00" y2="355.83" stroke="#000" stroke-width="3.2" />
<line x1="209.50" y1="434.42" x2="219.00" y2="434.42" stroke="#000" stroke-width="3.2" />
<line x1="200.00" y1="513.00" x2="219.00" y2="513.00" stroke="#000" stroke-width="3.2" />
<line x1="209.50" y1="591.58" x2="219.00" y2="591.58" stroke="#000" stroke-width="3.2" />
<line x1="200.00" y1="670.17" x2="219.00" y2="670.17" stroke="#000" stroke-width="3.2" />
<line x1="209.50" y1="748.75" x2="219.00" y2="748.75" stroke="#000" stroke-width="3.2" />
<line x1="200.00" y1="827.33" x2="219.00" y2="827.33" stroke="#000" stroke-width="3.2" />
<line x1="209.50" y1="905.92" x2="219.00" y2="905.92" stroke="#000" stroke-width="3.2" />
<line x1="200.00" y1="984.50" x2="219.00" y2="984.50" stroke="#000" stroke-width="3.2" />
<line x1="219.00" y1="984.50" x2="219.00" y2="1003.50" stroke="#000" stroke-width="3.2" />
<line x1="291.89" y1="984.50" x2="291.89" y2="994.00" stroke="#000" stroke-width="3.2" />
<line x1="364.79" y1="984.50" x2="364.79" y2="1003.50" stroke="#000" stroke-width="3.2" />
<line x1="437.68" y1="984.50" x2="437.68" y2="994.00" stroke="#000" stroke-width="3.2" />
<line x1="510.57" y1="984.50" x2="510.57" y2="1003.50" stroke="#000" stroke-width="3.2" />
<line x1="583.47" y1="984.50" x2="583.47" y2="994.00" stroke="#000" stroke-width="3.2" />
<line x1="656.36" y1="984.50" x2="656.36" y2="1003.50" stroke="#000" stroke-width="3.2" />
<line x1="729.26" y1="984.50" x2="729.26" y2="994.00" stroke="#000" stroke-width="3.2" />
<line x1="802.15" y1="984.50" x2="802.15" y2="1003.50" stroke="#000" stroke-width="3.2" />
<line x1="875.04" y1="984.50" x2="875.04" y2="994.00" stroke="#000" stroke-width="3.2" />
<line x1="947.94" y1="984.50" x2="947.94" y2="1003.50" stroke="#000" stroke-width="3.2" />
<line x1="1020.83" y1="984.50" x2="1020.83" y2="994.00" stroke="#000" stroke-width="3.2" />
<line x1="1093.72" y1="984.50" x2="1093.72" y2="1003.50" stroke="#000" stroke-width="3.2" />
<line x1="1166.62" y1="984.50" x2="1166.62" y2="994.00" stroke="#000" stroke-width="3.2" />
<line x1="1239.51" y1="984.50" x2="1239.51" y2="1003.50" stroke="#000" stroke-width="3.2" />
<line x1="1312.41" y1="984.50" x2="1312.41" y2="994.00" stroke="#000" stroke-width="3.2" />
<line x1="1385.30" y1="984.50" x2="1385.30" y2="1003.50" stroke="#000" stroke-width="3.2" />
<text x="118.09" y="56.50" font-size="52.00" textLength="69.77" lengthAdjust="spacingAndGlyphs" fill="#000">7.5</text>
<text x="118.59" y="213.67" font-size="52.00" textLength="70.03" lengthAdjust="spacingAndGlyphs" fill="#000">5.0</text>
<text x="118.35" y="370.83" font-size="52.00" textLength="69.51" lengthAdjust="spacingAndGlyphs" fill="#000">2.5</text>
<text x="118.07" y="528.00" font-size="52.00" textLength="70.57" lengthAdjust="spacingAndGlyphs" fill="#000">0.0</text>
<text x="90.02" y="685.17" font-size="52.00" textLength="97.78" lengthAdjust="spacingAndGlyphs" fill="#000">−2.5</text>
<text x="90.00" y="842.33" font-size="52.00" textLength="98.55" lengthAdjust="spacingAndGlyphs" fill="#000">−5.0</text>
<text x="90.02" y="999.50" font-size="52.00" textLength="97.78" lengthAdjust="spacingAndGlyphs" fill="#000">−7.5</text>
<text x="182.82" y="1056.20" font-size="52.00" textLength="72.37" lengthAdjust="spacingAndGlyphs" fill="#000">0.0</text>
<text x="328.61" y="1056.20" font-size="52.00" textLength="72.37" lengthAdjust="spacingAndGlyphs" fill="#000">0.2</text>
<text x="474.45" y="1056.20" font-size="52.00" textLength="70.49" lengthAdjust="spacingAndGlyphs" fill="#000">0.4</text>
<text x="620.19" y="1056.20" font-size="52.00" textLength="72.10" lengthAdjust="spacingAndGlyphs" fill="#000">0.6</text>
<text x="765.98" y="1056.20" font-size="52.00" textLength="71.82" lengthAdjust="spacingAndGlyphs" fill="#000">0.8</text>
<text x="910.67" y="1056.20" font-size="52.00" textLength="73.50" lengthAdjust="spacingAndGlyphs" fill="#000">1.0</text>
<text x="1056.45" y="1056.20" font-size="52.00" textLength="73.50" lengthAdjust="spacingAndGlyphs" fill="#000">1.2</text>
<text x="1202.32" y="1056.20" font-size="52.00" textLength="71.55" lengthAdjust="spacingAndGlyphs" fill="#000">1.4</text>
<text x="1348.04" y="1056.20" font-size="52.00" textLength="73.21" lengthAdjust="spacingAndGlyphs" fill="#000">1.6</text>
<text x="-2.77" y="49.50" font-size="67.00" textLength="79.85" lengthAdjust="spacingAndGlyphs" fill="#000">(a)</text>
<text x="464.52" y="1169.60" font-size="61.50" textLength="251.82" lengthAdjust="spacingAndGlyphs" fill="#000">Potential</text>
<text x="730.53" y="1169.60" font-size="61.50" textLength="59.37" lengthAdjust="spacingAndGlyphs" fill="#000">(V</text>
<text x="806.13" y="1169.60" font-size="61.50" textLength="74.95" lengthAdjust="spacingAndGlyphs" fill="#000">vs.</text>
<text x="896.88" y="1169.60" font-size="61.50" textLength="242.58" lengthAdjust="spacingAndGlyphs" fill="#000">Ag/AgCl)</text>
<g transform="translate(61.20,867.80) rotate(-90)"><text x="-2.33" y="0.00" font-size="61.50" textLength="210.39" lengthAdjust="spacingAndGlyphs" fill="#000">Current</text><text x="223.80" y="0.00" font-size="61.50" textLength="201.35" lengthAdjust="spacingAndGlyphs" fill="#000">density</text><text x="441.93" y="0.00" font-size="61.50" textLength="224.89" lengthAdjust="spacingAndGlyphs" fill="#000">(mA/cm</text><text x="668.39" y="-26.80" font-size="43.00" textLength="22.36" lengthAdjust="spacingAndGlyphs" fill="#000">2</text><text x="693.40" y="0.00" font-size="61.50" textLength="16.36" lengthAdjust="spacingAndGlyphs" fill="#000">)</text></g>
<text x="300.14" y="99.20" font-size="49.00" textLength="55.39" lengthAdjust="spacingAndGlyphs" fill="#000">Cu</text>
<text x="353.41" y="80.60" font-size="34.00" textLength="19.32" lengthAdjust="spacingAndGlyphs" fill="#000">0</text>
<text x="299.40" y="167.00" font-size="49.00" textLength="195.38" lengthAdjust="spacingAndGlyphs" fill="#000">stripping</text>
<text x="519.49" y="191.80" font-size="49.00" textLength="59.34" lengthAdjust="spacingAndGlyphs" fill="#000">Ag</text>
<text x="578.11" y="174.20" font-size="34.00" textLength="19.32" lengthAdjust="spacingAndGlyphs" fill="#000">0</text>
<text x="520.01" y="257.60" font-size="49.00" textLength="194.56" lengthAdjust="spacingAndGlyphs" fill="#000">stripping</text>
<text x="533.27" y="621.00" font-size="49.00" textLength="60.20" lengthAdjust="spacingAndGlyphs" fill="#000">Ag</text>
<text x="591.69" y="604.00" font-size="34.00" textLength="17.69" lengthAdjust="spacingAndGlyphs" fill="#000">+</text>
<text x="533.00" y="688.40" font-size="49.00" textLength="210.00" lengthAdjust="spacingAndGlyphs" fill="#000">reduction</text>
<text x="321.30" y="809.60" font-size="49.00" textLength="56.59" lengthAdjust="spacingAndGlyphs" fill="#000">Cu</text>
<text x="375.06" y="790.60" font-size="34.00" textLength="37.04" lengthAdjust="spacingAndGlyphs" fill="#000">2+</text>
<text x="320.98" y="876.70" font-size="49.00" textLength="211.75" lengthAdjust="spacingAndGlyphs" fill="#000">reduction</text>
<line x1="448.9" y1="572.4" x2="502.7" y2="603.3" stroke="#000" stroke-width="4.2"/><polygon points="417.7,554.0 457.8,556.7 440.0,588.0" fill="#000"/>
<line x1="278.4" y1="731.8" x2="309.2" y2="755.6" stroke="#000" stroke-width="4.2"/><polygon points="250.1,709.2 290.0,718.0 266.9,745.5" fill="#000"/>
<line x1="848.6" y1="663.30" x2="967.6" y2="663.30" stroke="#5e5e5e" stroke-width="3"/>
<text x="978.43" y="680.30" font-size="46.00" textLength="25.99" lengthAdjust="spacingAndGlyphs" fill="#000">0</text>
<text x="1013.54" y="680.30" font-size="46.00" textLength="83.83" lengthAdjust="spacingAndGlyphs" fill="#000">mM</text>
<text x="1108.34" y="680.30" font-size="46.00" textLength="178.42" lengthAdjust="spacingAndGlyphs" fill="#000">Ag(MSA)</text>
<line x1="848.6" y1="728.90" x2="967.6" y2="728.90" stroke="#EE3E42" stroke-width="3" stroke-dasharray="15.4 21"/>
<text x="978.51" y="745.90" font-size="46.00" textLength="112.02" lengthAdjust="spacingAndGlyphs" fill="#000">0.125</text>
<text x="1100.86" y="745.90" font-size="46.00" textLength="83.18" lengthAdjust="spacingAndGlyphs" fill="#000">mM</text>
<text x="1195.54" y="745.90" font-size="46.00" textLength="179.33" lengthAdjust="spacingAndGlyphs" fill="#000">Ag(MSA)</text>
<line x1="848.6" y1="794.50" x2="967.6" y2="794.50" stroke="#0A5ADC" stroke-width="3" stroke-dasharray="3.2 18.5"/>
<text x="978.50" y="811.50" font-size="46.00" textLength="112.72" lengthAdjust="spacingAndGlyphs" fill="#000">0.250</text>
<text x="1100.86" y="811.50" font-size="46.00" textLength="83.18" lengthAdjust="spacingAndGlyphs" fill="#000">mM</text>
<text x="1195.54" y="811.50" font-size="46.00" textLength="179.33" lengthAdjust="spacingAndGlyphs" fill="#000">Ag(MSA)</text>
<line x1="848.6" y1="860.10" x2="967.6" y2="860.10" stroke="#2EA866" stroke-width="3" stroke-dasharray="19 12.3 2.4 12.5"/>
<text x="978.51" y="877.10" font-size="46.00" textLength="112.02" lengthAdjust="spacingAndGlyphs" fill="#000">0.375</text>
<text x="1100.86" y="877.10" font-size="46.00" textLength="83.18" lengthAdjust="spacingAndGlyphs" fill="#000">mM</text>
<text x="1195.54" y="877.10" font-size="46.00" textLength="179.33" lengthAdjust="spacingAndGlyphs" fill="#000">Ag(MSA)</text>
<line x1="848.6" y1="925.70" x2="967.6" y2="925.70" stroke="#A967E0" stroke-width="3" stroke-dasharray="13.7 11.8 2.7 12 2.7 12.1"/>
<text x="978.50" y="942.70" font-size="46.00" textLength="112.72" lengthAdjust="spacingAndGlyphs" fill="#000">0.500</text>
<text x="1100.86" y="942.70" font-size="46.00" textLength="83.18" lengthAdjust="spacingAndGlyphs" fill="#000">mM</text>
<text x="1195.54" y="942.70" font-size="46.00" textLength="179.33" lengthAdjust="spacingAndGlyphs" fill="#000">Ag(MSA)</text>
<rect x="820.50" y="65.00" width="438.20" height="354.40" fill="#fff" stroke="none"/>
<g clip-path="url(#clipI)" fill="none" stroke-width="3" stroke-linejoin="round">
<path d="M820.0,171.3 820.1,173.5 820.2,175.7 820.3,177.8 820.5,179.9 820.6,182.1 820.7,184.3 820.9,186.6 821.0,189.0 821.2,191.0 821.3,193.0 821.4,195.1 821.5,197.3 821.6,199.5 821.7,201.7 821.8,204.0 821.9,206.2 822.0,208.4 822.2,210.5 822.4,212.6 822.6,214.6 822.9,216.5 823.3,218.9 823.7,221.2 824.2,223.5 824.7,225.8 825.2,227.9 825.8,229.9 826.4,231.7 827.1,233.3 828.3,235.8 829.7,237.8 831.5,239.5 833.1,240.8 835.1,241.9 837.2,242.8 839.4,243.7 841.5,244.3 843.5,244.8 845.5,245.0 847.5,245.2 849.6,245.3 851.7,245.4 853.7,245.5 855.6,245.5 857.6,245.5 859.6,245.5 861.9,245.5 864.3,245.4 865.9,245.3 867.6,245.3 869.3,245.2 871.1,245.1 872.9,245.0 874.8,244.8 876.8,244.7 878.8,244.6 880.9,244.4 883.0,244.3 885.2,244.2 887.5,244.0 889.8,243.9 892.2,243.8 894.7,243.7 897.2,243.6 898.9,243.6 900.5,243.5 902.2,243.5 904.0,243.4 905.7,243.4 907.5,243.3 909.2,243.3 911.0,243.3 912.8,243.2 914.7,243.2 916.5,243.2 918.4,243.2 920.3,243.1 922.3,243.1 924.2,243.1 926.2,243.1 928.3,243.0 930.3,243.0 932.4,243.0 934.5,243.0 936.6,243.0 938.8,243.0 941.0,242.9 943.3,242.9 945.6,242.9 947.9,242.9 950.3,242.9 952.7,242.9 955.1,242.9 957.6,242.9 960.1,242.8 962.7,242.8 965.3,242.8 967.9,242.8 970.6,242.8 973.4,242.8 976.2,242.8 979.0,242.8 981.9,242.7 984.8,242.7 991.2,242.7 997.9,242.7 1004.9,242.6 1012.2,242.6 1019.8,242.6 1027.7,242.6 1035.8,242.6 1044.2,242.6 1052.8,242.5 1061.6,242.5 1070.7,242.5 1080.0,242.5 1089.4,242.5 1099.0,242.5 1108.8,242.5 1118.7,242.5 1128.8,242.5 1138.9,242.5 1149.2,242.5 1159.6,242.5 1170.1,242.5 1180.6,242.5 1191.2,242.5 1201.9,242.5 1212.6,242.5 1223.3,242.5 1234.0,242.5 1244.7,242.5 1255.4,242.5 1266.0,242.5 1276.7,242.5 1287.2,242.6 1297.7,242.6 1308.1,242.6 1318.5,242.6 1328.7,242.6 1338.8,242.6 1348.8,242.6 1358.6,242.6 1368.2,242.6" stroke="#5e5e5e"/>
<path d="M820.0,160.7 820.3,162.9 820.7,165.0 821.0,167.8 821.2,169.2 821.4,170.8 821.5,172.5 821.7,174.4 821.9,176.4 822.0,178.5 822.2,180.7 822.4,182.9 822.6,185.1 822.8,187.4 823.0,189.6 823.2,191.8 823.4,193.9 823.6,196.0 823.8,197.9 824.1,200.1 824.3,202.3 824.6,204.4 824.9,206.6 825.2,208.6 825.5,210.7 825.8,212.8 826.2,214.8 826.5,216.9 826.8,218.9 827.2,220.9 827.6,223.1 827.9,225.4 828.3,227.6 828.6,229.9 829.0,232.1 829.4,234.3 829.9,236.4 830.3,238.4 830.9,240.4 831.5,242.2 832.2,244.4 833.1,246.5 833.9,248.4 834.9,250.2 836.0,251.9 837.3,253.5 838.7,255.0 840.3,256.4 842.1,257.7 843.9,258.9 845.9,259.9 847.9,260.8 849.8,261.5 851.7,262.1 853.7,262.6 855.8,263.0 858.0,263.3 860.5,263.6 863.2,263.8 864.7,263.9 866.2,264.0 867.9,264.0 869.6,264.1 871.4,264.1 873.3,264.1 875.2,264.0 877.2,264.0 879.3,263.9 881.4,263.8 883.5,263.7 885.7,263.6 887.9,263.5 890.1,263.4 892.4,263.3 894.6,263.2 896.9,263.0 899.1,262.9 901.3,262.7 903.5,262.6 905.7,262.5 907.9,262.3 910.0,262.2 912.1,262.0 914.1,261.9 916.1,261.8 918.0,261.7 920.2,261.6 922.3,261.4 924.5,261.3 926.6,261.2 928.8,261.0 930.9,260.9 933.0,260.8 935.1,260.6 937.1,260.5 939.2,260.3 941.2,260.2 943.2,260.0 945.2,259.9 947.2,259.7 949.2,259.5 951.1,259.4 953.0,259.2 954.9,259.0 956.7,258.9 958.5,258.7 960.8,258.5 962.9,258.3 965.1,258.1 967.2,257.9 969.3,257.7 971.3,257.5 973.3,257.2 975.3,257.0 977.2,256.7 979.2,256.5 981.1,256.2 983.0,255.9 984.8,255.5 986.9,255.1 989.0,254.6 991.1,254.1 993.1,253.6 995.1,253.1 997.0,252.5 998.9,251.9 1000.8,251.3 1002.7,250.6 1004.5,249.8 1006.5,248.9 1008.4,248.0 1010.2,247.0 1012.0,245.9 1013.8,244.9 1015.6,243.7 1017.4,242.6 1019.2,241.4 1021.0,240.3 1022.6,239.2 1024.3,238.2 1025.9,237.2 1027.6,236.2 1029.2,235.2 1030.9,234.0 1032.5,232.8 1034.1,231.5 1035.8,230.0 1037.4,228.4 1038.5,227.2 1039.6,225.9 1040.8,224.5 1041.9,223.0 1043.0,221.4 1044.2,219.8 1045.4,218.1 1046.5,216.4 1047.7,214.6 1048.8,212.8 1050.0,210.9 1051.1,209.0 1052.3,207.1 1053.4,205.2 1054.5,203.3 1055.6,201.3 1056.7,199.4 1057.7,197.4 1058.8,195.5 1059.8,193.6 1060.7,191.8 1061.7,189.9 1062.6,188.2 1063.6,186.2 1064.5,184.3 1065.3,182.3 1066.2,180.4 1067.0,178.4 1067.8,176.3 1068.6,174.3 1069.4,172.3 1070.1,170.3 1070.9,168.3 1071.6,166.3 1072.3,164.3 1073.0,162.4 1073.7,160.5 1074.4,158.6 1075.1,156.8 1075.8,155.0 1076.5,153.3 1077.2,151.7 1077.9,150.1 1079.0,147.8 1079.9,145.6 1080.9,143.4 1081.8,141.3 1082.8,139.3 1083.7,137.3 1084.7,135.5 1085.7,133.9 1086.7,132.4 1087.8,131.1 1089.7,129.2 1091.6,127.6 1093.6,126.6 1095.5,126.3 1097.0,126.9 1098.5,128.0 1100.1,129.7 1101.6,131.6 1103.0,133.7 1104.2,135.9 1105.0,137.4 1105.7,139.1 1106.4,140.9 1107.0,142.9 1107.5,144.9 1108.1,146.9 1108.6,149.1 1109.1,151.2 1109.6,153.3 1110.1,155.5 1110.7,157.6 1111.4,159.6 1112.0,161.6 1112.7,163.6 1113.3,165.6 1114.0,167.6 1114.7,169.7 1115.4,171.7 1116.1,173.7 1116.8,175.7 1117.5,177.8 1118.3,179.8 1119.1,181.8 1119.8,183.7 1120.7,185.7 1121.5,187.6 1122.3,189.5 1123.1,191.5 1124.0,193.5 1124.8,195.4 1125.7,197.3 1126.6,199.3 1127.6,201.1 1128.5,202.9 1129.5,204.7 1130.5,206.4 1131.6,207.9 1132.7,209.4 1134.1,211.1 1135.5,212.6 1136.9,214.1 1138.4,215.4 1140.0,216.7 1141.6,217.9 1143.3,219.1 1145.1,220.2 1147.0,221.3 1148.7,222.2 1150.5,223.0 1152.5,223.8 1154.5,224.5 1156.6,225.2 1158.8,225.8 1160.9,226.4 1163.1,227.0 1165.3,227.6 1167.4,228.1 1169.4,228.6 1171.4,229.1 1173.3,229.6 1175.4,230.2 1177.5,230.7 1179.4,231.2 1181.3,231.6 1183.2,232.0 1185.2,232.4 1187.3,232.8 1189.7,233.2 1191.4,233.4 1193.2,233.7 1195.2,233.9 1197.1,234.2 1199.2,234.4 1201.3,234.7 1203.4,234.9 1205.6,235.1 1207.8,235.3 1210.0,235.5 1212.2,235.7 1214.5,235.9 1216.7,236.1 1218.9,236.3 1221.1,236.4 1223.2,236.6 1225.3,236.7 1227.4,236.8 1229.5,237.0 1231.6,237.0 1233.7,237.1 1235.8,237.2 1237.9,237.3 1240.0,237.3 1242.1,237.4 1244.1,237.4 1246.2,237.5 1248.3,237.5 1250.4,237.6 1252.4,237.6 1254.5,237.7 1256.6,237.7 1258.7,237.8" stroke="#EE3E42" stroke-dasharray="15.4 21"/>
<path d="M820.0,144.7 820.1,146.8 820.3,148.9 820.4,150.9 820.6,153.0 820.8,155.0 820.9,157.1 821.1,159.2 821.3,161.2 821.4,163.3 821.6,165.4 821.8,167.5 821.9,169.5 822.1,171.5 822.2,173.5 822.4,175.5 822.5,177.5 822.7,179.4 822.8,181.4 823.0,183.4 823.1,185.5 823.3,187.5 823.4,189.6 823.6,191.7 823.8,193.9 824.0,196.1 824.2,198.0 824.3,199.9 824.5,201.9 824.7,203.9 824.9,206.0 825.1,208.1 825.3,210.2 825.5,212.4 825.7,214.5 825.9,216.7 826.1,218.9 826.3,221.0 826.5,223.1 826.7,225.2 827.0,227.3 827.2,229.3 827.4,231.3 827.7,233.2 827.9,235.1 828.2,236.9 828.5,239.3 828.9,241.6 829.2,243.9 829.6,246.1 829.9,248.3 830.3,250.4 830.7,252.5 831.1,254.4 831.6,256.4 832.1,258.2 832.6,259.9 833.2,262.1 833.8,264.1 834.5,266.0 835.3,267.8 836.2,269.5 837.3,271.1 838.7,272.7 840.3,274.3 842.0,275.7 843.9,277.1 845.9,278.3 847.9,279.4 849.7,280.3 851.4,281.1 853.3,281.8 855.2,282.4 857.3,283.0 859.6,283.4 862.1,283.8 863.6,284.0 865.1,284.1 866.8,284.3 868.5,284.3 870.3,284.4 872.2,284.4 874.1,284.4 876.1,284.3 878.2,284.3 880.3,284.2 882.4,284.1 884.6,284.0 886.9,283.9 889.1,283.8 891.4,283.6 893.7,283.5 895.9,283.3 898.2,283.2 900.5,283.0 902.8,282.9 905.0,282.7 907.3,282.6 909.5,282.4 911.6,282.3 913.7,282.2 915.8,282.1 917.9,282.0 920.0,281.9 922.1,281.7 924.3,281.6 926.5,281.5 928.6,281.4 930.8,281.2 933.0,281.1 935.1,281.0 937.3,280.8 939.5,280.7 941.6,280.6 943.8,280.4 945.9,280.3 948.0,280.1 950.1,280.0 952.1,279.8 954.2,279.7 956.2,279.5 958.1,279.3 960.0,279.2 961.9,279.0 963.8,278.9 965.6,278.7 967.3,278.5 969.6,278.3 971.9,278.1 974.0,277.9 976.1,277.7 978.2,277.5 980.2,277.3 982.1,277.1 984.1,276.9 986.0,276.6 987.9,276.3 989.8,276.0 991.7,275.6 993.6,275.2 995.6,274.6 997.6,274.1 999.6,273.5 1001.6,272.9 1003.6,272.3 1005.5,271.6 1007.4,270.9 1009.3,270.1 1011.2,269.3 1013.0,268.4 1014.8,267.5 1016.6,266.5 1018.3,265.4 1020.0,264.4 1021.6,263.2 1023.2,262.0 1024.8,260.8 1026.4,259.5 1027.9,258.2 1029.4,256.9 1030.9,255.5 1032.3,254.0 1033.8,252.6 1035.2,251.1 1036.5,249.6 1037.8,248.2 1039.1,246.6 1040.3,245.1 1041.5,243.5 1042.7,241.9 1043.9,240.2 1045.1,238.5 1046.2,236.9 1047.4,235.2 1048.5,233.5 1049.6,231.8 1050.6,230.1 1051.7,228.4 1052.7,226.6 1053.7,224.8 1054.7,223.0 1055.7,221.2 1056.7,219.4 1057.6,217.6 1058.5,215.8 1059.4,214.0 1060.3,212.1 1061.2,210.3 1062.0,208.4 1062.9,206.5 1063.7,204.6 1064.6,202.7 1065.4,200.7 1066.2,198.7 1067.1,196.8 1067.9,194.7 1068.7,192.7 1069.4,190.7 1070.2,188.7 1070.9,186.7 1071.6,184.6 1072.3,182.6 1072.9,180.6 1073.6,178.6 1074.2,176.5 1074.7,174.4 1075.2,172.4 1075.6,170.3 1076.1,168.2 1076.5,166.1 1076.9,164.0 1077.3,162.0 1077.7,159.9 1078.1,157.8 1078.6,155.7 1079.0,153.6 1079.5,151.6 1080.0,149.6 1080.5,147.6 1081.1,145.6 1081.6,143.6 1082.1,141.6 1082.7,139.6 1083.2,137.6 1083.7,135.6 1084.2,133.6 1084.7,131.6 1085.2,129.6 1085.6,127.6 1086.0,125.6 1086.4,123.6 1086.8,121.6 1087.1,119.5 1087.5,117.5 1087.8,115.5 1088.1,113.5 1088.4,111.5 1088.7,109.5 1089.0,107.5 1089.3,105.5 1089.7,103.5 1090.0,101.5 1090.3,99.5 1090.7,97.7 1091.0,95.8 1091.3,94.0 1091.6,92.1 1092.0,90.3 1092.3,88.5 1092.6,86.5 1093.0,84.6 1093.3,82.5 1093.7,80.3 1094.0,78.1 1094.4,75.6 1094.6,74.1 1094.8,72.5 1095.0,70.8 1095.3,69.1 1095.5,67.4 1095.7,65.5 1095.9,63.7 1096.2,61.8 1096.4,59.8 1096.6,57.8 1096.9,55.8 1097.1,53.8 1097.3,51.7 1097.6,49.6 1097.8,47.4 1098.1,45.3 1098.3,43.1 1098.6,41.0 1098.8,38.8 1099.1,36.6 1099.3,34.4 1099.5,32.2 1099.8,30.0 1100.0,27.8 1100.3,25.6 1100.6,23.4 1100.8,21.3 1101.1,19.1 1101.3,17.0 1101.6,14.9 1101.8,12.8 1102.1,10.8 1102.4,8.8 1102.6,6.8 1102.9,4.9 1103.1,3.0 1103.4,0.7 1103.7,-1.6 1104.0,-4.1 1104.3,-6.6 1104.6,-9.2 1104.9,-11.8 1105.2,-14.5 1105.5,-17.2 1105.7,-19.9 1106.0,-22.5 1106.3,-25.2 1106.6,-27.8 1106.9,-30.4 1107.2,-32.9 1107.5,-35.3 1107.8,-37.6 1108.1,-39.8 1108.5,-41.8 1108.8,-43.7 1109.1,-45.5 1109.5,-47.1 1109.9,-48.4 1110.2,-49.6 1110.6,-50.6 1111.0,-51.3 1111.5,-51.8 1111.9,-52.0 1112.7,-51.7 1113.5,-50.9 1114.4,-49.5 1115.4,-47.7 1116.3,-45.5 1117.2,-43.1 1118.2,-40.5 1119.0,-37.8 1119.9,-35.1 1120.7,-32.5 1121.1,-31.0 1121.5,-29.5 1121.8,-27.8 1122.2,-26.1 1122.5,-24.4 1122.9,-22.5 1123.2,-20.6 1123.5,-18.7 1123.8,-16.7 1124.1,-14.6 1124.4,-12.5 1124.7,-10.4 1124.9,-8.3 1125.2,-6.1 1125.5,-3.9 1125.7,-1.7 1126.0,0.5 1126.2,2.7 1126.4,4.9 1126.7,7.1 1126.9,9.3 1127.2,11.5 1127.4,13.7 1127.6,15.8 1127.9,17.9 1128.1,20.0 1128.4,22.0 1128.6,24.0 1128.9,25.9 1129.2,27.8 1129.4,29.6 1129.8,31.9 1130.1,34.1 1130.5,36.4 1130.9,38.6 1131.2,40.8 1131.6,42.9 1132.0,45.0 1132.3,47.2 1132.7,49.2 1133.0,51.3 1133.4,53.3 1133.8,55.4 1134.1,57.3 1134.4,59.3 1134.8,61.3 1135.1,63.2 1135.4,65.1 1135.7,67.0 1136.0,68.9 1136.4,71.1 1136.7,73.3 1137.0,75.4 1137.4,77.5 1137.7,79.5 1138.0,81.5 1138.3,83.5 1138.6,85.5 1138.9,87.5 1139.1,89.5 1139.4,91.4 1139.6,93.5 1139.8,95.5 1140.0,97.5 1140.2,99.5 1140.3,101.5 1140.4,103.6 1140.6,105.6 1140.6,107.6 1140.7,109.6 1140.8,111.6 1140.9,113.6 1141.0,115.7 1141.2,117.7 1141.3,119.7 1141.5,121.7 1141.7,123.7 1141.9,125.7 1142.1,127.7 1142.3,129.7 1142.6,131.7 1142.8,133.7 1143.1,135.7 1143.4,137.7 1143.6,139.7 1143.9,141.8 1144.2,143.8 1144.5,145.8 1144.8,147.8 1145.1,149.8 1145.4,151.8 1145.7,153.8 1146.0,155.8 1146.3,157.8 1146.6,159.8 1146.9,161.8 1147.3,163.8 1147.6,165.8 1148.0,167.8 1148.4,169.8 1148.8,171.8 1149.2,173.8 1149.5,175.8 1149.9,177.8 1150.3,179.8 1150.7,181.9 1151.1,183.9 1151.5,185.9 1151.9,188.0 1152.4,190.0 1152.8,191.9 1153.4,193.9 1154.0,195.8 1154.6,197.7 1155.3,199.5 1156.1,201.5 1156.9,203.5 1157.8,205.5 1158.7,207.4 1159.6,209.3 1160.7,211.2 1161.8,213.0 1162.9,214.7 1164.2,216.4 1165.6,217.9 1167.1,219.3 1168.5,220.5 1170.0,221.6 1171.6,222.6 1173.2,223.5 1174.9,224.4 1176.7,225.2 1178.6,225.9 1180.5,226.6 1182.4,227.3 1184.4,228.0 1186.5,228.6 1188.6,229.2 1190.8,229.8 1193.0,230.3 1194.7,230.7 1196.4,231.1 1198.1,231.5 1199.9,231.8 1201.7,232.1 1203.5,232.4 1205.3,232.7 1207.2,232.9 1209.1,233.1 1211.1,233.4 1213.0,233.5 1215.0,233.7 1217.1,233.9 1219.1,234.1 1221.2,234.2 1223.4,234.3 1225.5,234.5 1227.7,234.6 1230.0,234.8 1232.2,234.9 1234.6,235.0 1236.9,235.2 1239.3,235.3 1241.8,235.5 1244.2,235.6 1246.7,235.8 1249.2,236.0 1251.8,236.1 1254.5,236.2 1257.2,236.4 1259.9,236.5 1262.7,236.6 1265.6,236.8 1268.5,236.9 1271.4,237.0 1274.4,237.1 1277.5,237.2 1280.5,237.3 1283.6,237.4 1286.8,237.5 1290.0,237.6 1293.1,237.7 1296.4,237.8 1299.6,237.8 1302.9,237.9 1306.1,238.0 1309.4,238.1 1312.7,238.2 1316.1,238.2 1319.4,238.3 1322.7,238.4 1326.0,238.5 1329.3,238.5 1332.7,238.6 1336.0,238.7 1339.3,238.8 1342.6,238.8 1345.9,238.9 1349.1,239.0 1352.4,239.1 1355.6,239.2 1358.8,239.3 1362.0,239.4 1365.1,239.4 1368.2,239.5" stroke="#0A5ADC" stroke-dasharray="3.2 18.5"/>
<path d="M820.0,104.0 820.1,106.1 820.2,108.2 820.3,110.3 820.4,112.4 820.5,114.6 820.6,116.7 820.7,118.8 820.8,120.9 820.9,123.0 821.1,125.1 821.2,127.3 821.3,129.4 821.4,131.5 821.5,133.7 821.6,135.9 821.7,137.9 821.8,140.0 821.9,142.0 821.9,144.1 822.0,146.2 822.1,148.3 822.2,150.4 822.2,152.5 822.3,154.6 822.4,156.7 822.5,158.9 822.6,161.0 822.7,163.0 822.8,165.1 822.9,167.2 823.1,169.3 823.2,171.3 823.4,173.4 823.6,175.5 823.8,177.5 824.1,179.6 824.3,181.6 824.5,183.6 824.8,185.7 825.1,187.7 825.3,189.7 825.6,191.7 825.8,193.8 826.1,195.8 826.4,197.8 826.6,199.8 826.8,201.9 827.1,203.9 827.3,206.0 827.5,208.0 827.7,210.1 827.9,212.2 828.2,214.3 828.4,216.4 828.6,218.4 828.8,220.5 829.0,222.6 829.2,224.7 829.4,226.7 829.6,228.8 829.8,230.8 830.0,232.9 830.2,234.9 830.4,236.9 830.6,239.0 830.8,241.2 830.9,243.4 831.1,245.5 831.3,247.7 831.5,249.8 831.7,252.0 831.9,254.1 832.1,256.1 832.3,258.2 832.5,260.2 832.7,262.2 832.9,264.1 833.2,265.9 833.5,268.2 833.8,270.4 834.1,272.6 834.3,274.7 834.6,276.8 835.0,278.8 835.5,280.7 836.2,282.6 836.9,284.4 837.9,286.2 839.1,288.0 840.3,289.7 841.7,291.4 843.2,292.9 844.7,294.4 846.3,295.7 847.9,296.8 849.6,297.8 851.4,298.6 853.2,299.2 855.2,299.7 857.3,300.1 859.6,300.5 862.1,300.9 863.6,301.0 865.1,301.2 866.8,301.3 868.5,301.4 870.3,301.4 872.2,301.5 874.1,301.5 876.1,301.5 878.2,301.4 880.3,301.4 882.4,301.3 884.6,301.3 886.8,301.2 889.1,301.1 891.3,301.0 893.6,300.9 895.9,300.8 898.1,300.7 900.4,300.6 902.7,300.5 904.9,300.3 907.1,300.2 909.3,300.1 911.5,300.1 913.6,300.0 915.7,299.9 917.7,299.8 919.8,299.7 922.0,299.6 924.1,299.6 926.3,299.5 928.5,299.4 930.7,299.3 932.9,299.2 935.1,299.1 937.3,299.0 939.4,298.9 941.6,298.8 943.8,298.7 946.0,298.5 948.1,298.4 950.2,298.3 952.3,298.2 954.4,298.0 956.4,297.9 958.4,297.7 960.4,297.6 962.3,297.4 964.2,297.3 966.0,297.1 967.8,297.0 969.5,296.8 971.9,296.5 974.1,296.3 976.4,296.0 978.5,295.8 980.6,295.5 982.7,295.2 984.7,294.9 986.6,294.6 988.5,294.3 990.4,293.9 992.2,293.6 994.0,293.1 995.8,292.7 998.0,292.1 1000.2,291.4 1002.3,290.6 1004.3,289.9 1006.3,289.1 1008.2,288.2 1010.2,287.4 1012.2,286.5 1014.1,285.7 1015.9,284.9 1017.8,284.1 1019.7,283.2 1021.6,282.3 1023.4,281.4 1025.2,280.4 1027.0,279.3 1028.6,278.2 1030.3,276.9 1032.0,275.5 1033.5,274.0 1035.1,272.4 1036.6,270.8 1038.1,269.2 1039.5,267.5 1041.0,265.7 1042.4,264.0 1043.7,262.4 1045.0,260.9 1046.2,259.3 1047.5,257.7 1048.7,256.1 1049.9,254.4 1051.1,252.7 1052.3,250.9 1053.4,249.0 1054.5,247.1 1055.6,245.0 1056.4,243.5 1057.1,241.8 1057.9,240.1 1058.6,238.3 1059.3,236.4 1060.0,234.5 1060.7,232.5 1061.4,230.5 1062.0,228.5 1062.7,226.5 1063.3,224.4 1064.0,222.4 1064.6,220.3 1065.2,218.3 1065.8,216.3 1066.4,214.4 1067.0,212.5 1067.5,210.6 1068.1,208.8 1068.6,207.1 1069.3,205.0 1070.0,203.0 1070.6,201.0 1071.2,199.2 1071.7,197.3 1072.3,195.5 1072.9,193.7 1073.4,191.8 1074.0,189.9 1074.5,187.8 1075.1,185.7 1075.8,183.4 1076.2,181.7 1076.6,180.0 1077.1,178.3 1077.6,176.4 1078.0,174.6 1078.5,172.7 1079.0,170.7 1079.5,168.7 1080.0,166.7 1080.5,164.7 1081.0,162.6 1081.5,160.5 1082.0,158.4 1082.5,156.3 1083.0,154.1 1083.5,152.0 1083.9,149.8 1084.4,147.7 1084.9,145.6 1085.3,143.4 1085.8,141.3 1086.2,139.2 1086.6,137.2 1087.0,135.1 1087.4,133.1 1087.8,131.1 1088.2,129.0 1088.5,127.0 1088.9,125.0 1089.2,123.0 1089.5,121.0 1089.8,119.1 1090.1,117.2 1090.4,115.3 1090.6,113.3 1090.9,111.4 1091.2,109.5 1091.4,107.5 1091.7,105.6 1091.9,103.6 1092.2,101.6 1092.4,99.5 1092.7,97.4 1092.9,95.3 1093.2,93.1 1093.5,90.8 1093.8,88.5 1094.1,86.1 1094.4,83.6 1094.7,81.3 1095.0,79.0 1095.2,76.6 1095.5,74.2 1095.8,71.7 1096.2,69.2 1096.5,66.6 1096.8,64.0 1097.1,61.3 1097.4,58.6 1097.7,55.9 1098.1,53.1 1098.4,50.3 1098.7,47.5 1099.1,44.6 1099.4,41.7 1099.7,38.8 1100.1,35.9 1100.4,32.9 1100.8,29.9 1101.1,26.9 1101.4,23.9 1101.8,20.8 1102.1,17.8 1102.5,14.8 1102.8,11.7 1103.2,8.6 1103.5,5.6 1103.9,2.5 1104.2,-0.6 1104.5,-3.6 1104.9,-6.7 1105.2,-9.7 1105.5,-12.8 1105.9,-15.8 1106.2,-18.8 1106.5,-21.8 1106.9,-24.8 1107.2,-27.7 1107.5,-30.7 1107.9,-33.8 1108.2,-36.9 1108.5,-40.0 1108.9,-43.1 1109.2,-46.2 1109.5,-49.4 1109.9,-52.5 1110.2,-55.7 1110.5,-58.9 1110.9,-62.0 1111.2,-65.2 1111.5,-68.4 1111.9,-71.6 1112.2,-74.8 1112.5,-78.0 1112.8,-81.2 1113.2,-84.4 1113.5,-87.7 1113.8,-90.9 1114.2,-94.1 1114.5,-97.3 1114.8,-100.5 1115.1,-103.7 1115.5,-106.9 1115.8,-110.1 1116.1,-113.2 1116.4,-116.4 1116.8,-119.6 1117.1,-122.7 1117.4,-125.9 1117.7,-129.0 1118.1,-132.1 1118.4,-135.2 1118.7,-138.3 1119.0,-141.4 1119.4,-144.5 1119.7,-147.5 1120.0,-150.5 1120.3,-153.5 1120.7,-156.5 1121.0,-159.2 1121.2,-162.0 1121.5,-164.9 1121.8,-167.9 1122.1,-171.0 1122.4,-174.2 1122.6,-177.4 1122.9,-180.6 1123.2,-183.9 1123.5,-187.2 1123.7,-190.5 1124.0,-193.9 1124.3,-197.2 1124.6,-200.6 1124.8,-203.9 1125.1,-207.2 1125.4,-210.5 1125.6,-213.8 1125.9,-217.0 1126.2,-220.1 1126.5,-223.2 1126.7,-226.2 1127.0,-229.1 1127.3,-232.0 1127.6,-234.7 1127.9,-237.3 1128.2,-239.8 1128.4,-242.2 1128.7,-244.4 1129.0,-246.5 1129.3,-248.4 1129.6,-250.2 1129.9,-251.8 1130.2,-253.2 1130.5,-254.5 1130.9,-255.5 1131.2,-256.3 1131.5,-257.0 1131.8,-257.3 1132.2,-257.5 1132.9,-257.2 1133.6,-256.0 1134.4,-254.3 1135.2,-252.1 1135.9,-249.6 1136.7,-246.9 1137.4,-244.2 1138.0,-241.6 1138.3,-240.0 1138.6,-238.4 1138.9,-236.7 1139.2,-235.0 1139.5,-233.2 1139.7,-231.4 1139.9,-229.5 1140.2,-227.6 1140.4,-225.6 1140.5,-223.6 1140.7,-221.6 1140.9,-219.5 1141.1,-217.3 1141.2,-215.1 1141.4,-212.8 1141.6,-210.5 1141.8,-208.2 1142.0,-205.8 1142.2,-203.3 1142.4,-200.8 1142.5,-198.7 1142.7,-196.5 1142.9,-194.3 1143.0,-192.0 1143.2,-189.7 1143.4,-187.3 1143.5,-184.8 1143.7,-182.3 1143.9,-179.8 1144.0,-177.2 1144.2,-174.6 1144.3,-171.9 1144.5,-169.2 1144.7,-166.5 1144.8,-163.7 1145.0,-161.0 1145.1,-158.1 1145.3,-155.3 1145.5,-152.4 1145.6,-149.5 1145.8,-146.6 1145.9,-143.7 1146.1,-140.8 1146.2,-137.8 1146.4,-134.9 1146.5,-131.9 1146.7,-128.9 1146.9,-126.0 1147.0,-123.0 1147.2,-120.0 1147.3,-117.0 1147.5,-114.1 1147.6,-111.1 1147.8,-108.2 1147.9,-105.3 1148.1,-102.4 1148.2,-99.5 1148.4,-96.6 1148.6,-93.8 1148.7,-90.9 1148.9,-88.0 1149.0,-85.0 1149.2,-81.9 1149.4,-78.9 1149.5,-75.8 1149.7,-72.6 1149.9,-69.5 1150.1,-66.3 1150.2,-63.1 1150.4,-59.9 1150.6,-56.7 1150.8,-53.4 1150.9,-50.2 1151.1,-47.0 1151.3,-43.7 1151.5,-40.5 1151.6,-37.2 1151.8,-34.0 1152.0,-30.8 1152.1,-27.6 1152.3,-24.4 1152.5,-21.2 1152.6,-18.0 1152.8,-14.9 1153.0,-11.8 1153.1,-8.7 1153.3,-5.7 1153.5,-2.7 1153.6,0.3 1153.8,3.2 1153.9,6.1 1154.1,8.9 1154.2,11.7 1154.4,14.5 1154.5,17.1 1154.7,19.7 1154.8,22.3 1154.9,24.8 1155.0,27.2 1155.2,29.6 1155.3,32.0 1155.4,34.4 1155.6,36.8 1155.7,39.1 1155.8,41.3 1155.9,43.4 1156.0,45.6 1156.1,47.6 1156.2,49.7 1156.3,51.7 1156.4,53.6 1156.5,55.6 1156.6,57.5 1156.7,59.4 1156.8,61.3 1156.9,63.2 1157.0,65.1 1157.1,66.9 1157.2,68.8 1157.3,70.7 1157.4,72.6 1157.6,74.6 1157.7,76.5 1157.8,78.6 1158.0,80.7 1158.2,82.7 1158.3,84.7 1158.5,86.7 1158.6,88.7 1158.8,90.6 1159.0,92.6 1159.2,94.6 1159.3,96.5 1159.5,98.5 1159.7,100.5 1159.9,102.5 1160.1,104.5 1160.3,106.5 1160.4,108.5 1160.6,110.6 1160.8,112.7 1161.0,114.8 1161.2,116.9 1161.4,118.8 1161.5,120.7 1161.7,122.7 1161.8,124.7 1162.0,126.8 1162.2,128.8 1162.3,130.9 1162.5,133.1 1162.6,135.2 1162.8,137.3 1163.0,139.5 1163.1,141.6 1163.3,143.8 1163.4,145.9 1163.6,148.1 1163.8,150.2 1164.0,152.3 1164.1,154.4 1164.3,156.4 1164.5,158.4 1164.7,160.4 1164.9,162.4 1165.1,164.3 1165.3,166.1 1165.5,167.9 1165.7,169.6 1165.9,171.3 1166.2,173.7 1166.5,175.9 1166.8,178.1 1167.0,180.2 1167.3,182.2 1167.6,184.2 1167.9,186.1 1168.3,188.0 1168.6,189.9 1169.0,191.8 1169.5,193.7 1170.0,195.6 1170.6,197.5 1171.3,199.6 1172.0,201.6 1172.7,203.8 1173.4,205.9 1174.2,208.0 1175.0,210.1 1175.9,212.2 1176.9,214.2 1177.9,216.1 1178.9,217.9 1180.1,219.6 1181.3,221.1 1182.6,222.5 1184.1,223.9 1185.8,225.1 1187.5,226.2 1189.3,227.1 1191.2,228.0 1193.2,228.7 1195.2,229.4 1197.3,230.0 1199.5,230.6 1201.7,231.2 1203.5,231.6 1205.2,232.0 1206.9,232.3 1208.7,232.6 1210.5,232.8 1212.3,233.0 1214.2,233.2 1216.2,233.4 1218.1,233.5 1220.2,233.6 1222.3,233.7 1224.5,233.8 1226.8,233.9 1229.1,234.0 1231.6,234.1 1234.1,234.2 1236.8,234.4 1239.1,234.5 1241.5,234.7 1244.0,234.8 1246.5,234.9 1249.2,235.1 1252.0,235.2 1254.8,235.3 1257.7,235.4 1260.7,235.5 1263.8,235.6 1266.9,235.8 1270.1,235.9 1273.3,236.0 1276.6,236.1 1279.9,236.2 1283.3,236.3 1286.8,236.4 1290.2,236.5 1293.7,236.6 1297.3,236.7 1300.8,236.8 1304.4,236.9 1308.0,237.0 1311.6,237.1 1315.3,237.2 1318.9,237.3 1322.5,237.4 1326.2,237.5 1329.8,237.6 1333.4,237.7 1337.0,237.7 1340.6,237.8 1344.2,237.9 1347.7,238.0 1351.2,238.1 1354.7,238.2 1358.2,238.3 1361.6,238.4 1364.9,238.6 1368.2,238.7" stroke="#2EA866" stroke-dasharray="19 12.3 2.4 12.5"/>
<path d="M820.0,100.4 820.1,102.6 820.2,104.7 820.4,106.8 820.5,108.9 820.6,111.1 820.8,113.3 820.9,115.7 821.0,118.2 821.1,119.9 821.2,121.8 821.3,123.7 821.4,125.7 821.5,127.7 821.6,129.8 821.7,131.9 821.7,134.0 821.8,136.2 821.9,138.4 822.0,140.6 822.1,142.8 822.2,145.0 822.3,147.2 822.4,149.4 822.6,151.5 822.7,153.6 822.8,155.7 823.0,157.7 823.1,159.8 823.3,161.8 823.4,163.8 823.6,165.8 823.7,167.8 823.9,169.8 824.1,171.8 824.2,173.9 824.4,175.9 824.6,178.0 824.8,180.1 824.9,182.3 825.1,184.5 825.3,186.7 825.4,189.0 825.6,190.8 825.7,192.7 825.8,194.6 825.9,196.5 826.0,198.4 826.1,200.4 826.2,202.4 826.4,204.4 826.5,206.4 826.6,208.5 826.7,210.5 826.8,212.6 826.9,214.7 827.0,216.8 827.1,218.9 827.3,221.0 827.4,223.1 827.5,225.2 827.6,227.3 827.8,229.4 827.9,231.4 828.1,233.5 828.2,235.5 828.4,237.6 828.5,239.6 828.7,241.5 828.9,243.5 829.0,245.4 829.3,247.6 829.5,249.8 829.7,252.0 829.9,254.2 830.1,256.4 830.3,258.6 830.5,260.9 830.7,263.1 830.9,265.3 831.2,267.5 831.4,269.6 831.7,271.7 831.9,273.8 832.2,275.9 832.5,277.9 832.8,279.9 833.1,281.8 833.5,283.7 833.8,285.5 834.2,287.3 834.6,289.0 835.1,290.6 835.7,292.9 836.4,295.1 837.2,297.2 837.9,299.2 838.7,301.2 839.6,303.0 840.5,304.7 841.4,306.3 842.4,307.8 843.5,309.2 845.3,311.0 847.2,312.5 849.3,313.8 851.3,314.8 853.4,315.7 855.4,316.5 857.3,316.9 859.4,317.2 862.1,317.5 863.4,317.6 864.7,317.7 866.3,317.8 867.9,317.8 869.6,317.8 871.5,317.9 873.4,317.9 875.4,317.9 877.5,317.8 879.6,317.8 881.9,317.8 884.1,317.7 886.4,317.7 888.8,317.6 891.1,317.6 893.5,317.5 895.9,317.4 898.2,317.3 900.6,317.3 902.9,317.2 905.3,317.1 907.5,317.0 909.8,316.9 911.9,316.9 914.0,316.8 916.1,316.7 918.0,316.6 920.2,316.5 922.3,316.5 924.5,316.4 926.6,316.3 928.7,316.2 930.7,316.1 932.8,316.1 934.8,316.0 936.9,315.9 938.9,315.8 940.9,315.7 942.9,315.5 944.8,315.4 946.8,315.3 948.8,315.2 950.7,315.0 952.7,314.9 954.6,314.7 956.6,314.5 958.5,314.3 960.7,314.1 962.8,313.9 965.0,313.7 967.1,313.5 969.3,313.3 971.4,313.0 973.6,312.8 975.7,312.5 977.8,312.3 979.9,312.0 981.9,311.7 984.0,311.3 986.0,311.0 987.9,310.6 989.9,310.2 991.8,309.7 993.6,309.2 995.7,308.5 997.8,307.8 999.8,307.1 1001.8,306.3 1003.7,305.4 1005.6,304.5 1007.5,303.7 1009.3,302.7 1011.2,301.8 1013.0,300.8 1014.8,299.9 1016.6,298.9 1018.5,297.9 1020.4,296.9 1022.4,295.8 1024.3,294.8 1026.2,293.7 1028.0,292.6 1029.8,291.5 1031.6,290.3 1033.2,289.1 1034.8,287.8 1036.3,286.5 1037.8,285.0 1039.2,283.4 1040.5,281.8 1041.6,280.2 1042.8,278.5 1043.9,276.7 1045.0,274.9 1046.1,273.1 1047.3,271.3 1048.3,269.6 1049.3,268.0 1050.4,266.2 1051.4,264.5 1052.5,262.7 1053.5,260.9 1054.5,259.1 1055.5,257.3 1056.5,255.4 1057.5,253.6 1058.4,251.7 1059.3,249.8 1060.2,247.9 1061.0,246.1 1061.9,244.2 1062.7,242.3 1063.4,240.4 1064.2,238.5 1064.9,236.6 1065.7,234.6 1066.4,232.6 1067.1,230.5 1067.9,228.3 1068.6,226.1 1069.2,224.4 1069.7,222.7 1070.3,220.9 1070.9,219.0 1071.4,217.1 1072.0,215.2 1072.6,213.3 1073.2,211.3 1073.8,209.3 1074.3,207.2 1074.9,205.2 1075.4,203.2 1076.0,201.1 1076.5,199.1 1077.0,197.0 1077.5,195.0 1078.0,193.0 1078.5,191.0 1078.9,189.0 1079.4,187.1 1079.8,185.2 1080.1,183.4 1080.5,181.2 1080.9,179.2 1081.2,177.1 1081.5,175.1 1081.7,173.1 1082.0,171.2 1082.2,169.2 1082.4,167.3 1082.6,165.3 1082.8,163.3 1082.9,161.3 1083.2,159.3 1083.4,157.3 1083.6,155.1 1083.9,153.0 1084.2,150.8 1084.4,148.9 1084.7,147.1 1085.0,145.1 1085.3,143.1 1085.6,141.1 1085.9,139.1 1086.2,137.0 1086.6,134.9 1086.9,132.8 1087.2,130.6 1087.6,128.5 1087.9,126.3 1088.2,124.2 1088.6,122.1 1088.9,119.9 1089.3,117.8 1089.6,115.7 1090.0,113.7 1090.3,111.6 1090.6,109.7 1090.9,107.7 1091.3,105.8 1091.6,104.0 1091.9,102.2 1092.2,100.4 1092.6,98.2 1093.0,96.0 1093.4,94.0 1093.8,92.1 1094.1,90.2 1094.5,88.4 1094.9,86.5 1095.2,84.7 1095.6,82.7 1096.0,80.7 1096.4,78.6 1096.7,76.3 1097.1,73.9 1097.3,72.3 1097.6,70.8 1097.8,69.2 1098.0,67.5 1098.2,65.8 1098.5,64.1 1098.7,62.4 1098.9,60.7 1099.1,58.9 1099.4,57.0 1099.6,55.2 1099.8,53.3 1100.0,51.4 1100.3,49.5 1100.5,47.5 1100.7,45.5 1100.9,43.5 1101.2,41.5 1101.4,39.4 1101.6,37.3 1101.9,35.2 1102.1,33.1 1102.3,30.9 1102.5,28.8 1102.8,26.6 1103.0,24.4 1103.2,22.1 1103.5,19.9 1103.7,17.6 1103.9,15.3 1104.2,13.0 1104.4,10.7 1104.6,8.3 1104.9,6.0 1105.1,3.6 1105.3,1.2 1105.6,-2.0 1106.0,-5.2 1106.3,-8.5 1106.6,-11.9 1106.9,-15.3 1107.2,-18.8 1107.6,-22.3 1107.9,-25.9 1108.2,-29.5 1108.6,-33.2 1108.9,-36.9 1109.2,-40.7 1109.6,-44.5 1109.9,-48.4 1110.3,-52.2 1110.6,-56.1 1110.9,-60.1 1111.3,-64.1 1111.6,-68.0 1112.0,-72.1 1112.3,-76.1 1112.6,-80.1 1113.0,-84.2 1113.3,-88.3 1113.7,-92.4 1114.0,-96.4 1114.3,-100.5 1114.7,-104.6 1115.0,-108.7 1115.3,-112.8 1115.7,-116.9 1116.0,-121.0 1116.3,-125.0 1116.6,-129.1 1116.9,-133.1 1117.3,-137.1 1117.6,-141.1 1117.9,-145.1 1118.2,-149.0 1118.5,-153.0 1118.8,-156.9 1119.1,-160.9 1119.4,-164.9 1119.7,-168.9 1120.0,-172.9 1120.2,-176.9 1120.5,-180.9 1120.8,-184.9 1121.1,-188.9 1121.4,-192.9 1121.6,-196.9 1121.9,-200.9 1122.2,-204.9 1122.4,-208.9 1122.7,-212.9 1123.0,-216.9 1123.2,-220.9 1123.5,-224.9 1123.8,-229.0 1124.0,-233.0 1124.3,-237.0 1124.5,-241.0 1124.8,-245.1 1125.1,-249.1 1125.3,-253.1 1125.6,-257.2 1125.9,-261.2 1126.1,-265.3 1126.4,-269.3 1126.6,-273.4 1126.9,-277.5 1127.2,-281.5 1127.5,-285.6 1127.7,-289.7 1128.0,-293.7 1128.3,-297.8 1128.6,-301.9 1128.9,-306.0 1129.1,-310.1 1129.4,-314.2 1129.7,-318.6 1130.0,-323.2 1130.3,-327.9 1130.7,-332.9 1131.0,-338.0 1131.3,-343.2 1131.6,-348.6 1131.9,-354.1 1132.2,-359.6 1132.5,-365.3 1132.8,-371.0 1133.2,-376.8 1133.5,-382.5 1133.8,-388.3 1134.1,-394.1 1134.4,-399.8 1134.8,-405.6 1135.1,-411.2 1135.4,-416.8 1135.7,-422.3 1136.1,-427.7 1136.4,-433.0 1136.7,-438.1 1137.0,-443.1 1137.4,-447.9 1137.7,-452.5 1138.0,-456.9 1138.4,-461.0 1138.7,-465.0 1139.0,-468.7 1139.4,-472.1 1139.7,-475.2 1140.0,-478.0 1140.4,-480.5 1140.7,-482.7 1141.0,-484.5 1141.4,-485.9 1141.7,-487.0 1142.0,-487.6 1142.4,-487.9 1142.6,-487.8 1142.9,-487.4 1143.1,-486.8 1143.4,-486.1 1143.7,-485.1 1143.9,-483.9 1144.2,-482.6 1144.5,-481.1 1144.7,-479.4 1145.0,-477.6 1145.3,-475.7 1145.6,-473.6 1145.8,-471.4 1146.1,-469.2 1146.4,-466.8 1146.7,-464.3 1146.9,-461.8 1147.2,-459.2 1147.5,-456.6 1147.7,-453.9 1148.0,-451.3 1148.3,-448.5 1148.5,-445.8 1148.8,-443.1 1149.0,-440.4 1149.3,-437.8 1149.5,-435.2 1149.7,-432.6 1150.0,-430.1 1150.2,-427.6 1150.4,-425.3 1150.6,-423.0 1150.8,-420.8 1151.0,-418.8 1151.2,-416.7 1151.4,-414.6 1151.6,-412.6 1151.8,-410.6 1151.9,-408.6 1152.1,-406.7 1152.2,-404.7 1152.4,-402.8 1152.5,-400.9 1152.7,-399.0 1152.8,-397.1 1152.9,-395.2 1153.1,-393.3 1153.2,-391.3 1153.3,-389.4 1153.4,-387.5 1153.6,-385.5 1153.7,-383.6 1153.8,-381.6 1153.9,-379.6 1154.0,-377.5 1154.1,-375.4 1154.2,-373.3 1154.4,-371.2 1154.5,-369.0 1154.6,-366.8 1154.7,-364.5 1154.8,-362.2 1154.9,-359.9 1155.1,-357.4 1155.2,-355.0 1155.3,-351.9 1155.5,-348.8 1155.6,-345.5 1155.8,-342.2 1155.9,-338.9 1156.1,-335.4 1156.2,-331.9 1156.3,-328.4 1156.5,-324.8 1156.6,-321.1 1156.7,-317.3 1156.9,-313.6 1157.0,-309.7 1157.1,-305.9 1157.3,-301.9 1157.4,-298.0 1157.5,-294.0 1157.7,-290.0 1157.8,-286.0 1157.9,-281.9 1158.1,-277.8 1158.2,-273.7 1158.3,-269.6 1158.4,-265.5 1158.6,-261.4 1158.7,-257.2 1158.8,-253.1 1159.0,-249.0 1159.1,-244.8 1159.2,-240.7 1159.3,-236.6 1159.5,-232.5 1159.6,-228.5 1159.7,-224.4 1159.9,-220.4 1160.0,-216.4 1160.1,-212.4 1160.3,-208.5 1160.4,-204.6 1160.5,-200.8 1160.7,-197.0 1160.8,-193.2 1161.0,-189.4 1161.1,-185.6 1161.2,-181.8 1161.4,-177.9 1161.5,-174.0 1161.6,-170.2 1161.8,-166.3 1161.9,-162.4 1162.1,-158.5 1162.2,-154.6 1162.3,-150.6 1162.5,-146.7 1162.6,-142.8 1162.8,-138.9 1162.9,-135.0 1163.1,-131.2 1163.2,-127.3 1163.3,-123.4 1163.5,-119.6 1163.6,-115.8 1163.8,-112.0 1163.9,-108.2 1164.0,-104.4 1164.2,-100.7 1164.3,-96.9 1164.4,-93.3 1164.6,-89.6 1164.7,-86.0 1164.9,-82.4 1165.0,-78.8 1165.1,-75.3 1165.3,-71.8 1165.4,-68.4 1165.5,-65.0 1165.6,-61.7 1165.8,-58.4 1165.9,-55.1 1166.0,-52.0 1166.1,-49.6 1166.2,-47.3 1166.3,-45.0 1166.4,-42.8 1166.5,-40.5 1166.6,-38.3 1166.6,-36.1 1166.7,-33.9 1166.8,-31.7 1166.9,-29.6 1167.0,-27.4 1167.1,-25.3 1167.2,-23.2 1167.2,-21.1 1167.3,-19.1 1167.4,-17.0 1167.5,-15.0 1167.6,-12.9 1167.7,-10.9 1167.7,-8.9 1167.8,-6.9 1167.9,-4.9 1168.0,-3.0 1168.1,-1.0 1168.2,1.0 1168.2,2.9 1168.3,4.8 1168.4,6.8 1168.5,8.7 1168.6,10.6 1168.7,12.5 1168.7,14.4 1168.8,16.3 1168.9,18.2 1169.0,20.1 1169.1,22.0 1169.2,23.9 1169.2,25.8 1169.3,27.7 1169.4,29.6 1169.5,31.7 1169.6,33.9 1169.7,36.0 1169.8,38.1 1169.9,40.2 1170.0,42.3 1170.1,44.4 1170.3,46.5 1170.4,48.6 1170.5,50.6 1170.6,52.7 1170.7,54.7 1170.8,56.7 1170.9,58.7 1171.0,60.8 1171.1,62.8 1171.2,64.7 1171.3,66.7 1171.4,68.7 1171.5,70.7 1171.6,72.6 1171.7,74.6 1171.8,76.5 1171.9,78.4 1172.0,80.3 1172.1,82.2 1172.2,84.2 1172.3,86.0 1172.4,87.9 1172.5,89.8 1172.6,91.9 1172.7,94.1 1172.7,96.2 1172.8,98.3 1172.9,100.4 1173.0,102.5 1173.0,104.6 1173.1,106.6 1173.2,108.7 1173.2,110.7 1173.3,112.7 1173.4,114.8 1173.4,116.8 1173.5,118.8 1173.6,120.7 1173.6,122.7 1173.7,124.6 1173.8,126.5 1173.9,128.4 1173.9,130.3 1174.0,132.2 1174.1,134.1 1174.2,135.9 1174.4,138.2 1174.5,140.5 1174.7,142.7 1174.8,144.9 1175.0,147.1 1175.2,149.2 1175.4,151.4 1175.5,153.5 1175.7,155.6 1175.9,157.6 1176.1,159.7 1176.2,161.7 1176.4,163.8 1176.6,165.8 1176.8,167.8 1176.9,170.0 1177.1,172.2 1177.2,174.5 1177.3,176.7 1177.5,178.9 1177.6,181.0 1177.8,183.2 1177.9,185.2 1178.1,187.3 1178.4,189.2 1178.6,191.1 1178.9,192.9 1179.4,195.2 1180.0,197.3 1180.6,199.3 1181.2,201.3 1181.9,203.1 1182.6,205.0 1183.2,206.8 1184.0,208.8 1184.7,210.8 1185.4,212.7 1186.2,214.6 1187.3,216.5 1188.2,218.2 1189.1,220.0 1190.1,221.7 1191.2,223.5 1192.6,225.1 1194.2,226.7 1196.3,228.0 1197.4,228.6 1198.6,229.1 1199.9,229.6 1201.3,230.0 1202.8,230.4 1204.4,230.8 1206.0,231.1 1207.7,231.4 1209.5,231.7 1211.4,231.9 1213.3,232.2 1215.3,232.3 1217.3,232.5 1219.4,232.7 1221.5,232.8 1223.7,232.9 1225.9,233.0 1228.1,233.1 1230.4,233.2 1232.7,233.3 1235.0,233.4 1237.3,233.5 1239.7,233.6 1242.0,233.7 1244.4,233.8 1246.7,233.9 1249.1,234.0 1251.4,234.1 1253.8,234.2 1256.1,234.4 1258.5,234.6 1260.9,234.7 1263.4,234.9 1265.9,235.0 1268.4,235.2 1271.0,235.3 1273.6,235.5 1276.3,235.6 1278.9,235.7 1281.6,235.8 1284.4,235.9 1287.1,236.1 1289.9,236.2 1292.7,236.3 1295.6,236.4 1298.4,236.5 1301.3,236.6 1304.2,236.7 1307.1,236.8 1310.0,236.9 1312.9,236.9 1315.8,237.0 1318.7,237.1 1321.7,237.2 1324.6,237.3 1327.6,237.4 1330.5,237.5 1333.5,237.5 1336.4,237.6 1339.4,237.7 1342.3,237.8 1345.3,237.9 1348.2,238.0 1351.1,238.1 1354.0,238.2 1356.9,238.3 1359.7,238.4 1362.6,238.4 1365.4,238.6 1368.2,238.7" stroke="#A967E0" stroke-dasharray="13.7 11.8 2.7 12 2.7 12.1"/>
</g>
<rect x="820.5" y="65.0" width="438.20000000000005" height="354.4" fill="none" stroke="#222" stroke-width="1.6"/>
<line x1="813.50" y1="65.00" x2="820.50" y2="65.00" stroke="#222" stroke-width="1.6" />
<line x1="817.00" y1="109.30" x2="820.50" y2="109.30" stroke="#222" stroke-width="1.6" />
<line x1="813.50" y1="153.60" x2="820.50" y2="153.60" stroke="#222" stroke-width="1.6" />
<line x1="817.00" y1="197.90" x2="820.50" y2="197.90" stroke="#222" stroke-width="1.6" />
<line x1="813.50" y1="242.20" x2="820.50" y2="242.20" stroke="#222" stroke-width="1.6" />
<line x1="817.00" y1="286.50" x2="820.50" y2="286.50" stroke="#222" stroke-width="1.6" />
<line x1="813.50" y1="330.80" x2="820.50" y2="330.80" stroke="#222" stroke-width="1.6" />
<line x1="817.00" y1="375.10" x2="820.50" y2="375.10" stroke="#222" stroke-width="1.6" />
<line x1="813.50" y1="419.40" x2="820.50" y2="419.40" stroke="#222" stroke-width="1.6" />
<line x1="820.50" y1="419.40" x2="820.50" y2="426.40" stroke="#222" stroke-width="1.6" />
<line x1="875.27" y1="419.40" x2="875.27" y2="422.90" stroke="#222" stroke-width="1.6" />
<line x1="930.05" y1="419.40" x2="930.05" y2="426.40" stroke="#222" stroke-width="1.6" />
<line x1="984.83" y1="419.40" x2="984.83" y2="422.90" stroke="#222" stroke-width="1.6" />
<line x1="1039.60" y1="419.40" x2="1039.60" y2="426.40" stroke="#222" stroke-width="1.6" />
<line x1="1094.38" y1="419.40" x2="1094.38" y2="422.90" stroke="#222" stroke-width="1.6" />
<line x1="1149.15" y1="419.40" x2="1149.15" y2="426.40" stroke="#222" stroke-width="1.6" />
<line x1="1203.93" y1="419.40" x2="1203.93" y2="422.90" stroke="#222" stroke-width="1.6" />
<line x1="1258.70" y1="419.40" x2="1258.70" y2="426.40" stroke="#222" stroke-width="1.6" />
<text x="762.14" y="75.00" font-size="35.00" textLength="47.74" lengthAdjust="spacingAndGlyphs" fill="#000">1.0</text>
<text x="762.86" y="163.60" font-size="35.00" textLength="46.48" lengthAdjust="spacingAndGlyphs" fill="#000">0.5</text>
<text x="762.85" y="252.20" font-size="35.00" textLength="47.01" lengthAdjust="spacingAndGlyphs" fill="#000">0.0</text>
<text x="740.91" y="340.80" font-size="35.00" textLength="68.42" lengthAdjust="spacingAndGlyphs" fill="#000">−0.5</text>
<text x="740.90" y="429.40" font-size="35.00" textLength="68.96" lengthAdjust="spacingAndGlyphs" fill="#000">−1.0</text>
<text x="796.43" y="458.20" font-size="35.00" textLength="47.63" lengthAdjust="spacingAndGlyphs" fill="#000">0.1</text>
<text x="905.96" y="458.20" font-size="35.00" textLength="48.18" lengthAdjust="spacingAndGlyphs" fill="#000">0.2</text>
<text x="1015.52" y="458.20" font-size="35.00" textLength="47.99" lengthAdjust="spacingAndGlyphs" fill="#000">0.3</text>
<text x="1125.10" y="458.20" font-size="35.00" textLength="46.92" lengthAdjust="spacingAndGlyphs" fill="#000">0.4</text>
<text x="1234.63" y="458.20" font-size="35.00" textLength="47.63" lengthAdjust="spacingAndGlyphs" fill="#000">0.5</text>
<rect x="219.0" y="1267.0" width="1166.5" height="941.5" fill="none" stroke="#000" stroke-width="3.2"/>
<line x1="209.50" y1="1266.94" x2="219.00" y2="1266.94" stroke="#000" stroke-width="3.2" />
<line x1="200.00" y1="1345.40" x2="219.00" y2="1345.40" stroke="#000" stroke-width="3.2" />
<line x1="209.50" y1="1423.86" x2="219.00" y2="1423.86" stroke="#000" stroke-width="3.2" />
<line x1="200.00" y1="1502.32" x2="219.00" y2="1502.32" stroke="#000" stroke-width="3.2" />
<line x1="209.50" y1="1580.78" x2="219.00" y2="1580.78" stroke="#000" stroke-width="3.2" />
<line x1="200.00" y1="1659.23" x2="219.00" y2="1659.23" stroke="#000" stroke-width="3.2" />
<line x1="209.50" y1="1737.69" x2="219.00" y2="1737.69" stroke="#000" stroke-width="3.2" />
<line x1="200.00" y1="1816.15" x2="219.00" y2="1816.15" stroke="#000" stroke-width="3.2" />
<line x1="209.50" y1="1894.61" x2="219.00" y2="1894.61" stroke="#000" stroke-width="3.2" />
<line x1="200.00" y1="1973.07" x2="219.00" y2="1973.07" stroke="#000" stroke-width="3.2" />
<line x1="209.50" y1="2051.53" x2="219.00" y2="2051.53" stroke="#000" stroke-width="3.2" />
<line x1="200.00" y1="2129.98" x2="219.00" y2="2129.98" stroke="#000" stroke-width="3.2" />
<line x1="209.50" y1="2208.44" x2="219.00" y2="2208.44" stroke="#000" stroke-width="3.2" />
<line x1="218.99" y1="2208.50" x2="218.99" y2="2218.00" stroke="#000" stroke-width="3.2" />
<line x1="316.20" y1="2208.50" x2="316.20" y2="2227.50" stroke="#000" stroke-width="3.2" />
<line x1="413.41" y1="2208.50" x2="413.41" y2="2218.00" stroke="#000" stroke-width="3.2" />
<line x1="510.62" y1="2208.50" x2="510.62" y2="2227.50" stroke="#000" stroke-width="3.2" />
<line x1="607.83" y1="2208.50" x2="607.83" y2="2218.00" stroke="#000" stroke-width="3.2" />
<line x1="705.03" y1="2208.50" x2="705.03" y2="2227.50" stroke="#000" stroke-width="3.2" />
<line x1="802.24" y1="2208.50" x2="802.24" y2="2218.00" stroke="#000" stroke-width="3.2" />
<line x1="899.45" y1="2208.50" x2="899.45" y2="2227.50" stroke="#000" stroke-width="3.2" />
<line x1="996.66" y1="2208.50" x2="996.66" y2="2218.00" stroke="#000" stroke-width="3.2" />
<line x1="1093.87" y1="2208.50" x2="1093.87" y2="2227.50" stroke="#000" stroke-width="3.2" />
<line x1="1191.08" y1="2208.50" x2="1191.08" y2="2218.00" stroke="#000" stroke-width="3.2" />
<line x1="1288.28" y1="2208.50" x2="1288.28" y2="2227.50" stroke="#000" stroke-width="3.2" />
<line x1="1385.49" y1="2208.50" x2="1385.49" y2="2218.00" stroke="#000" stroke-width="3.2" />
<text x="115.50" y="1359.40" font-size="52.00" textLength="72.90" lengthAdjust="spacingAndGlyphs" fill="#000">0.0</text>
<text x="90.84" y="1516.32" font-size="52.00" textLength="96.64" lengthAdjust="spacingAndGlyphs" fill="#000">−0.1</text>
<text x="90.83" y="1673.23" font-size="52.00" textLength="97.40" lengthAdjust="spacingAndGlyphs" fill="#000">−0.2</text>
<text x="90.83" y="1830.15" font-size="52.00" textLength="97.15" lengthAdjust="spacingAndGlyphs" fill="#000">−0.3</text>
<text x="90.86" y="1987.07" font-size="52.00" textLength="95.64" lengthAdjust="spacingAndGlyphs" fill="#000">−0.4</text>
<text x="90.84" y="2143.98" font-size="52.00" textLength="96.64" lengthAdjust="spacingAndGlyphs" fill="#000">−0.5</text>
<text x="279.81" y="2281.50" font-size="52.00" textLength="72.80" lengthAdjust="spacingAndGlyphs" fill="#000">0.0</text>
<text x="474.25" y="2281.50" font-size="52.00" textLength="71.97" lengthAdjust="spacingAndGlyphs" fill="#000">0.1</text>
<text x="668.64" y="2281.50" font-size="52.00" textLength="72.80" lengthAdjust="spacingAndGlyphs" fill="#000">0.2</text>
<text x="863.06" y="2281.50" font-size="52.00" textLength="72.52" lengthAdjust="spacingAndGlyphs" fill="#000">0.3</text>
<text x="1057.53" y="2281.50" font-size="52.00" textLength="70.90" lengthAdjust="spacingAndGlyphs" fill="#000">0.4</text>
<text x="1251.91" y="2281.50" font-size="52.00" textLength="71.97" lengthAdjust="spacingAndGlyphs" fill="#000">0.5</text>
<text x="-2.83" y="1276.00" font-size="67.00" textLength="84.95" lengthAdjust="spacingAndGlyphs" fill="#000">(b)</text>
<rect x="298.70" y="1323.14" width="35" height="34.8" fill="#000"/>
<rect x="541.72" y="1500.61" width="35" height="34.8" fill="#000"/>
<rect x="784.74" y="1666.94" width="35" height="34.8" fill="#000"/>
<rect x="1027.76" y="1833.90" width="35" height="34.8" fill="#000"/>
<rect x="1270.78" y="2013.10" width="35" height="34.8" fill="#000"/>
<line x1="316.20" y1="1342.58" x2="1288.28" y2="2026.73" stroke="#ff0000" stroke-width="3.4" stroke-dasharray="3.2 18.7"/>
<text x="884.21" y="1334.00" font-size="46.00" textLength="466.12" lengthAdjust="spacingAndGlyphs" fill="#000">y = -0.872 x + 0.0018</text>
<text x="883.13" y="1414.70" font-size="46.00" textLength="32.98" lengthAdjust="spacingAndGlyphs" fill="#000">R</text>
<text x="915.80" y="1394.30" font-size="31.00" textLength="19.12" lengthAdjust="spacingAndGlyphs" fill="#000">2</text>
<text x="941.98" y="1414.70" font-size="46.00" textLength="170.26" lengthAdjust="spacingAndGlyphs" fill="#000">= 0.999</text>
<g transform="translate(61.20,1997.80) rotate(-90)"><text x="-4.19" y="0.00" font-size="61.50" textLength="242.85" lengthAdjust="spacingAndGlyphs" fill="#000">i at 0.2 V</text><text x="254.53" y="0.00" font-size="61.50" textLength="225.20" lengthAdjust="spacingAndGlyphs" fill="#000">(mA/cm</text><text x="481.27" y="-26.80" font-size="43.00" textLength="21.09" lengthAdjust="spacingAndGlyphs" fill="#000">2</text><text x="506.20" y="0.00" font-size="61.50" textLength="15.66" lengthAdjust="spacingAndGlyphs" fill="#000">)</text></g>
<text x="664.34" y="2395.00" font-size="61.50" textLength="37.27" lengthAdjust="spacingAndGlyphs" fill="#000">C</text>
<text x="699.68" y="2411.70" font-size="35.00" textLength="70.58" lengthAdjust="spacingAndGlyphs" fill="#000">Ag+</text>
<text x="785.81" y="2395.00" font-size="61.50" textLength="152.37" lengthAdjust="spacingAndGlyphs" fill="#000">(mM)</text>
<line x1="218.50" y1="2491.60" x2="1386.70" y2="2491.60" stroke="#000" stroke-width="3.2" />
<line x1="218.50" y1="3431.50" x2="1388.20" y2="3431.50" stroke="#000" stroke-width="3.2" />
<line x1="220.00" y1="2491.60" x2="220.00" y2="3431.50" stroke="#666666" stroke-width="3.2" />
<line x1="1386.70" y1="2491.60" x2="1386.70" y2="3432.50" stroke="#EE3E42" stroke-width="3.2" />
<line x1="220.06" y1="3431.50" x2="220.06" y2="3440.50" stroke="#000" stroke-width="3.2" />
<line x1="303.40" y1="3431.50" x2="303.40" y2="3448.50" stroke="#000" stroke-width="3.2" />
<line x1="303.40" y1="2491.60" x2="303.40" y2="2508.60" stroke="#000" stroke-width="3.2" />
<line x1="386.74" y1="3431.50" x2="386.74" y2="3440.50" stroke="#000" stroke-width="3.2" />
<line x1="386.74" y1="2491.60" x2="386.74" y2="2499.60" stroke="#000" stroke-width="3.2" />
<line x1="470.07" y1="3431.50" x2="470.07" y2="3448.50" stroke="#000" stroke-width="3.2" />
<line x1="470.07" y1="2491.60" x2="470.07" y2="2508.60" stroke="#000" stroke-width="3.2" />
<line x1="553.41" y1="3431.50" x2="553.41" y2="3440.50" stroke="#000" stroke-width="3.2" />
<line x1="553.41" y1="2491.60" x2="553.41" y2="2499.60" stroke="#000" stroke-width="3.2" />
<line x1="636.74" y1="3431.50" x2="636.74" y2="3448.50" stroke="#000" stroke-width="3.2" />
<line x1="636.74" y1="2491.60" x2="636.74" y2="2508.60" stroke="#000" stroke-width="3.2" />
<line x1="720.08" y1="3431.50" x2="720.08" y2="3440.50" stroke="#000" stroke-width="3.2" />
<line x1="720.08" y1="2491.60" x2="720.08" y2="2499.60" stroke="#000" stroke-width="3.2" />
<line x1="803.41" y1="3431.50" x2="803.41" y2="3448.50" stroke="#000" stroke-width="3.2" />
<line x1="803.41" y1="2491.60" x2="803.41" y2="2508.60" stroke="#000" stroke-width="3.2" />
<line x1="886.75" y1="3431.50" x2="886.75" y2="3440.50" stroke="#000" stroke-width="3.2" />
<line x1="886.75" y1="2491.60" x2="886.75" y2="2499.60" stroke="#000" stroke-width="3.2" />
<line x1="970.09" y1="3431.50" x2="970.09" y2="3448.50" stroke="#000" stroke-width="3.2" />
<line x1="970.09" y1="2491.60" x2="970.09" y2="2508.60" stroke="#000" stroke-width="3.2" />
<line x1="1053.42" y1="3431.50" x2="1053.42" y2="3440.50" stroke="#000" stroke-width="3.2" />
<line x1="1053.42" y1="2491.60" x2="1053.42" y2="2499.60" stroke="#000" stroke-width="3.2" />
<line x1="1136.76" y1="3431.50" x2="1136.76" y2="3448.50" stroke="#000" stroke-width="3.2" />
<line x1="1136.76" y1="2491.60" x2="1136.76" y2="2508.60" stroke="#000" stroke-width="3.2" />
<line x1="1220.09" y1="3431.50" x2="1220.09" y2="3440.50" stroke="#000" stroke-width="3.2" />
<line x1="1220.09" y1="2491.60" x2="1220.09" y2="2499.60" stroke="#000" stroke-width="3.2" />
<line x1="1303.43" y1="3431.50" x2="1303.43" y2="3448.50" stroke="#000" stroke-width="3.2" />
<line x1="1303.43" y1="2491.60" x2="1303.43" y2="2508.60" stroke="#000" stroke-width="3.2" />
<line x1="1386.76" y1="3431.50" x2="1386.76" y2="3440.50" stroke="#000" stroke-width="3.2" />
<line x1="211.00" y1="3430.64" x2="220.00" y2="3430.64" stroke="#666666" stroke-width="3.2" />
<line x1="1386.70" y1="3430.64" x2="1395.70" y2="3430.64" stroke="#EE3E42" stroke-width="3.2" />
<line x1="202.00" y1="3363.50" x2="220.00" y2="3363.50" stroke="#666666" stroke-width="3.2" />
<line x1="1386.70" y1="3363.50" x2="1404.70" y2="3363.50" stroke="#EE3E42" stroke-width="3.2" />
<line x1="211.00" y1="3296.36" x2="220.00" y2="3296.36" stroke="#666666" stroke-width="3.2" />
<line x1="1386.70" y1="3296.36" x2="1395.70" y2="3296.36" stroke="#EE3E42" stroke-width="3.2" />
<line x1="202.00" y1="3229.23" x2="220.00" y2="3229.23" stroke="#666666" stroke-width="3.2" />
<line x1="1386.70" y1="3229.23" x2="1404.70" y2="3229.23" stroke="#EE3E42" stroke-width="3.2" />
<line x1="211.00" y1="3162.09" x2="220.00" y2="3162.09" stroke="#666666" stroke-width="3.2" />
<line x1="1386.70" y1="3162.09" x2="1395.70" y2="3162.09" stroke="#EE3E42" stroke-width="3.2" />
<line x1="202.00" y1="3094.96" x2="220.00" y2="3094.96" stroke="#666666" stroke-width="3.2" />
<line x1="1386.70" y1="3094.96" x2="1404.70" y2="3094.96" stroke="#EE3E42" stroke-width="3.2" />
<line x1="211.00" y1="3027.82" x2="220.00" y2="3027.82" stroke="#666666" stroke-width="3.2" />
<line x1="1386.70" y1="3027.82" x2="1395.70" y2="3027.82" stroke="#EE3E42" stroke-width="3.2" />
<line x1="202.00" y1="2960.69" x2="220.00" y2="2960.69" stroke="#666666" stroke-width="3.2" />
<line x1="1386.70" y1="2960.69" x2="1404.70" y2="2960.69" stroke="#EE3E42" stroke-width="3.2" />
<line x1="211.00" y1="2893.55" x2="220.00" y2="2893.55" stroke="#666666" stroke-width="3.2" />
<line x1="1386.70" y1="2893.55" x2="1395.70" y2="2893.55" stroke="#EE3E42" stroke-width="3.2" />
<line x1="202.00" y1="2826.41" x2="220.00" y2="2826.41" stroke="#666666" stroke-width="3.2" />
<line x1="1386.70" y1="2826.41" x2="1404.70" y2="2826.41" stroke="#EE3E42" stroke-width="3.2" />
<line x1="211.00" y1="2759.28" x2="220.00" y2="2759.28" stroke="#666666" stroke-width="3.2" />
<line x1="1386.70" y1="2759.28" x2="1395.70" y2="2759.28" stroke="#EE3E42" stroke-width="3.2" />
<line x1="202.00" y1="2692.14" x2="220.00" y2="2692.14" stroke="#666666" stroke-width="3.2" />
<line x1="1386.70" y1="2692.14" x2="1404.70" y2="2692.14" stroke="#EE3E42" stroke-width="3.2" />
<line x1="211.00" y1="2625.01" x2="220.00" y2="2625.01" stroke="#666666" stroke-width="3.2" />
<line x1="1386.70" y1="2625.01" x2="1395.70" y2="2625.01" stroke="#EE3E42" stroke-width="3.2" />
<line x1="202.00" y1="2557.87" x2="220.00" y2="2557.87" stroke="#666666" stroke-width="3.2" />
<line x1="1386.70" y1="2557.87" x2="1404.70" y2="2557.87" stroke="#EE3E42" stroke-width="3.2" />
<line x1="211.00" y1="2490.74" x2="220.00" y2="2490.74" stroke="#666666" stroke-width="3.2" />
<line x1="1386.70" y1="2490.74" x2="1395.70" y2="2490.74" stroke="#EE3E42" stroke-width="3.2" />
<text x="116.40" y="3377.80" font-size="52.00" textLength="72.90" lengthAdjust="spacingAndGlyphs" fill="#666666">0.0</text>
<text x="1416.91" y="3377.80" font-size="52.00" textLength="72.48" lengthAdjust="spacingAndGlyphs" fill="#EE3E42">0.0</text>
<text x="116.43" y="3243.53" font-size="52.00" textLength="72.08" lengthAdjust="spacingAndGlyphs" fill="#666666">0.1</text>
<text x="1416.94" y="3243.53" font-size="52.00" textLength="71.66" lengthAdjust="spacingAndGlyphs" fill="#EE3E42">0.1</text>
<text x="116.40" y="3109.26" font-size="52.00" textLength="72.90" lengthAdjust="spacingAndGlyphs" fill="#666666">0.2</text>
<text x="1416.91" y="3109.26" font-size="52.00" textLength="72.48" lengthAdjust="spacingAndGlyphs" fill="#EE3E42">0.2</text>
<text x="116.41" y="2974.99" font-size="52.00" textLength="72.63" lengthAdjust="spacingAndGlyphs" fill="#666666">0.3</text>
<text x="1416.92" y="2974.99" font-size="52.00" textLength="72.20" lengthAdjust="spacingAndGlyphs" fill="#EE3E42">0.3</text>
<text x="116.46" y="2840.71" font-size="52.00" textLength="71.01" lengthAdjust="spacingAndGlyphs" fill="#666666">0.4</text>
<text x="1416.97" y="2840.71" font-size="52.00" textLength="70.59" lengthAdjust="spacingAndGlyphs" fill="#EE3E42">0.4</text>
<text x="116.43" y="2706.44" font-size="52.00" textLength="72.08" lengthAdjust="spacingAndGlyphs" fill="#666666">0.5</text>
<text x="1416.94" y="2706.44" font-size="52.00" textLength="71.66" lengthAdjust="spacingAndGlyphs" fill="#EE3E42">0.5</text>
<text x="116.41" y="2572.17" font-size="52.00" textLength="72.63" lengthAdjust="spacingAndGlyphs" fill="#666666">0.6</text>
<text x="1416.92" y="2572.17" font-size="52.00" textLength="72.20" lengthAdjust="spacingAndGlyphs" fill="#EE3E42">0.6</text>
<text x="288.74" y="3502.50" font-size="52.00" textLength="29.39" lengthAdjust="spacingAndGlyphs" fill="#000">0</text>
<text x="441.78" y="3502.50" font-size="52.00" textLength="56.96" lengthAdjust="spacingAndGlyphs" fill="#000">20</text>
<text x="609.49" y="3502.50" font-size="52.00" textLength="55.88" lengthAdjust="spacingAndGlyphs" fill="#000">40</text>
<text x="775.12" y="3502.50" font-size="52.00" textLength="56.96" lengthAdjust="spacingAndGlyphs" fill="#000">60</text>
<text x="942.06" y="3502.50" font-size="52.00" textLength="56.69" lengthAdjust="spacingAndGlyphs" fill="#000">80</text>
<text x="1093.15" y="3502.50" font-size="52.00" textLength="86.36" lengthAdjust="spacingAndGlyphs" fill="#000">100</text>
<text x="1259.82" y="3502.50" font-size="52.00" textLength="86.36" lengthAdjust="spacingAndGlyphs" fill="#000">120</text>
<text x="-2.58" y="2500.60" font-size="67.00" textLength="75.29" lengthAdjust="spacingAndGlyphs" fill="#000">(c)</text>
<polyline points="303.40,2689.73 553.41,2668.51 803.41,2886.84 1053.42,3049.30 1303.43,3130.54" fill="none" stroke="#666666" stroke-width="3"/>
<rect x="286.10" y="2672.73" width="34.6" height="34" fill="#666666"/>
<rect x="536.11" y="2651.51" width="34.6" height="34" fill="#666666"/>
<rect x="786.11" y="2869.84" width="34.6" height="34" fill="#666666"/>
<rect x="1036.12" y="3032.30" width="34.6" height="34" fill="#666666"/>
<rect x="1286.13" y="3113.54" width="34.6" height="34" fill="#666666"/>
<polyline points="303.40,2692.81 553.41,2721.95 803.41,2752.57 1053.42,2782.64 1303.43,2813.12" fill="none" stroke="#EE3E42" stroke-width="3"/>
<circle cx="303.40" cy="2692.81" r="15" fill="#fff" stroke="#EE3E42" stroke-width="8"/>
<circle cx="553.41" cy="2721.95" r="15" fill="#fff" stroke="#EE3E42" stroke-width="8"/>
<circle cx="803.41" cy="2752.57" r="15" fill="#fff" stroke="#EE3E42" stroke-width="8"/>
<circle cx="1053.42" cy="2782.64" r="15" fill="#fff" stroke="#EE3E42" stroke-width="8"/>
<circle cx="1303.43" cy="2813.12" r="15" fill="#fff" stroke="#EE3E42" stroke-width="8"/>
<line x1="242.80" y1="3282.90" x2="377.90" y2="3282.90" stroke="#666666" stroke-width="3" />
<rect x="293.0" y="3265.8" width="35" height="34" fill="#666666"/>
<line x1="242.80" y1="3368.30" x2="377.90" y2="3368.30" stroke="#EE3E42" stroke-width="3" />
<circle cx="310.5" cy="3368.3" r="14.6" fill="#fff" stroke="#EE3E42" stroke-width="7.6"/>
<text x="390.18" y="3302.50" font-size="49.00" textLength="30.98" lengthAdjust="spacingAndGlyphs" fill="#000">C</text>
<text x="419.73" y="3315.40" font-size="30.50" textLength="59.22" lengthAdjust="spacingAndGlyphs" fill="#000">Ag+</text>
<text x="390.18" y="3387.10" font-size="49.00" textLength="30.98" lengthAdjust="spacingAndGlyphs" fill="#000">C</text>
<text x="419.23" y="3400.50" font-size="30.50" textLength="78.58" lengthAdjust="spacingAndGlyphs" fill="#000">Cu2+</text>
<text x="508.64" y="3619.20" font-size="61.50" textLength="283.03" lengthAdjust="spacingAndGlyphs" fill="#000">Activation</text>
<text x="807.99" y="3619.20" font-size="61.50" textLength="125.01" lengthAdjust="spacingAndGlyphs" fill="#000">time</text>
<text x="946.53" y="3619.20" font-size="61.50" textLength="150.18" lengthAdjust="spacingAndGlyphs" fill="#000">(min)</text>
<g transform="translate(68.50,3096.00) rotate(-90)"><text x="-1.86" y="0.00" font-size="62.00" textLength="33.52" lengthAdjust="spacingAndGlyphs" fill="#000">C</text><text x="32.06" y="17.50" font-size="41.00" textLength="72.24" lengthAdjust="spacingAndGlyphs" fill="#000">Ag+</text><text x="119.09" y="0.00" font-size="61.50" textLength="153.10" lengthAdjust="spacingAndGlyphs" fill="#000">(mM)</text></g>
<g transform="translate(1528.50,2849.80) rotate(90)"><text x="-1.86" y="0.00" font-size="62.00" textLength="33.63" lengthAdjust="spacingAndGlyphs" fill="#EE3E42">C</text><text x="32.17" y="18.10" font-size="41.00" textLength="94.59" lengthAdjust="spacingAndGlyphs" fill="#EE3E42">Cu2+</text><text x="141.12" y="0.00" font-size="61.50" textLength="98.41" lengthAdjust="spacingAndGlyphs" fill="#EE3E42">(M)</text></g>
</svg></body></html>
